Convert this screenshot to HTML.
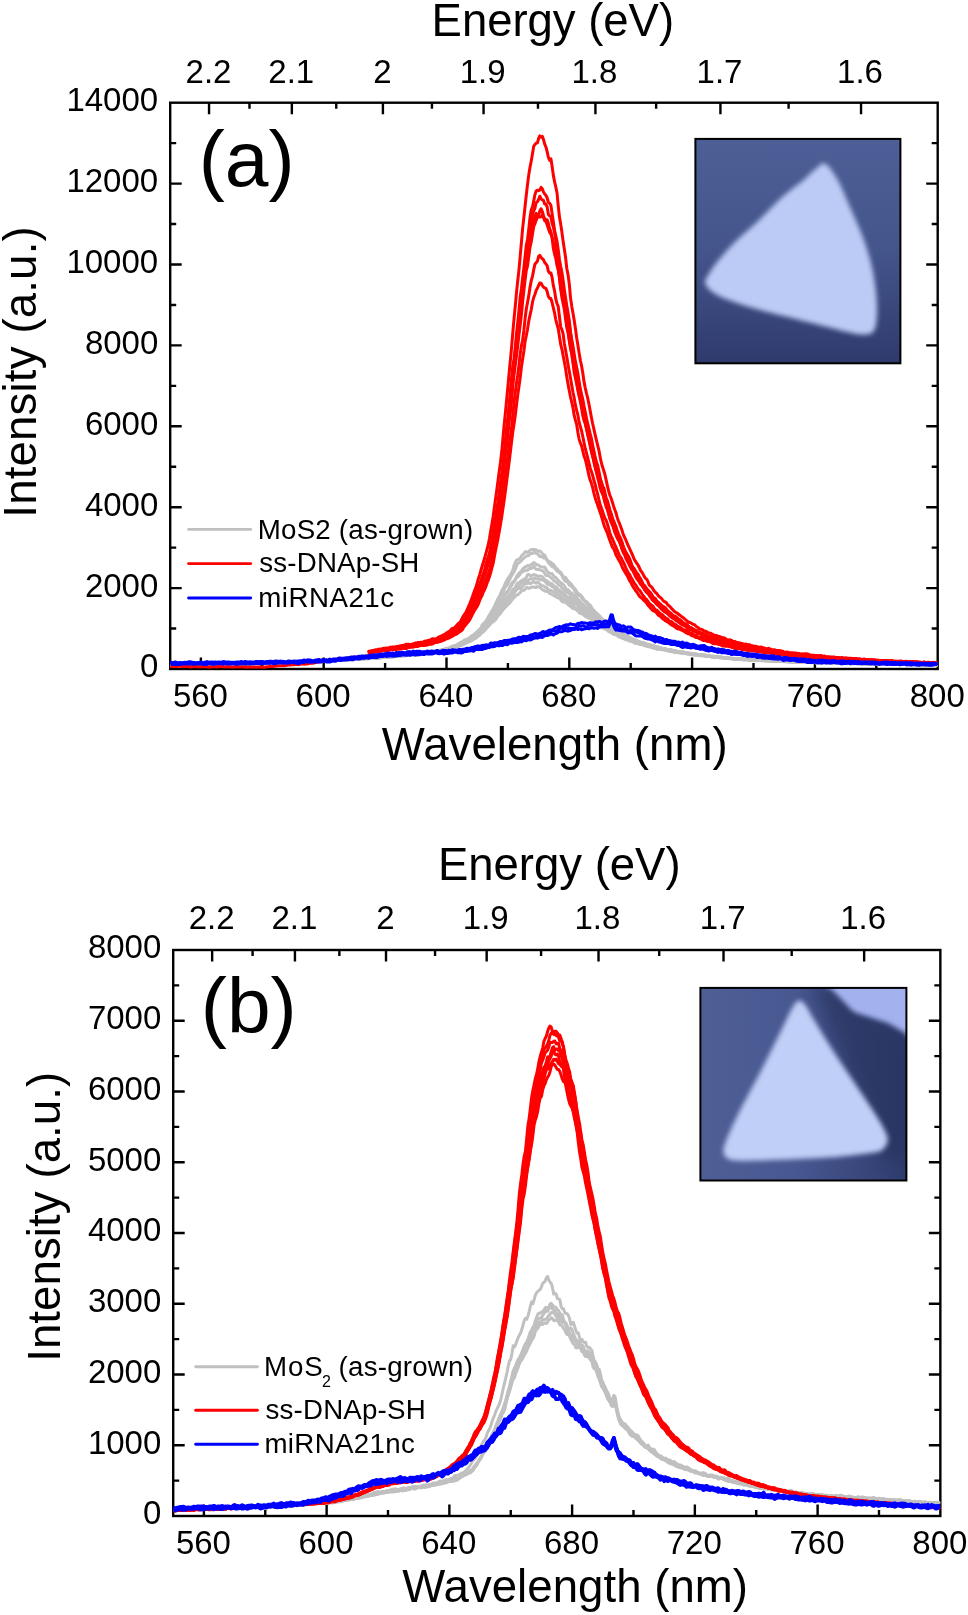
<!DOCTYPE html>
<html><head><meta charset="utf-8"><title>PL spectra</title>
<style>html,body{margin:0;padding:0;background:#fff;}svg{display:block;will-change:transform;}text{font-family:"Liberation Sans",sans-serif;fill:#000;}</style>
</head><body>
<svg width="968" height="1615" viewBox="0 0 968 1615">
<rect width="968" height="1615" fill="#fff"/>
<rect x="170.20" y="102.70" width="767.50" height="566.30" fill="none" stroke="#000" stroke-width="2.4"/>
<path d="M200.90 669.00v-11.50M262.30 669.00v-6.00M323.70 669.00v-11.50M385.10 669.00v-6.00M446.50 669.00v-11.50M507.90 669.00v-6.00M569.30 669.00v-11.50M630.70 669.00v-6.00M692.10 669.00v-11.50M753.50 669.00v-6.00M814.90 669.00v-11.50M876.30 669.00v-6.00M209.05 102.70v11.50M249.48 102.70v6.00M291.84 102.70v11.50M336.27 102.70v6.00M382.91 102.70v11.50M431.95 102.70v6.00M483.57 102.70v11.50M537.98 102.70v6.00M595.42 102.70v11.50M656.13 102.70v6.00M720.42 102.70v11.50M788.60 102.70v6.00M861.04 102.70v11.50M170.20 628.55h6.00M937.70 628.55h-6.00M170.20 588.10h11.50M937.70 588.10h-11.50M170.20 547.65h6.00M937.70 547.65h-6.00M170.20 507.20h11.50M937.70 507.20h-11.50M170.20 466.75h6.00M937.70 466.75h-6.00M170.20 426.30h11.50M937.70 426.30h-11.50M170.20 385.85h6.00M937.70 385.85h-6.00M170.20 345.40h11.50M937.70 345.40h-11.50M170.20 304.95h6.00M937.70 304.95h-6.00M170.20 264.50h11.50M937.70 264.50h-11.50M170.20 224.05h6.00M937.70 224.05h-6.00M170.20 183.60h11.50M937.70 183.60h-11.50M170.20 143.15h6.00M937.70 143.15h-6.00" stroke="#000" stroke-width="2.4" fill="none"/>
<text x="172.92" y="707.00" font-size="33.00" font-family="Liberation Sans, sans-serif">560</text>
<text x="295.60" y="707.00" font-size="33.00" font-family="Liberation Sans, sans-serif">600</text>
<text x="418.40" y="707.00" font-size="33.00" font-family="Liberation Sans, sans-serif">640</text>
<text x="541.20" y="707.00" font-size="33.00" font-family="Liberation Sans, sans-serif">680</text>
<text x="664.00" y="707.00" font-size="33.00" font-family="Liberation Sans, sans-serif">720</text>
<text x="786.80" y="707.00" font-size="33.00" font-family="Liberation Sans, sans-serif">760</text>
<text x="909.73" y="707.00" font-size="33.00" font-family="Liberation Sans, sans-serif">800</text>
<text x="185.55" y="82.70" font-size="33.00" font-family="Liberation Sans, sans-serif">2.2</text>
<text x="268.34" y="82.70" font-size="33.00" font-family="Liberation Sans, sans-serif">2.1</text>
<text x="373.16" y="82.70" font-size="33.00" font-family="Liberation Sans, sans-serif">2</text>
<text x="459.70" y="82.70" font-size="33.00" font-family="Liberation Sans, sans-serif">1.9</text>
<text x="571.42" y="82.70" font-size="33.00" font-family="Liberation Sans, sans-serif">1.8</text>
<text x="696.54" y="82.70" font-size="33.00" font-family="Liberation Sans, sans-serif">1.7</text>
<text x="837.04" y="82.70" font-size="33.00" font-family="Liberation Sans, sans-serif">1.6</text>
<text x="139.90" y="677.40" font-size="33.00" font-family="Liberation Sans, sans-serif">0</text>
<text x="84.90" y="596.50" font-size="33.00" font-family="Liberation Sans, sans-serif">2000</text>
<text x="84.90" y="515.60" font-size="33.00" font-family="Liberation Sans, sans-serif">4000</text>
<text x="84.90" y="434.70" font-size="33.00" font-family="Liberation Sans, sans-serif">6000</text>
<text x="84.90" y="353.80" font-size="33.00" font-family="Liberation Sans, sans-serif">8000</text>
<text x="66.40" y="272.90" font-size="33.00" font-family="Liberation Sans, sans-serif">10000</text>
<text x="66.40" y="192.00" font-size="33.00" font-family="Liberation Sans, sans-serif">12000</text>
<text x="66.40" y="111.10" font-size="33.00" font-family="Liberation Sans, sans-serif">14000</text>
<rect x="173.20" y="950.00" width="767.15" height="566.00" fill="none" stroke="#000" stroke-width="2.4"/>
<path d="M203.89 1516.00v-11.50M265.26 1516.00v-6.00M326.63 1516.00v-11.50M388.00 1516.00v-6.00M449.37 1516.00v-11.50M510.75 1516.00v-6.00M572.12 1516.00v-11.50M633.49 1516.00v-6.00M694.86 1516.00v-11.50M756.23 1516.00v-6.00M817.61 1516.00v-11.50M878.98 1516.00v-6.00M212.15 950.00v11.50M252.58 950.00v6.00M294.94 950.00v11.50M339.37 950.00v6.00M386.01 950.00v11.50M435.05 950.00v6.00M486.67 950.00v11.50M541.08 950.00v6.00M598.52 950.00v11.50M659.23 950.00v6.00M723.52 950.00v11.50M791.70 950.00v6.00M864.14 950.00v11.50M173.20 1480.62h6.00M940.35 1480.62h-6.00M173.20 1445.25h11.50M940.35 1445.25h-11.50M173.20 1409.88h6.00M940.35 1409.88h-6.00M173.20 1374.50h11.50M940.35 1374.50h-11.50M173.20 1339.12h6.00M940.35 1339.12h-6.00M173.20 1303.75h11.50M940.35 1303.75h-11.50M173.20 1268.38h6.00M940.35 1268.38h-6.00M173.20 1233.00h11.50M940.35 1233.00h-11.50M173.20 1197.62h6.00M940.35 1197.62h-6.00M173.20 1162.25h11.50M940.35 1162.25h-11.50M173.20 1126.88h6.00M940.35 1126.88h-6.00M173.20 1091.50h11.50M940.35 1091.50h-11.50M173.20 1056.12h6.00M940.35 1056.12h-6.00M173.20 1020.75h11.50M940.35 1020.75h-11.50M173.20 985.38h6.00M940.35 985.38h-6.00" stroke="#000" stroke-width="2.4" fill="none"/>
<text x="175.91" y="1554.30" font-size="33.00" font-family="Liberation Sans, sans-serif">560</text>
<text x="298.53" y="1554.30" font-size="33.00" font-family="Liberation Sans, sans-serif">600</text>
<text x="421.27" y="1554.30" font-size="33.00" font-family="Liberation Sans, sans-serif">640</text>
<text x="544.02" y="1554.30" font-size="33.00" font-family="Liberation Sans, sans-serif">680</text>
<text x="666.76" y="1554.30" font-size="33.00" font-family="Liberation Sans, sans-serif">720</text>
<text x="789.51" y="1554.30" font-size="33.00" font-family="Liberation Sans, sans-serif">760</text>
<text x="912.37" y="1554.30" font-size="33.00" font-family="Liberation Sans, sans-serif">800</text>
<text x="188.65" y="928.50" font-size="33.00" font-family="Liberation Sans, sans-serif">2.2</text>
<text x="271.44" y="928.50" font-size="33.00" font-family="Liberation Sans, sans-serif">2.1</text>
<text x="376.26" y="928.50" font-size="33.00" font-family="Liberation Sans, sans-serif">2</text>
<text x="462.80" y="928.50" font-size="33.00" font-family="Liberation Sans, sans-serif">1.9</text>
<text x="574.52" y="928.50" font-size="33.00" font-family="Liberation Sans, sans-serif">1.8</text>
<text x="699.64" y="928.50" font-size="33.00" font-family="Liberation Sans, sans-serif">1.7</text>
<text x="840.14" y="928.50" font-size="33.00" font-family="Liberation Sans, sans-serif">1.6</text>
<text x="142.90" y="1524.40" font-size="33.00" font-family="Liberation Sans, sans-serif">0</text>
<text x="87.90" y="1453.65" font-size="33.00" font-family="Liberation Sans, sans-serif">1000</text>
<text x="87.90" y="1382.90" font-size="33.00" font-family="Liberation Sans, sans-serif">2000</text>
<text x="87.90" y="1312.15" font-size="33.00" font-family="Liberation Sans, sans-serif">3000</text>
<text x="87.90" y="1241.40" font-size="33.00" font-family="Liberation Sans, sans-serif">4000</text>
<text x="87.90" y="1170.65" font-size="33.00" font-family="Liberation Sans, sans-serif">5000</text>
<text x="87.90" y="1099.90" font-size="33.00" font-family="Liberation Sans, sans-serif">6000</text>
<text x="87.90" y="1029.15" font-size="33.00" font-family="Liberation Sans, sans-serif">7000</text>
<text x="87.90" y="958.40" font-size="33.00" font-family="Liberation Sans, sans-serif">8000</text>
<clipPath id="ca"><rect x="170.2" y="102.7" width="767.5" height="566.3"/></clipPath>
<g clip-path="url(#ca)">
<path d="M170.2 665.2l1.2 0l1.3 .1l1.2 -.1l1.2 -.2l1.2 .2l1.3 -.2l1.2 -.3l1.2 .3l1.3 0l1.2 -.1l1.2 .1l1.2 -.2l1.3 .1l1.2 0l1.2 -.2l1.2 -.1l1.3 .1l1.2 0l1.2 .1l1.3 .1l1.2 -.2l1.2 .1l1.2 0l1.3 -.3l1.2 -.3l1.2 .1l1.3 .1l1.2 .2l1.2 .2l1.2 0l1.3 -.2l1.2 -.3l1.2 .1l1.3 .2l1.2 -.1l1.2 -.2l1.2 0l1.3 -.1l1.2 0l1.2 .1l1.2 .1l1.3 -.1l1.2 -.2l1.2 0l1.3 .1l1.2 -.1l1.2 0l1.2 -.1l1.3 0l1.2 -.1l1.2 .1l1.3 0l1.2 .1l1.2 0l1.2 -.1l1.3 0l1.2 -.2l1.2 0l1.3 .1l1.2 .1l1.2 0l1.2 -.2l1.3 0l1.2 -.1l1.2 0l1.2 .1l1.3 0l1.2 -.2l1.2 -.2l1.3 .1l1.2 0l1.2 -.3l1.2 0l1.3 .2l1.2 -.1l1.2 -.1l1.3 .1l1.2 .1l1.2 -.2l1.2 -.2l1.3 .1l1.2 0l1.2 -.2l1.3 -.2l1.2 0l1.2 0l1.2 0l1.3 -.1l1.2 -.1l1.2 0l1.2 .1l1.3 0l1.2 0l1.2 0l1.3 -.1l1.2 -.2l1.2 .2l1.2 0l1.3 -.4l1.2 0l1.2 .3l1.3 -.1l1.2 -.3l1.2 -.1l1.2 .1l1.3 -.3l1.2 -.3l1.2 .2l1.3 .1l1.2 -.2l1.2 0l1.2 -.2l1.3 0l1.2 .1l1.2 .1l1.2 0l1.3 -.1l1.2 -.3l1.2 -.1l1.3 .1l1.2 0l1.2 -.1l1.2 -.1l1.3 .1l1.2 .2l1.2 -.1l1.3 -.2l1.2 -.3l1.2 -.2l1.2 .2l1.3 .1l1.2 -.2l1.2 -.1l1.3 -.2l1.2 -.2l1.2 .1l1.2 0l1.3 .1l1.2 .1l1.2 -.5l1.2 -.3l1.3 .1l1.2 0l1.2 .1l1.3 .1l1.2 -.3l1.2 -.4l1.2 .2l1.3 0l1.2 -.4l1.2 -.1l1.3 .1l1.2 .1l1.2 -.2l1.2 0l1.3 0l1.2 -.1l1.2 -.2l1.3 -.2l1.2 -.1l1.2 -.1l1.2 0l1.3 0l1.2 -.3l1.2 -.2l1.2 .1l1.3 -.2l1.2 -.3l1.2 -.1l1.3 0l1.2 .1l1.2 -.1l1.2 -.1l1.3 -.3l1.2 -.1l1.2 0l1.3 -.1l1.2 -.2l1.2 .2l1.2 0l1.3 -.5l1.2 .1l1.2 -.3l1.3 -.3l1.2 .2l1.2 0l1.2 -.2l1.3 -.3l1.2 0l1.2 -.1l1.2 -.3l1.3 -.3l1.2 0l1.2 .1l1.3 0l1.2 .1l1.2 -.1l1.2 -.6l1.3 -.3l1.2 0l1.2 0l1.3 -.4l1.2 -.2l1.2 -.1l1.2 -.1l1.3 0l1.2 -.3l1.2 0l1.3 .2l1.2 -.2l1.2 -.3l1.2 -.1l1.3 -.3l1.2 -.4l1.2 -.4l1.2 -.1l1.3 0l1.2 -.1l1.2 -.7l1.3 -.2l1.2 -.3l1.2 -.3l1.2 -.1l1.3 -.3l1.2 -.3l1.2 -.3l1.3 -.4l1.2 -.9l1.2 -.5l1.2 -.5l1.3 -.5l1.2 .1l1.2 -.6l1.3 -.7l1.2 -.9l1.2 -.8l1.2 -.6l1.3 -.6l1.2 -.9l1.2 -.8l1.2 -.4l1.3 -.4l1.2 -.5l1.2 -1l1.3 -1.2l1.2 -1l1.2 -.5l1.2 -.8l1.3 -1.4l1.2 -.9l1.2 -1.4l1.3 -1.1l1.2 -1.4l1.2 -2.8l1.2 -1.3l1.3 -1.1l1.2 -1.5l1.2 -1.6l1.3 -2.7l1.2 -1.9l1.2 -1.8l1.2 -2.4l1.3 -2l1.2 -2.3l1.2 -2.6l1.2 -2.7l1.3 -2.6l1.2 -1.8l1.2 -2.8l1.3 -3.5l1.2 -1.6l1.2 -2.6l1.2 -3.2l1.3 -2.4l1.2 -2.2l1.2 -1.4l1.3 -2.1l1.2 -2.1l1.2 -2.6l1.2 -4.6l1.3 -3.2l1.2 -2.2l1.2 -.7l1.3 -.3l1.2 -1.1l1.2 -2l1.2 -1.5l1.3 -1l1.2 -1.8l1.2 0l1.2 .8l1.3 -1.1l1.2 -1.3l1.2 -.7l1.3 .1l1.2 0l1.2 -.2l1.2 .4l1.3 .9l1.2 .6l1.2 -.3l1.3 .9l1.2 1.6l1.2 1.2l1.2 .5l1.3 2.6l1.2 2.8l1.2 .4l1.3 .7l1.2 .7l1.2 1.2l1.2 .5l1.3 1.8l1.2 1.9l1.2 .7l1.2 1.7l1.3 1.3l1.2 .7l1.2 2l1.3 2.4l1.2 .4l1.2 .5l1.2 1.9l1.3 1.5l1.2 1.6l1.2 1l1.3 1.3l1.2 2.1l1.2 1.2l1.2 1.3l1.3 2.1l1.2 1.8l1.2 .7l1.3 .9l1.2 1.1l1.2 1.8l1.2 2.3l1.3 1l1.2 .6l1.2 1.2l1.2 1.5l1.3 .8l1.2 1.7l1.2 2.5l1.3 1.4l1.2 1.1l1.2 1.1l1.2 .9l1.3 1.3l1.2 1.2l1.2 1.6l1.3 1.1l1.2 1.2l1.2 1.3l1.2 1.2l1.3 1.3l1.2 .8l1.2 .9l1.3 .7l1.2 .9l1.2 1l1.2 .7l1.3 1.1l1.2 .9l1.2 .8l1.2 .6l1.3 -.2l1.2 .6l1.2 1.3l1.3 1l1.2 .3l1.2 .6l1.2 1.1l1.3 .7l1.2 .5l1.2 .6l1.3 .3l1.2 .3l1.2 .8l1.2 .6l1.3 .4l1.2 .5l1.2 .5l1.3 -.2l1.2 .2l1.2 .7l1.2 .1l1.3 .6l1.2 .5l1.2 .2l1.2 .4l1.3 .1l1.2 .3l1.2 .8l1.3 .3l1.2 0l1.2 .3l1.2 .7l1.3 .5l1.2 .4l1.2 .2l1.3 .1l1.2 0l1.2 .7l1.2 .4l1.3 .1l1.2 .1l1.2 -.1l1.3 .5l1.2 .5l1.2 .2l1.2 .1l1.3 .4l1.2 .4l1.2 .1l1.2 -.1l1.3 -.2l1.2 .4l1.2 .7l1.3 .2l1.2 .1l1.2 .1l1.2 .2l1.3 .3l1.2 0l1.2 .1l1.3 .2l1.2 0l1.2 .2l1.2 .6l1.3 0l1.2 0l1.2 .3l1.3 -.1l1.2 .2l1.2 .4l1.2 .1l1.3 0l1.2 .1l1.2 .3l1.2 .3l1.3 0l1.2 .1l1.2 .2l1.3 -.2l1.2 .1l1.2 .1l1.2 .4l1.3 .3l1.2 0l1.2 .1l1.3 0l1.2 .2l1.2 .4l1.2 .1l1.3 -.2l1.2 .3l1.2 .3l1.3 .1l1.2 -.1l1.2 .2l1.2 .2l1.3 -.1l1.2 0l1.2 -.2l1.2 -.1l1.3 .5l1.2 0l1.2 .1l1.3 .6l1.2 .1l1.2 -.2l1.2 -.2l1.3 .4l1.2 .1l1.2 -.2l1.3 .1l1.2 0l1.2 .1l1.2 0l1.3 .3l1.2 -.1l1.2 -.1l1.3 .2l1.2 -.1l1.2 .3l1.2 .2l1.3 .1l1.2 .1l1.2 0l1.2 -.1l1.3 -.1l1.2 0l1.2 .2l1.3 .3l1.2 -.3l1.2 -.3l1.2 .5l1.3 .4l1.2 0l1.2 -.1l1.3 -.1l1.2 0l1.2 .1l1.2 .2l1.3 .1l1.2 0l1.2 .1l1.3 0l1.2 0l1.2 .2l1.2 .2l1.3 -.2l1.2 .2l1.2 0l1.2 0l1.3 .1l1.2 0l1.2 0l1.3 0l1.2 -.1l1.2 0l1.2 .1l1.3 0l1.2 .2l1.2 .1l1.3 -.1l1.2 0l1.2 .3l1.2 .3l1.3 -.2l1.2 -.1l1.2 0l1.3 .1l1.2 0l1.2 0l1.2 .1l1.3 .1l1.2 -.2l1.2 -.1l1.2 .4l1.3 .2l1.2 0l1.2 -.1l1.3 -.2l1.2 0l1.2 .3l1.2 .1l1.3 -.3l1.2 .1l1.2 -.1l1.3 .1l1.2 .1l1.2 -.3l1.2 .3l1.3 .3l1.2 -.2l1.2 -.3l1.3 .2l1.2 .3l1.2 -.2l1.2 .2l1.3 .1l1.2 0l1.2 0l1.2 .1l1.3 -.2l1.2 0l1.2 .3l1.3 -.1l1.2 .1l1.2 -.1l1.2 .1l1.3 0l1.2 -.2l1.2 -.1l1.3 .2l1.2 0l1.2 .1l1.2 .1l1.3 .1l1.2 .2l1.2 -.1l1.3 -.2l1.2 -.1l1.2 .1l1.2 0l1.3 .1l1.2 0l1.2 -.1l1.2 .1l1.3 .2l1.2 .1l1.2 -.2l1.3 -.2l1.2 .1l1.2 .3l1.2 -.1l1.3 -.1l1.2 .1l1.2 .1l1.3 0l1.2 -.1l1.2 -.2l1.2 .3l1.3 .2l1.2 -.1l1.2 -.1l1.3 .3l1.2 0l1.2 -.4l1.2 .2l1.3 .2l1.2 -.2l1.2 0l1.2 .3l1.3 .1l1.2 0l1.2 .1l1.3 -.1l1.2 -.1l1.2 0l1.2 -.1l1.3 -.1l1.2 0" stroke="#c0c0c0" stroke-width="3.0" fill="none" stroke-linejoin="round"/>
<path d="M170.2 665.0l1.2 .1l1.3 .1l1.2 -.1l1.2 0l1.2 .2l1.3 -.1l1.2 .1l1.2 .1l1.3 -.2l1.2 -.2l1.2 -.2l1.2 0l1.3 0l1.2 .1l1.2 -.1l1.2 0l1.3 -.1l1.2 .2l1.2 .2l1.3 -.2l1.2 -.1l1.2 .2l1.2 -.1l1.3 -.4l1.2 0l1.2 .1l1.3 -.1l1.2 0l1.2 0l1.2 0l1.3 0l1.2 0l1.2 0l1.3 -.2l1.2 -.1l1.2 -.1l1.2 .1l1.3 0l1.2 0l1.2 -.1l1.2 .1l1.3 .2l1.2 -.1l1.2 .1l1.3 0l1.2 -.2l1.2 .1l1.2 0l1.3 -.2l1.2 -.1l1.2 .1l1.3 -.2l1.2 .1l1.2 .2l1.2 -.1l1.3 -.2l1.2 .1l1.2 0l1.3 -.2l1.2 .1l1.2 0l1.2 0l1.3 -.2l1.2 -.2l1.2 0l1.2 .1l1.3 -.1l1.2 -.2l1.2 .1l1.3 .4l1.2 -.1l1.2 -.6l1.2 0l1.3 .3l1.2 -.2l1.2 -.1l1.3 .1l1.2 -.2l1.2 .2l1.2 0l1.3 -.3l1.2 0l1.2 0l1.3 0l1.2 -.1l1.2 -.3l1.2 .2l1.3 .2l1.2 -.2l1.2 0l1.2 .1l1.3 -.1l1.2 -.1l1.2 0l1.3 -.1l1.2 -.2l1.2 -.1l1.2 0l1.3 -.1l1.2 .1l1.2 .1l1.3 -.2l1.2 -.1l1.2 .1l1.2 -.2l1.3 -.1l1.2 .1l1.2 -.2l1.3 -.1l1.2 .1l1.2 .1l1.2 -.2l1.3 -.1l1.2 -.1l1.2 0l1.2 .1l1.3 .1l1.2 -.3l1.2 -.1l1.3 .1l1.2 -.3l1.2 0l1.2 -.1l1.3 -.2l1.2 .1l1.2 0l1.3 .2l1.2 0l1.2 -.2l1.2 -.1l1.3 -.3l1.2 -.1l1.2 0l1.3 -.1l1.2 0l1.2 0l1.2 .3l1.3 -.1l1.2 -.3l1.2 -.2l1.2 -.1l1.3 0l1.2 -.2l1.2 -.2l1.3 .1l1.2 -.1l1.2 .1l1.2 .1l1.3 -.3l1.2 -.3l1.2 0l1.3 .2l1.2 -.2l1.2 -.4l1.2 -.1l1.3 .2l1.2 -.1l1.2 -.1l1.3 -.3l1.2 -.3l1.2 0l1.2 .2l1.3 -.3l1.2 -.1l1.2 .1l1.2 0l1.3 0l1.2 -.2l1.2 -.1l1.3 -.1l1.2 -.2l1.2 -.1l1.2 0l1.3 0l1.2 -.2l1.2 -.1l1.3 -.1l1.2 -.3l1.2 .1l1.2 .3l1.3 -.4l1.2 -.3l1.2 -.2l1.3 -.2l1.2 .3l1.2 -.5l1.2 -.3l1.3 .2l1.2 .1l1.2 -.3l1.2 -.1l1.3 -.1l1.2 -.4l1.2 .1l1.3 .1l1.2 -.4l1.2 -.4l1.2 -.2l1.3 .2l1.2 -.2l1.2 -.2l1.3 .1l1.2 -.2l1.2 0l1.2 -.6l1.3 -.4l1.2 .2l1.2 .1l1.3 .1l1.2 -.3l1.2 -.4l1.2 0l1.3 -.1l1.2 -.4l1.2 -.2l1.2 .1l1.3 -.4l1.2 -.6l1.2 -.2l1.3 -.1l1.2 .2l1.2 -.2l1.2 -.7l1.3 -.8l1.2 -.6l1.2 0l1.3 .2l1.2 -.3l1.2 -.8l1.2 -.6l1.3 -.4l1.2 -.7l1.2 -.3l1.3 .1l1.2 -.5l1.2 -.7l1.2 -1.3l1.3 -.8l1.2 0l1.2 -.8l1.2 -1.2l1.3 -.6l1.2 -.6l1.2 -1l1.3 -.8l1.2 -.5l1.2 -.8l1.2 -1.2l1.3 -1l1.2 -1.2l1.2 -1.3l1.3 -1l1.2 -1.3l1.2 -1.7l1.2 -1.5l1.3 -1.7l1.2 -2.2l1.2 -.9l1.3 -1.4l1.2 -2.3l1.2 -1.7l1.2 -2.3l1.3 -2.2l1.2 -2.2l1.2 -2.3l1.2 -2.1l1.3 -1.9l1.2 -2.1l1.2 -3.2l1.3 -1.8l1.2 -2.7l1.2 -3.4l1.2 -2.2l1.3 -1.3l1.2 -1.5l1.2 -3.7l1.3 -2.5l1.2 -2.5l1.2 -1.9l1.2 -1.7l1.3 -2.7l1.2 -3.1l1.2 -2.5l1.3 -.9l1.2 -.9l1.2 -1.2l1.2 -1.5l1.3 -1l1.2 -1.1l1.2 -.9l1.2 -.3l1.3 -.3l1.2 -1.6l1.2 -.5l1.3 0l1.2 -1.4l1.2 .3l1.2 1.2l1.3 .3l1.2 1.2l1.2 1.6l1.3 -.1l1.2 .3l1.2 1.1l1.2 .2l1.3 .3l1.2 2.2l1.2 1.9l1.3 1.6l1.2 1.2l1.2 1.3l1.2 .6l1.3 .8l1.2 1.5l1.2 1.4l1.2 1.1l1.3 .6l1.2 1.2l1.2 1.7l1.3 3l1.2 1.7l1.2 1.2l1.2 .3l1.3 1.1l1.2 2.3l1.2 .7l1.3 .9l1.2 1.2l1.2 1.9l1.2 2.4l1.3 1.8l1.2 1.4l1.2 .4l1.3 .2l1.2 2l1.2 1.4l1.2 1l1.3 1.2l1.2 1.3l1.2 1.2l1.2 1.3l1.3 2.2l1.2 2.1l1.2 .2l1.3 .4l1.2 2.5l1.2 1.5l1.2 .8l1.3 1.4l1.2 1.8l1.2 .8l1.3 .5l1.2 1.1l1.2 .8l1.2 1l1.3 1l1.2 1.3l1.2 1.4l1.3 1l1.2 .7l1.2 .7l1.2 1.2l1.3 .4l1.2 .2l1.2 1.7l1.2 1.3l1.3 .1l1.2 .5l1.2 .4l1.3 .3l1.2 .8l1.2 .5l1.2 .4l1.3 .9l1.2 .7l1.2 .5l1.3 .6l1.2 .5l1.2 .3l1.2 .4l1.3 .8l1.2 .5l1.2 .6l1.3 .3l1.2 -.1l1.2 .6l1.2 1l1.3 .3l1.2 .1l1.2 .4l1.2 .4l1.3 .3l1.2 .5l1.2 .1l1.3 .2l1.2 .5l1.2 .2l1.2 .4l1.3 .3l1.2 .3l1.2 .4l1.3 .3l1.2 .1l1.2 .4l1.2 .5l1.3 .2l1.2 .2l1.2 -.1l1.3 .2l1.2 .5l1.2 .2l1.2 0l1.3 .4l1.2 .2l1.2 .5l1.2 .5l1.3 -.4l1.2 -.1l1.2 .4l1.3 .4l1.2 .1l1.2 .2l1.2 .1l1.3 -.1l1.2 .3l1.2 .5l1.3 .1l1.2 .1l1.2 .3l1.2 .2l1.3 .2l1.2 0l1.2 0l1.3 .1l1.2 -.2l1.2 .3l1.2 .5l1.3 .2l1.2 .3l1.2 .2l1.2 0l1.3 -.1l1.2 .3l1.2 .2l1.3 .1l1.2 .1l1.2 .2l1.2 -.2l1.3 .2l1.2 .5l1.2 .3l1.3 -.1l1.2 0l1.2 .3l1.2 .3l1.3 0l1.2 .1l1.2 -.1l1.3 0l1.2 .4l1.2 0l1.2 .3l1.3 .2l1.2 -.1l1.2 0l1.2 .1l1.3 -.1l1.2 -.1l1.2 .1l1.3 0l1.2 .2l1.2 0l1.2 0l1.3 .6l1.2 .4l1.2 -.2l1.3 -.3l1.2 .1l1.2 -.1l1.2 .1l1.3 .2l1.2 0l1.2 .2l1.3 .2l1.2 -.1l1.2 -.1l1.2 0l1.3 .1l1.2 .3l1.2 .1l1.2 -.2l1.3 .2l1.2 .1l1.2 -.1l1.3 .1l1.2 .1l1.2 .1l1.2 .1l1.3 .1l1.2 .1l1.2 .1l1.3 .1l1.2 .1l1.2 -.2l1.2 -.1l1.3 .1l1.2 .1l1.2 0l1.3 .1l1.2 .1l1.2 -.1l1.2 .2l1.3 .2l1.2 -.1l1.2 -.1l1.2 .1l1.3 -.3l1.2 .1l1.2 .3l1.3 0l1.2 .2l1.2 .1l1.2 -.1l1.3 .1l1.2 .1l1.2 0l1.3 0l1.2 .2l1.2 -.1l1.2 -.2l1.3 .2l1.2 .1l1.2 .3l1.3 -.1l1.2 -.1l1.2 0l1.2 .1l1.3 .2l1.2 -.1l1.2 -.1l1.2 0l1.3 .1l1.2 .1l1.2 .1l1.3 -.1l1.2 -.2l1.2 .1l1.2 .3l1.3 .1l1.2 -.1l1.2 .1l1.3 -.1l1.2 -.1l1.2 .1l1.2 .2l1.3 .1l1.2 .1l1.2 -.1l1.3 0l1.2 0l1.2 0l1.2 .1l1.3 -.1l1.2 -.1l1.2 .2l1.2 .1l1.3 0l1.2 -.1l1.2 .1l1.3 .1l1.2 0l1.2 -.1l1.2 -.1l1.3 .2l1.2 -.1l1.2 -.1l1.3 .3l1.2 .2l1.2 0l1.2 .1l1.3 0l1.2 -.3l1.2 -.1l1.3 0l1.2 .4l1.2 .1l1.2 -.3l1.3 .3l1.2 .1l1.2 -.2l1.2 -.1l1.3 .3l1.2 .1l1.2 -.2l1.3 -.3l1.2 .1l1.2 .3l1.2 0l1.3 -.1l1.2 0l1.2 -.1l1.3 .1l1.2 .3l1.2 0l1.2 -.1l1.3 -.1l1.2 -.1l1.2 .2l1.3 0l1.2 -.1l1.2 .1l1.2 0l1.3 0l1.2 .1l1.2 0l1.2 0l1.3 -.3l1.2 .1l1.2 .4l1.3 .1l1.2 -.1l1.2 0l1.2 0l1.3 -.2l1.2 -.1" stroke="#c0c0c0" stroke-width="3.0" fill="none" stroke-linejoin="round"/>
<path d="M170.2 665.2l1.2 .1l1.3 -.1l1.2 .1l1.2 -.3l1.2 -.1l1.3 0l1.2 .1l1.2 .2l1.3 -.1l1.2 -.2l1.2 -.2l1.2 .1l1.3 .4l1.2 -.1l1.2 -.2l1.2 -.1l1.3 .1l1.2 0l1.2 -.1l1.3 -.2l1.2 .1l1.2 .1l1.2 .2l1.3 .1l1.2 -.4l1.2 -.1l1.3 .1l1.2 -.2l1.2 0l1.2 .2l1.3 -.1l1.2 -.1l1.2 .1l1.3 -.1l1.2 -.3l1.2 .1l1.2 .3l1.3 -.1l1.2 -.3l1.2 .1l1.2 .1l1.3 0l1.2 -.1l1.2 -.1l1.3 0l1.2 -.1l1.2 -.3l1.2 .2l1.3 .1l1.2 -.1l1.2 -.3l1.3 .1l1.2 .4l1.2 -.2l1.2 .1l1.3 0l1.2 -.2l1.2 .1l1.3 0l1.2 -.3l1.2 0l1.2 .3l1.3 .1l1.2 -.1l1.2 -.1l1.2 -.1l1.3 -.4l1.2 0l1.2 .2l1.3 -.1l1.2 0l1.2 .1l1.2 0l1.3 -.2l1.2 -.1l1.2 0l1.3 -.3l1.2 -.1l1.2 .1l1.2 .1l1.3 -.1l1.2 -.1l1.2 0l1.3 0l1.2 .1l1.2 .1l1.2 0l1.3 -.2l1.2 .1l1.2 -.4l1.2 .1l1.3 .1l1.2 -.2l1.2 -.1l1.3 -.2l1.2 .2l1.2 .1l1.2 -.1l1.3 -.2l1.2 -.2l1.2 .1l1.3 .1l1.2 0l1.2 -.1l1.2 -.4l1.3 0l1.2 .2l1.2 .1l1.3 -.1l1.2 .1l1.2 -.4l1.2 -.2l1.3 .2l1.2 -.3l1.2 -.1l1.2 0l1.3 0l1.2 0l1.2 -.1l1.3 .1l1.2 -.1l1.2 -.1l1.2 -.2l1.3 0l1.2 .1l1.2 0l1.3 -.1l1.2 0l1.2 0l1.2 -.2l1.3 -.2l1.2 0l1.2 0l1.3 .2l1.2 -.2l1.2 -.2l1.2 0l1.3 -.1l1.2 -.2l1.2 0l1.2 -.1l1.3 0l1.2 0l1.2 0l1.3 0l1.2 -.2l1.2 .1l1.2 0l1.3 -.5l1.2 -.2l1.2 .2l1.3 0l1.2 -.1l1.2 .1l1.2 -.5l1.3 -.2l1.2 0l1.2 0l1.3 .3l1.2 -.1l1.2 -.5l1.2 -.3l1.3 0l1.2 0l1.2 .1l1.2 -.1l1.3 -.5l1.2 -.1l1.2 .1l1.3 -.1l1.2 0l1.2 0l1.2 .1l1.3 -.3l1.2 0l1.2 0l1.3 -.2l1.2 -.1l1.2 -.3l1.2 -.3l1.3 .2l1.2 -.2l1.2 -.2l1.3 .1l1.2 -.1l1.2 -.3l1.2 -.2l1.3 .1l1.2 -.1l1.2 0l1.2 -.3l1.3 -.2l1.2 .2l1.2 -.1l1.3 -.3l1.2 -.3l1.2 0l1.2 -.1l1.3 -.1l1.2 -.3l1.2 -.2l1.3 .3l1.2 -.3l1.2 -.5l1.2 -.2l1.3 0l1.2 .2l1.2 -.2l1.3 0l1.2 -.1l1.2 -.5l1.2 -.3l1.3 .4l1.2 -.3l1.2 -.7l1.2 -.1l1.3 -.2l1.2 -.2l1.2 -.2l1.3 -.3l1.2 0l1.2 -.4l1.2 -.5l1.3 -.2l1.2 -.2l1.2 -.2l1.3 -.2l1.2 -.3l1.2 -.5l1.2 -.7l1.3 -.4l1.2 -.1l1.2 -.7l1.3 -.8l1.2 -.2l1.2 -.5l1.2 -.5l1.3 -.6l1.2 -.5l1.2 -.6l1.2 -1.3l1.3 -1l1.2 -.7l1.2 -.3l1.3 0l1.2 -.5l1.2 -.6l1.2 -1.3l1.3 -1.7l1.2 -.9l1.2 -.9l1.3 -1.2l1.2 -1.1l1.2 -1.5l1.2 -1.2l1.3 -1.1l1.2 -1.8l1.2 -1.2l1.3 -1.4l1.2 -2.2l1.2 -2.1l1.2 -.9l1.3 -2l1.2 -2.7l1.2 -1.8l1.2 -1.8l1.3 -1.9l1.2 -1.6l1.2 -1.8l1.3 -2.2l1.2 -2.2l1.2 -3.1l1.2 -3.2l1.3 -1.4l1.2 -1l1.2 -2.2l1.3 -2.3l1.2 -2.5l1.2 -2.2l1.2 -.2l1.3 -1.9l1.2 -3.1l1.2 -1.9l1.3 -1.3l1.2 -1.5l1.2 -.9l1.2 -1.8l1.3 -1.5l1.2 -.7l1.2 -.5l1.2 -.9l1.3 .2l1.2 -.5l1.2 -.9l1.3 -.6l1.2 -1.3l1.2 .6l1.2 1.4l1.3 .5l1.2 0l1.2 1.2l1.3 .7l1.2 0l1.2 .3l1.2 -.1l1.3 2.1l1.2 2.2l1.2 1.3l1.3 .6l1.2 .1l1.2 .3l1.2 1.9l1.3 1.4l1.2 .5l1.2 1.6l1.2 1.3l1.3 1.2l1.2 .9l1.2 1l1.3 .9l1.2 1.4l1.2 2.4l1.2 1.3l1.3 .3l1.2 1.3l1.2 1.5l1.3 .4l1.2 1.3l1.2 1l1.2 .7l1.3 1.8l1.2 1.4l1.2 1.2l1.3 1.3l1.2 1.1l1.2 1l1.2 1.1l1.3 1.4l1.2 1.4l1.2 .1l1.2 1.1l1.3 1.8l1.2 .3l1.2 .7l1.3 1.9l1.2 .9l1.2 .5l1.2 1.9l1.3 2l1.2 .8l1.2 .9l1.3 1.3l1.2 1.2l1.2 1.1l1.2 .8l1.3 .6l1.2 1.5l1.2 1.8l1.3 0l1.2 .4l1.2 .8l1.2 .4l1.3 .6l1.2 .5l1.2 1l1.2 .9l1.3 .5l1.2 .5l1.2 .8l1.3 1.1l1.2 .4l1.2 .3l1.2 .7l1.3 .7l1.2 .4l1.2 .7l1.3 .8l1.2 -.1l1.2 .6l1.2 .6l1.3 .1l1.2 .4l1.2 .8l1.3 .3l1.2 0l1.2 .5l1.2 .4l1.3 .4l1.2 .2l1.2 .1l1.2 .9l1.3 .7l1.2 .1l1.2 .6l1.3 0l1.2 .1l1.2 .5l1.2 .1l1.3 .4l1.2 .5l1.2 .3l1.3 .1l1.2 0l1.2 .3l1.2 .5l1.3 .2l1.2 0l1.2 .1l1.3 .6l1.2 .4l1.2 .2l1.2 .2l1.3 .2l1.2 -.1l1.2 .1l1.2 .4l1.3 .2l1.2 0l1.2 .4l1.3 .4l1.2 0l1.2 .3l1.2 .1l1.3 .2l1.2 .1l1.2 .5l1.3 .2l1.2 -.3l1.2 .4l1.2 .3l1.3 -.2l1.2 .1l1.2 .5l1.3 .1l1.2 .2l1.2 .2l1.2 .3l1.3 -.2l1.2 -.1l1.2 .4l1.2 .1l1.3 0l1.2 0l1.2 .2l1.3 .1l1.2 .1l1.2 .3l1.2 .1l1.3 .4l1.2 .1l1.2 -.1l1.3 .2l1.2 .3l1.2 0l1.2 .1l1.3 .2l1.2 .2l1.2 .2l1.3 0l1.2 .2l1.2 .1l1.2 -.3l1.3 0l1.2 .3l1.2 -.2l1.2 .3l1.3 .1l1.2 0l1.2 .3l1.3 .1l1.2 .2l1.2 .2l1.2 0l1.3 0l1.2 -.2l1.2 -.1l1.3 .2l1.2 .1l1.2 0l1.2 .1l1.3 .1l1.2 .1l1.2 .1l1.3 0l1.2 .1l1.2 0l1.2 .1l1.3 .2l1.2 .2l1.2 0l1.2 0l1.3 .1l1.2 0l1.2 .1l1.3 0l1.2 -.1l1.2 .2l1.2 .1l1.3 0l1.2 .1l1.2 -.2l1.3 .1l1.2 .1l1.2 -.1l1.2 .1l1.3 .3l1.2 .1l1.2 -.2l1.3 0l1.2 .2l1.2 0l1.2 -.1l1.3 .1l1.2 .2l1.2 .2l1.2 -.2l1.3 -.2l1.2 .2l1.2 0l1.3 0l1.2 .2l1.2 .3l1.2 -.1l1.3 -.2l1.2 .2l1.2 .2l1.3 .1l1.2 -.2l1.2 0l1.2 .2l1.3 .1l1.2 -.1l1.2 0l1.3 .1l1.2 0l1.2 .1l1.2 0l1.3 .1l1.2 0l1.2 .1l1.2 .1l1.3 -.1l1.2 -.1l1.2 .1l1.3 -.2l1.2 0l1.2 .1l1.2 0l1.3 .2l1.2 .2l1.2 .2l1.3 .1l1.2 0l1.2 0l1.2 0l1.3 0l1.2 -.2l1.2 0l1.3 -.1l1.2 -.1l1.2 0l1.2 .1l1.3 .1l1.2 .1l1.2 0l1.2 0l1.3 .1l1.2 0l1.2 .1l1.3 .2l1.2 -.1l1.2 -.3l1.2 -.1l1.3 -.2l1.2 .3l1.2 .5l1.3 .1l1.2 0l1.2 -.4l1.2 -.2l1.3 .3l1.2 .2l1.2 0l1.3 .2l1.2 -.1l1.2 0l1.2 -.1l1.3 0l1.2 0l1.2 -.1l1.2 .1l1.3 .1l1.2 .1l1.2 -.1l1.3 0l1.2 .2l1.2 .1l1.2 -.2l1.3 .1l1.2 0l1.2 .1l1.3 0l1.2 -.2l1.2 .1l1.2 .1l1.3 0l1.2 -.1l1.2 0l1.3 .3l1.2 -.1l1.2 -.2l1.2 .1l1.3 .1l1.2 0l1.2 0l1.2 .2l1.3 .1l1.2 -.2l1.2 .1l1.3 .3l1.2 -.2l1.2 -.2l1.2 -.1l1.3 0l1.2 .3" stroke="#c0c0c0" stroke-width="3.0" fill="none" stroke-linejoin="round"/>
<path d="M170.2 665.0l1.2 .3l1.3 0l1.2 -.3l1.2 0l1.2 0l1.3 .3l1.2 0l1.2 -.3l1.3 -.1l1.2 -.1l1.2 .2l1.2 0l1.3 0l1.2 -.1l1.2 0l1.2 .1l1.3 0l1.2 -.1l1.2 -.1l1.3 0l1.2 .1l1.2 .1l1.2 0l1.3 -.2l1.2 -.3l1.2 0l1.3 .1l1.2 0l1.2 .1l1.2 .1l1.3 -.2l1.2 -.1l1.2 .1l1.3 -.1l1.2 .3l1.2 -.1l1.2 -.3l1.3 -.2l1.2 .3l1.2 .2l1.2 -.2l1.3 -.3l1.2 -.2l1.2 0l1.3 -.1l1.2 .2l1.2 .2l1.2 -.1l1.3 -.1l1.2 0l1.2 0l1.3 0l1.2 -.1l1.2 0l1.2 .3l1.3 -.1l1.2 -.2l1.2 -.1l1.3 0l1.2 .2l1.2 0l1.2 -.3l1.3 -.1l1.2 .1l1.2 -.2l1.2 0l1.3 0l1.2 -.1l1.2 0l1.3 -.1l1.2 -.3l1.2 0l1.2 .3l1.3 .2l1.2 -.1l1.2 -.2l1.3 -.1l1.2 -.1l1.2 0l1.2 .2l1.3 0l1.2 -.3l1.2 -.2l1.3 -.1l1.2 .1l1.2 .2l1.2 0l1.3 -.2l1.2 0l1.2 -.1l1.2 -.1l1.3 -.1l1.2 -.2l1.2 .1l1.3 .4l1.2 -.2l1.2 -.1l1.2 0l1.3 -.2l1.2 .1l1.2 -.2l1.3 -.2l1.2 0l1.2 0l1.2 -.1l1.3 0l1.2 0l1.2 -.1l1.3 0l1.2 0l1.2 -.2l1.2 -.1l1.3 .3l1.2 -.1l1.2 .1l1.2 -.1l1.3 -.4l1.2 -.1l1.2 0l1.3 .1l1.2 -.2l1.2 -.2l1.2 0l1.3 .1l1.2 0l1.2 .1l1.3 -.1l1.2 0l1.2 .1l1.2 -.1l1.3 -.3l1.2 -.4l1.2 .2l1.3 -.2l1.2 -.1l1.2 .3l1.2 0l1.3 -.1l1.2 -.1l1.2 -.3l1.2 0l1.3 -.1l1.2 -.3l1.2 .1l1.3 0l1.2 -.2l1.2 0l1.2 -.3l1.3 0l1.2 .2l1.2 -.2l1.3 -.2l1.2 -.1l1.2 .1l1.2 -.2l1.3 -.4l1.2 -.2l1.2 .1l1.3 .3l1.2 0l1.2 -.1l1.2 -.3l1.3 0l1.2 0l1.2 .2l1.2 -.2l1.3 -.3l1.2 -.1l1.2 .1l1.3 -.1l1.2 -.3l1.2 .1l1.2 -.2l1.3 -.3l1.2 0l1.2 -.2l1.3 0l1.2 -.1l1.2 -.2l1.2 -.2l1.3 -.2l1.2 .1l1.2 -.1l1.3 -.3l1.2 .2l1.2 0l1.2 -.3l1.3 -.1l1.2 -.4l1.2 -.3l1.2 .2l1.3 0l1.2 .1l1.2 0l1.3 -.5l1.2 0l1.2 -.1l1.2 -.2l1.3 0l1.2 -.2l1.2 -.5l1.3 -.2l1.2 .1l1.2 -.2l1.2 .2l1.3 -.3l1.2 -.2l1.2 .3l1.3 -.5l1.2 -.1l1.2 .2l1.2 -.5l1.3 -.4l1.2 -.2l1.2 -.3l1.2 -.1l1.3 -.4l1.2 -.3l1.2 -.3l1.3 -.1l1.2 .2l1.2 -.3l1.2 -.4l1.3 -.2l1.2 -.1l1.2 -.8l1.3 -.5l1.2 -.4l1.2 -.5l1.2 -.1l1.3 -.3l1.2 -.6l1.2 -.6l1.3 -.4l1.2 -.3l1.2 -.9l1.2 -.9l1.3 -.4l1.2 -.4l1.2 -.5l1.2 -1.1l1.3 -.7l1.2 -.7l1.2 -.7l1.3 0l1.2 -1.3l1.2 -1l1.2 -.8l1.3 -1.1l1.2 -.8l1.2 -1.2l1.3 -1.2l1.2 -1.2l1.2 -1.4l1.2 -.8l1.3 -1.6l1.2 -1.8l1.2 -1.4l1.3 -1.9l1.2 -1.3l1.2 -1.7l1.2 -2.4l1.3 -2.1l1.2 -1.9l1.2 -1.3l1.2 -1.4l1.3 -1.9l1.2 -1.7l1.2 -2.2l1.3 -2.5l1.2 -1.9l1.2 -2.4l1.2 -2l1.3 -1.8l1.2 -1.2l1.2 -2.3l1.3 -2.3l1.2 -1.6l1.2 -2l1.2 -1.5l1.3 -2.2l1.2 -2.4l1.2 -.5l1.3 -1.3l1.2 -1.8l1.2 -1.3l1.2 -.8l1.3 -.6l1.2 -.3l1.2 -.7l1.2 .1l1.3 -.9l1.2 -1.2l1.2 .5l1.3 -1.1l1.2 -1.4l1.2 1.8l1.2 1.3l1.3 .2l1.2 -.1l1.2 .6l1.3 .5l1.2 .3l1.2 .7l1.2 2.1l1.3 1.9l1.2 .2l1.2 .2l1.3 .8l1.2 1.1l1.2 .8l1.2 1.6l1.3 1.2l1.2 .7l1.2 1.1l1.2 1.4l1.3 .8l1.2 .6l1.2 2.3l1.3 .9l1.2 .6l1.2 1.9l1.2 .4l1.3 .5l1.2 1.4l1.2 1.1l1.3 1.2l1.2 1.7l1.2 .9l1.2 .9l1.3 1.4l1.2 .9l1.2 1.5l1.3 1.5l1.2 .9l1.2 .2l1.2 1.2l1.3 1.7l1.2 .8l1.2 1l1.2 .6l1.3 .7l1.2 .7l1.2 1.3l1.3 1.3l1.2 1.4l1.2 1.6l1.2 1.3l1.3 1.2l1.2 .9l1.2 .8l1.3 .5l1.2 1.3l1.2 1.7l1.2 .9l1.3 .6l1.2 1l1.2 .5l1.3 .4l1.2 1l1.2 1.1l1.2 1.1l1.3 .7l1.2 -.2l1.2 .7l1.2 .7l1.3 .2l1.2 .7l1.2 .6l1.3 .7l1.2 .5l1.2 .4l1.2 .7l1.3 .7l1.2 .4l1.2 .2l1.3 .9l1.2 .6l1.2 .3l1.2 .1l1.3 .5l1.2 .9l1.2 .5l1.3 .1l1.2 .4l1.2 .4l1.2 .3l1.3 .2l1.2 0l1.2 .4l1.2 .9l1.3 .8l1.2 .5l1.2 -.4l1.3 0l1.2 .8l1.2 .2l1.2 .1l1.3 .3l1.2 .3l1.2 .3l1.3 .4l1.2 0l1.2 -.3l1.2 .6l1.3 .5l1.2 -.1l1.2 -.1l1.3 .5l1.2 .5l1.2 .3l1.2 .3l1.3 .5l1.2 .6l1.2 -.2l1.2 -.1l1.3 .2l1.2 .1l1.2 .2l1.3 .1l1.2 .3l1.2 .2l1.2 .2l1.3 0l1.2 .2l1.2 .5l1.3 -.1l1.2 .1l1.2 .2l1.2 -.1l1.3 .1l1.2 .5l1.2 0l1.3 0l1.2 .5l1.2 0l1.2 -.1l1.3 .4l1.2 0l1.2 .3l1.2 .2l1.3 .2l1.2 .4l1.2 0l1.3 -.3l1.2 0l1.2 .3l1.2 .2l1.3 .2l1.2 .4l1.2 .2l1.3 -.2l1.2 .2l1.2 .4l1.2 .2l1.3 -.2l1.2 -.2l1.2 .2l1.3 .1l1.2 .2l1.2 .2l1.2 -.2l1.3 .1l1.2 .3l1.2 0l1.2 -.1l1.3 .3l1.2 .2l1.2 0l1.3 0l1.2 .1l1.2 .2l1.2 0l1.3 -.1l1.2 .1l1.2 -.1l1.3 .4l1.2 .2l1.2 -.2l1.2 0l1.3 .2l1.2 0l1.2 -.2l1.3 .2l1.2 .3l1.2 0l1.2 -.1l1.3 .2l1.2 0l1.2 .1l1.2 .1l1.3 .1l1.2 .3l1.2 -.1l1.3 -.2l1.2 .2l1.2 -.1l1.2 .1l1.3 0l1.2 0l1.2 .2l1.3 .3l1.2 -.1l1.2 -.1l1.2 0l1.3 .2l1.2 .2l1.2 -.2l1.3 0l1.2 .1l1.2 0l1.2 .3l1.3 .1l1.2 -.1l1.2 .2l1.2 -.1l1.3 -.1l1.2 .2l1.2 .2l1.3 -.2l1.2 .2l1.2 .1l1.2 -.1l1.3 0l1.2 -.3l1.2 -.1l1.3 .3l1.2 0l1.2 -.2l1.2 .1l1.3 0l1.2 .2l1.2 .1l1.3 .1l1.2 .1l1.2 .1l1.2 0l1.3 .1l1.2 -.3l1.2 0l1.2 .2l1.3 0l1.2 -.2l1.2 .4l1.3 .2l1.2 -.2l1.2 -.1l1.2 .2l1.3 .1l1.2 .2l1.2 -.2l1.3 0l1.2 .1l1.2 -.2l1.2 0l1.3 .2l1.2 0l1.2 0l1.3 .1l1.2 .1l1.2 .1l1.2 .2l1.3 0l1.2 0l1.2 0l1.2 -.1l1.3 -.1l1.2 -.2l1.2 .2l1.3 .2l1.2 0l1.2 .1l1.2 -.3l1.3 0l1.2 .3l1.2 0l1.3 -.3l1.2 0l1.2 .4l1.2 -.2l1.3 .1l1.2 .3l1.2 -.1l1.3 -.3l1.2 .3l1.2 .2l1.2 -.1l1.3 0l1.2 .1l1.2 .1l1.2 -.3l1.3 -.2l1.2 .3l1.2 .1l1.3 -.1l1.2 .1l1.2 0l1.2 -.2l1.3 .1l1.2 .3l1.2 -.1l1.3 0l1.2 .1l1.2 0l1.2 .1l1.3 -.2l1.2 0l1.2 0l1.3 0l1.2 .3l1.2 -.1l1.2 0l1.3 -.1l1.2 -.1l1.2 -.1l1.2 .4l1.3 .3l1.2 -.2l1.2 -.1l1.3 0l1.2 -.2l1.2 .2l1.2 .2l1.3 -.2l1.2 .1" stroke="#c0c0c0" stroke-width="3.0" fill="none" stroke-linejoin="round"/>
<path d="M170.2 665.4l1.2 -.1l1.3 -.3l1.2 0l1.2 .2l1.2 0l1.3 -.2l1.2 0l1.2 .1l1.3 -.2l1.2 0l1.2 .2l1.2 .2l1.3 -.3l1.2 0l1.2 .1l1.2 0l1.3 -.1l1.2 -.2l1.2 .2l1.3 0l1.2 -.1l1.2 0l1.2 -.2l1.3 -.1l1.2 .1l1.2 -.2l1.3 0l1.2 0l1.2 0l1.2 0l1.3 .1l1.2 .1l1.2 0l1.3 0l1.2 -.2l1.2 -.1l1.2 .1l1.3 -.1l1.2 -.1l1.2 .2l1.2 0l1.3 .1l1.2 -.3l1.2 -.1l1.3 .1l1.2 -.1l1.2 -.1l1.2 .1l1.3 -.1l1.2 -.1l1.2 .1l1.3 .1l1.2 -.1l1.2 .1l1.2 .1l1.3 -.1l1.2 0l1.2 -.3l1.3 0l1.2 .1l1.2 -.1l1.2 -.2l1.3 -.2l1.2 .1l1.2 .2l1.2 0l1.3 -.1l1.2 -.1l1.2 0l1.3 .1l1.2 .1l1.2 -.1l1.2 -.2l1.3 0l1.2 -.3l1.2 -.2l1.3 .2l1.2 -.1l1.2 .1l1.2 .2l1.3 -.1l1.2 -.2l1.2 -.2l1.3 -.1l1.2 -.2l1.2 .1l1.2 0l1.3 0l1.2 0l1.2 0l1.2 .1l1.3 -.2l1.2 .1l1.2 -.1l1.3 -.4l1.2 .1l1.2 .1l1.2 -.1l1.3 .1l1.2 0l1.2 -.2l1.3 -.2l1.2 .1l1.2 0l1.2 0l1.3 -.1l1.2 -.1l1.2 -.1l1.3 .1l1.2 0l1.2 0l1.2 0l1.3 -.3l1.2 -.1l1.2 .1l1.2 -.1l1.3 0l1.2 -.2l1.2 -.1l1.3 .3l1.2 -.4l1.2 .1l1.2 0l1.3 -.3l1.2 .1l1.2 .1l1.3 -.1l1.2 0l1.2 -.2l1.2 -.1l1.3 .1l1.2 -.1l1.2 -.1l1.3 -.2l1.2 -.1l1.2 .1l1.2 .1l1.3 -.1l1.2 -.2l1.2 -.3l1.2 .2l1.3 .2l1.2 -.2l1.2 -.2l1.3 -.2l1.2 -.1l1.2 -.1l1.2 -.1l1.3 -.2l1.2 0l1.2 0l1.3 0l1.2 .1l1.2 -.1l1.2 -.4l1.3 -.2l1.2 0l1.2 .3l1.3 -.1l1.2 -.3l1.2 -.1l1.2 -.2l1.3 0l1.2 .2l1.2 -.1l1.2 -.1l1.3 0l1.2 -.2l1.2 -.1l1.3 -.1l1.2 -.1l1.2 -.1l1.2 -.2l1.3 -.1l1.2 0l1.2 -.2l1.3 -.1l1.2 .2l1.2 -.1l1.2 -.2l1.3 -.3l1.2 -.4l1.2 0l1.3 .1l1.2 -.3l1.2 0l1.2 0l1.3 -.2l1.2 -.1l1.2 0l1.2 -.2l1.3 -.3l1.2 -.2l1.2 .2l1.3 -.1l1.2 -.4l1.2 -.3l1.2 -.1l1.3 .1l1.2 -.2l1.2 -.2l1.3 0l1.2 .1l1.2 -.1l1.2 -.4l1.3 .1l1.2 .2l1.2 -.4l1.3 -.1l1.2 .1l1.2 -.3l1.2 -.3l1.3 -.2l1.2 -.3l1.2 -.3l1.2 -.2l1.3 0l1.2 .2l1.2 -.6l1.3 -.8l1.2 -.1l1.2 -.1l1.2 0l1.3 -.4l1.2 -.4l1.2 .1l1.3 -.6l1.2 -.4l1.2 -.1l1.2 -1l1.3 -.4l1.2 -.1l1.2 -.8l1.3 -.4l1.2 -.1l1.2 -.4l1.2 -.8l1.3 -.4l1.2 -.8l1.2 -1l1.2 -.5l1.3 -.6l1.2 -.6l1.2 -.6l1.3 -.3l1.2 -.9l1.2 -1l1.2 -.9l1.3 -.7l1.2 -.7l1.2 -1.7l1.3 -.8l1.2 -.4l1.2 -1.6l1.2 -2l1.3 -1l1.2 -1l1.2 -1.7l1.3 -1.3l1.2 -1.4l1.2 -2.1l1.2 -1.7l1.3 -.8l1.2 -1.4l1.2 -2.1l1.2 -1.4l1.3 -1.5l1.2 -2.1l1.2 -1.3l1.3 -2.6l1.2 -2.1l1.2 -1.4l1.2 -2.3l1.3 -1.3l1.2 -2.1l1.2 -1.8l1.3 -.9l1.2 -2.1l1.2 -2.3l1.2 -.9l1.3 -1l1.2 -2.7l1.2 -2l1.3 0l1.2 -1.2l1.2 -1l1.2 -.4l1.3 -1.3l1.2 -.2l1.2 -1.1l1.2 -2.9l1.3 -.4l1.2 1l1.2 0l1.3 -.2l1.2 -.5l1.2 0l1.2 .7l1.3 .6l1.2 .2l1.2 .1l1.3 -.1l1.2 .4l1.2 1.5l1.2 1.7l1.3 .4l1.2 .8l1.2 1.2l1.3 .6l1.2 .6l1.2 .5l1.2 1.5l1.3 .9l1.2 .5l1.2 1l1.2 1.4l1.3 1.4l1.2 .7l1.2 .3l1.3 1.2l1.2 1.2l1.2 .9l1.2 1.9l1.3 .5l1.2 .1l1.2 1.1l1.3 1.1l1.2 .8l1.2 1.3l1.2 .7l1.3 1.1l1.2 1.2l1.2 1.4l1.3 1.4l1.2 .3l1.2 1.1l1.2 1.9l1.3 .6l1.2 .1l1.2 1.3l1.2 1l1.3 .9l1.2 .9l1.2 .6l1.3 1.1l1.2 1.4l1.2 1.3l1.2 1l1.3 1l1.2 .7l1.2 1.2l1.3 1.3l1.2 .6l1.2 .7l1.2 .9l1.3 1.1l1.2 .9l1.2 1l1.3 1.1l1.2 .6l1.2 .2l1.2 0l1.3 .8l1.2 1.1l1.2 .6l1.2 0l1.3 .5l1.2 1l1.2 .7l1.3 .5l1.2 .2l1.2 .6l1.2 .9l1.3 .3l1.2 .4l1.2 .4l1.3 .7l1.2 .9l1.2 .1l1.2 .7l1.3 .4l1.2 -.1l1.2 .5l1.3 .3l1.2 .4l1.2 .5l1.2 .3l1.3 .3l1.2 .5l1.2 .4l1.2 .1l1.3 .3l1.2 .5l1.2 .6l1.3 .3l1.2 -.2l1.2 .6l1.2 .4l1.3 -.1l1.2 .6l1.2 .3l1.3 -.2l1.2 .2l1.2 .3l1.2 .1l1.3 .3l1.2 .3l1.2 .4l1.3 .4l1.2 -.1l1.2 -.2l1.2 .3l1.3 .7l1.2 .4l1.2 .1l1.2 -.1l1.3 .2l1.2 .7l1.2 .1l1.3 -.1l1.2 .2l1.2 .2l1.2 .1l1.3 .1l1.2 .5l1.2 .3l1.3 -.3l1.2 -.1l1.2 .2l1.2 -.1l1.3 .3l1.2 .3l1.2 .1l1.3 .2l1.2 .1l1.2 0l1.2 .3l1.3 .3l1.2 .3l1.2 .1l1.2 .2l1.3 .2l1.2 .2l1.2 0l1.3 -.2l1.2 -.1l1.2 .2l1.2 .4l1.3 .1l1.2 -.1l1.2 .2l1.3 .2l1.2 .1l1.2 .2l1.2 .3l1.3 0l1.2 .2l1.2 .3l1.3 -.1l1.2 -.1l1.2 0l1.2 .1l1.3 .2l1.2 .2l1.2 -.1l1.2 -.2l1.3 .5l1.2 .2l1.2 -.3l1.3 .3l1.2 .1l1.2 .2l1.2 .1l1.3 0l1.2 0l1.2 .1l1.3 .2l1.2 -.1l1.2 -.2l1.2 .3l1.3 .1l1.2 0l1.2 .2l1.3 0l1.2 -.1l1.2 -.1l1.2 .1l1.3 .1l1.2 0l1.2 .2l1.2 0l1.3 .3l1.2 .2l1.2 -.3l1.3 .2l1.2 .3l1.2 -.3l1.2 .1l1.3 .3l1.2 -.1l1.2 0l1.3 0l1.2 -.1l1.2 .3l1.2 -.1l1.3 .1l1.2 .2l1.2 0l1.3 0l1.2 .1l1.2 .1l1.2 .1l1.3 .1l1.2 -.1l1.2 .1l1.2 0l1.3 -.1l1.2 .1l1.2 .1l1.3 .1l1.2 .1l1.2 -.2l1.2 0l1.3 .2l1.2 0l1.2 -.1l1.3 0l1.2 .1l1.2 .2l1.2 0l1.3 .2l1.2 .1l1.2 -.2l1.3 0l1.2 0l1.2 -.1l1.2 .1l1.3 .4l1.2 0l1.2 -.2l1.2 .1l1.3 -.1l1.2 .1l1.2 .1l1.3 -.2l1.2 0l1.2 .3l1.2 .2l1.3 -.1l1.2 0l1.2 .1l1.3 0l1.2 -.2l1.2 -.1l1.2 0l1.3 .3l1.2 0l1.2 0l1.3 .2l1.2 -.2l1.2 0l1.2 .1l1.3 0l1.2 .2l1.2 0l1.2 -.1l1.3 -.1l1.2 -.2l1.2 0l1.3 .3l1.2 0l1.2 -.1l1.2 .2l1.3 0l1.2 .1l1.2 .1l1.3 -.2l1.2 -.1l1.2 .1l1.2 .2l1.3 .1l1.2 0l1.2 -.2l1.3 0l1.2 .1l1.2 .3l1.2 .2l1.3 -.2l1.2 -.2l1.2 -.1l1.2 .1l1.3 .2l1.2 .2l1.2 .1l1.3 0l1.2 -.1l1.2 -.2l1.2 -.1l1.3 .2l1.2 .3l1.2 -.2l1.3 -.1l1.2 .2l1.2 .2l1.2 -.2l1.3 0l1.2 0l1.2 -.1l1.3 .1l1.2 0l1.2 0l1.2 -.1l1.3 .2l1.2 .2l1.2 -.1l1.2 0l1.3 -.1l1.2 0l1.2 .2l1.3 0l1.2 -.2l1.2 0l1.2 .1l1.3 0l1.2 0" stroke="#c0c0c0" stroke-width="3.0" fill="none" stroke-linejoin="round"/>
<path d="M170.2 665.4l1.2 -.1l1.3 -.2l1.2 .1l1.2 0l1.2 -.1l1.3 -.1l1.2 .2l1.2 .1l1.3 -.4l1.2 .1l1.2 .2l1.2 0l1.3 -.2l1.2 -.1l1.2 0l1.2 -.1l1.3 .1l1.2 .1l1.2 -.2l1.3 -.1l1.2 .1l1.2 .2l1.2 0l1.3 -.2l1.2 -.3l1.2 .1l1.3 .1l1.2 -.1l1.2 0l1.2 .1l1.3 0l1.2 -.1l1.2 .2l1.3 -.2l1.2 -.1l1.2 0l1.2 -.1l1.3 0l1.2 -.2l1.2 0l1.2 .2l1.3 0l1.2 0l1.2 0l1.3 -.3l1.2 0l1.2 .1l1.2 -.3l1.3 -.2l1.2 .2l1.2 .2l1.3 -.1l1.2 .1l1.2 -.2l1.2 -.2l1.3 .3l1.2 .2l1.2 -.3l1.3 0l1.2 .2l1.2 -.2l1.2 0l1.3 -.1l1.2 0l1.2 -.2l1.2 .2l1.3 .2l1.2 -.2l1.2 -.1l1.3 -.1l1.2 -.1l1.2 0l1.2 -.3l1.3 .1l1.2 .3l1.2 -.3l1.3 0l1.2 0l1.2 .1l1.2 -.1l1.3 -.2l1.2 0l1.2 0l1.3 .1l1.2 -.1l1.2 -.2l1.2 0l1.3 .1l1.2 -.2l1.2 -.2l1.2 0l1.3 .2l1.2 -.1l1.2 .1l1.3 -.1l1.2 -.3l1.2 .2l1.2 0l1.3 -.2l1.2 .1l1.2 -.2l1.3 -.1l1.2 -.1l1.2 -.1l1.2 -.1l1.3 .1l1.2 .1l1.2 -.2l1.3 .1l1.2 -.1l1.2 -.1l1.2 .1l1.3 0l1.2 -.1l1.2 0l1.2 -.2l1.3 -.2l1.2 0l1.2 .2l1.3 -.2l1.2 -.1l1.2 .2l1.2 0l1.3 -.4l1.2 -.1l1.2 -.1l1.3 .1l1.2 .2l1.2 -.4l1.2 -.1l1.3 .1l1.2 0l1.2 0l1.3 -.2l1.2 -.1l1.2 0l1.2 -.1l1.3 -.3l1.2 -.3l1.2 .1l1.2 .3l1.3 0l1.2 -.2l1.2 .1l1.3 -.1l1.2 -.3l1.2 -.1l1.2 0l1.3 0l1.2 0l1.2 -.1l1.3 -.1l1.2 0l1.2 0l1.2 0l1.3 -.1l1.2 -.5l1.2 0l1.3 -.2l1.2 0l1.2 .1l1.2 -.4l1.3 -.1l1.2 .2l1.2 -.1l1.2 -.1l1.3 -.2l1.2 -.3l1.2 .1l1.3 0l1.2 -.4l1.2 -.1l1.2 0l1.3 .1l1.2 .1l1.2 -.1l1.3 -.3l1.2 0l1.2 -.1l1.2 -.4l1.3 .1l1.2 .1l1.2 -.2l1.3 0l1.2 -.3l1.2 0l1.2 .1l1.3 -.2l1.2 -.3l1.2 -.1l1.2 0l1.3 -.2l1.2 -.1l1.2 .1l1.3 -.2l1.2 -.7l1.2 0l1.2 .2l1.3 -.1l1.2 0l1.2 -.1l1.3 -.3l1.2 -.1l1.2 0l1.2 -.4l1.3 0l1.2 -.1l1.2 -.4l1.3 .2l1.2 -.2l1.2 -.2l1.2 -.2l1.3 -.1l1.2 -.5l1.2 -.4l1.2 -.1l1.3 .1l1.2 0l1.2 -.6l1.3 -.4l1.2 0l1.2 -.2l1.2 -.4l1.3 .1l1.2 0l1.2 -.3l1.3 -.6l1.2 -.4l1.2 -.2l1.2 -.9l1.3 -.4l1.2 -.3l1.2 -.5l1.3 -.5l1.2 -.8l1.2 -.2l1.2 -.1l1.3 -1l1.2 -1.1l1.2 -.2l1.2 -.5l1.3 -.7l1.2 -.5l1.2 -.3l1.3 -.2l1.2 -1l1.2 -.9l1.2 -.7l1.3 -.5l1.2 -1.3l1.2 -1.3l1.3 -1.3l1.2 -1.1l1.2 -.6l1.2 -1.5l1.3 -1.1l1.2 -.9l1.2 -1.3l1.3 -1.6l1.2 -1.5l1.2 -2l1.2 -1.5l1.3 -1.2l1.2 -1.9l1.2 -1.4l1.2 -1l1.3 -1.7l1.2 -2.3l1.2 -1.6l1.3 -1.5l1.2 -1l1.2 -1.5l1.2 -2.5l1.3 -1.9l1.2 -1.8l1.2 -1.4l1.3 -1.3l1.2 -1.3l1.2 -1.8l1.2 -2.3l1.3 -1.5l1.2 -1.8l1.2 -1.8l1.3 -.3l1.2 -.8l1.2 -2l1.2 -.4l1.3 -.1l1.2 -1.5l1.2 -.5l1.2 .1l1.3 -.7l1.2 -1.3l1.2 0l1.3 .1l1.2 -.5l1.2 -.5l1.2 1l1.3 .2l1.2 -.3l1.2 .6l1.3 .6l1.2 -.2l1.2 .4l1.2 1l1.3 1.3l1.2 1.9l1.2 .1l1.3 .2l1.2 1.2l1.2 .6l1.2 .7l1.3 1.5l1.2 1.7l1.2 1.5l1.2 -.1l1.3 -.2l1.2 1.6l1.2 1l1.3 .7l1.2 1.1l1.2 .5l1.2 1.6l1.3 1.1l1.2 .1l1.2 1.1l1.3 1l1.2 1.2l1.2 .9l1.2 .5l1.3 .8l1.2 1.4l1.2 1l1.3 .7l1.2 1l1.2 1l1.2 1l1.3 .8l1.2 .4l1.2 1l1.2 1.3l1.3 .8l1.2 1.6l1.2 .8l1.3 .3l1.2 .9l1.2 1.2l1.2 1.4l1.3 1.1l1.2 1.1l1.2 .6l1.3 .1l1.2 1.7l1.2 1.4l1.2 .9l1.3 .9l1.2 .7l1.2 .9l1.3 .7l1.2 .2l1.2 .6l1.2 .6l1.3 .6l1.2 .8l1.2 .8l1.2 .4l1.3 .5l1.2 .9l1.2 .6l1.3 .3l1.2 .5l1.2 .6l1.2 -.1l1.3 .5l1.2 1.4l1.2 .4l1.3 0l1.2 .5l1.2 .4l1.2 .3l1.3 .3l1.2 .6l1.2 .7l1.3 .4l1.2 0l1.2 .7l1.2 .4l1.3 .3l1.2 .2l1.2 -.3l1.2 .4l1.3 .7l1.2 .3l1.2 0l1.3 .2l1.2 .3l1.2 .4l1.2 .7l1.3 .4l1.2 .1l1.2 .2l1.3 .6l1.2 .3l1.2 0l1.2 .2l1.3 .1l1.2 .4l1.2 .4l1.3 0l1.2 .3l1.2 .2l1.2 .2l1.3 .3l1.2 0l1.2 .1l1.2 .4l1.3 0l1.2 .1l1.2 .5l1.3 .1l1.2 -.3l1.2 .1l1.2 .5l1.3 .3l1.2 .1l1.2 0l1.3 .4l1.2 .3l1.2 -.3l1.2 0l1.3 .3l1.2 .1l1.2 .3l1.3 .3l1.2 0l1.2 .4l1.2 .1l1.3 .2l1.2 .3l1.2 0l1.2 .2l1.3 0l1.2 0l1.2 .5l1.3 0l1.2 0l1.2 .3l1.2 .2l1.3 -.2l1.2 0l1.2 .4l1.3 .1l1.2 -.2l1.2 .1l1.2 .3l1.3 .4l1.2 0l1.2 .1l1.3 .2l1.2 .1l1.2 0l1.2 .1l1.3 0l1.2 0l1.2 .1l1.2 .2l1.3 -.2l1.2 -.1l1.2 .2l1.3 .3l1.2 .1l1.2 0l1.2 0l1.3 .1l1.2 -.2l1.2 .1l1.3 .5l1.2 -.1l1.2 -.2l1.2 .1l1.3 .5l1.2 .3l1.2 -.1l1.3 .1l1.2 0l1.2 -.2l1.2 -.1l1.3 .1l1.2 .1l1.2 0l1.2 .1l1.3 .5l1.2 .2l1.2 -.2l1.3 0l1.2 0l1.2 .1l1.2 -.1l1.3 .1l1.2 .4l1.2 -.1l1.3 -.2l1.2 .1l1.2 .1l1.2 .1l1.3 .2l1.2 0l1.2 .1l1.3 -.2l1.2 -.1l1.2 .1l1.2 0l1.3 .3l1.2 0l1.2 -.1l1.2 -.1l1.3 .3l1.2 .2l1.2 -.2l1.3 .1l1.2 .1l1.2 -.1l1.2 -.1l1.3 -.1l1.2 .4l1.2 .4l1.3 -.1l1.2 -.2l1.2 0l1.2 .1l1.3 0l1.2 -.2l1.2 .1l1.3 .2l1.2 0l1.2 .1l1.2 0l1.3 -.2l1.2 .3l1.2 -.1l1.2 0l1.3 .1l1.2 0l1.2 .1l1.3 0l1.2 .1l1.2 .1l1.2 .1l1.3 0l1.2 -.1l1.2 .1l1.3 .1l1.2 -.1l1.2 -.1l1.2 .1l1.3 .1l1.2 -.1l1.2 -.2l1.3 .3l1.2 .1l1.2 -.2l1.2 .1l1.3 .1l1.2 .1l1.2 -.1l1.2 -.4l1.3 .3l1.2 .2l1.2 0l1.3 .1l1.2 0l1.2 0l1.2 .2l1.3 0l1.2 0l1.2 0l1.3 0l1.2 -.1l1.2 .1l1.2 .2l1.3 -.2l1.2 0l1.2 0l1.3 -.1l1.2 .1l1.2 .2l1.2 0l1.3 0l1.2 0l1.2 0l1.2 0l1.3 0l1.2 .1l1.2 .2l1.3 -.1l1.2 -.2l1.2 0l1.2 -.1l1.3 .1l1.2 .1l1.2 0l1.3 .1l1.2 .1l1.2 0l1.2 .1l1.3 0l1.2 -.1l1.2 -.1l1.3 0l1.2 .1l1.2 .2l1.2 -.1l1.3 .1l1.2 .2l1.2 -.2l1.2 0l1.3 0l1.2 0l1.2 .1l1.3 .1l1.2 -.1l1.2 -.1l1.2 .2l1.3 .2l1.2 .1" stroke="#c0c0c0" stroke-width="3.0" fill="none" stroke-linejoin="round"/>
<path d="M170.2 665.3l1.2 0l1.3 -.2l1.2 .2l1.2 -.2l1.2 -.1l1.3 0l1.2 -.1l1.2 .2l1.3 -.1l1.2 -.3l1.2 0l1.2 .3l1.3 0l1.2 0l1.2 .1l1.2 -.3l1.3 .1l1.2 -.1l1.2 0l1.3 .3l1.2 -.2l1.2 -.2l1.2 .1l1.3 0l1.2 -.1l1.2 -.1l1.3 .1l1.2 0l1.2 .2l1.2 -.1l1.3 0l1.2 .1l1.2 -.4l1.3 -.1l1.2 .1l1.2 .3l1.2 -.1l1.3 -.4l1.2 0l1.2 0l1.2 -.2l1.3 .3l1.2 .1l1.2 -.1l1.3 -.2l1.2 -.2l1.2 .1l1.2 0l1.3 -.1l1.2 .1l1.2 .1l1.3 -.1l1.2 0l1.2 0l1.2 -.1l1.3 .1l1.2 .1l1.2 -.2l1.3 -.3l1.2 -.1l1.2 .3l1.2 .1l1.3 -.1l1.2 0l1.2 -.1l1.2 -.1l1.3 -.1l1.2 .2l1.2 .1l1.3 -.4l1.2 -.1l1.2 .3l1.2 0l1.3 -.1l1.2 -.2l1.2 -.3l1.3 .1l1.2 .1l1.2 -.1l1.2 0l1.3 -.1l1.2 .2l1.2 0l1.3 -.1l1.2 -.3l1.2 0l1.2 0l1.3 0l1.2 .1l1.2 -.2l1.2 0l1.3 -.2l1.2 -.3l1.2 .3l1.3 0l1.2 -.3l1.2 .2l1.2 .1l1.3 -.3l1.2 0l1.2 0l1.3 -.1l1.2 0l1.2 .1l1.2 0l1.3 -.2l1.2 -.2l1.2 -.2l1.3 .2l1.2 0l1.2 -.1l1.2 .1l1.3 .1l1.2 -.1l1.2 -.1l1.2 .1l1.3 -.2l1.2 -.2l1.2 -.1l1.3 -.1l1.2 .1l1.2 -.1l1.2 -.2l1.3 .1l1.2 -.1l1.2 -.2l1.3 0l1.2 -.1l1.2 0l1.2 -.1l1.3 0l1.2 0l1.2 -.1l1.3 .1l1.2 .1l1.2 -.2l1.2 -.2l1.3 0l1.2 -.3l1.2 -.3l1.2 .3l1.3 -.1l1.2 -.2l1.2 0l1.3 .1l1.2 .1l1.2 -.2l1.2 -.5l1.3 -.2l1.2 .1l1.2 .1l1.3 .2l1.2 -.3l1.2 -.2l1.2 0l1.3 0l1.2 -.2l1.2 -.2l1.3 .1l1.2 0l1.2 .1l1.2 0l1.3 -.3l1.2 -.2l1.2 .1l1.2 -.2l1.3 -.3l1.2 0l1.2 .1l1.3 -.1l1.2 -.5l1.2 -.2l1.2 .2l1.3 .2l1.2 -.2l1.2 -.3l1.3 0l1.2 .1l1.2 -.1l1.2 0l1.3 -.1l1.2 -.3l1.2 0l1.3 -.1l1.2 0l1.2 -.3l1.2 -.3l1.3 .2l1.2 -.3l1.2 -.3l1.2 0l1.3 .2l1.2 -.2l1.2 -.4l1.3 -.2l1.2 -.2l1.2 -.1l1.2 .2l1.3 0l1.2 -.1l1.2 -.2l1.3 -.5l1.2 -.1l1.2 -.1l1.2 0l1.3 0l1.2 .3l1.2 -.2l1.3 -.9l1.2 -.4l1.2 .3l1.2 0l1.3 -.3l1.2 -.1l1.2 -.1l1.2 -.4l1.3 -.2l1.2 -.2l1.2 -.5l1.3 -.3l1.2 -.1l1.2 -.1l1.2 -.3l1.3 -.2l1.2 0l1.2 -.6l1.3 -.4l1.2 0l1.2 -.6l1.2 -.8l1.3 -.4l1.2 -.3l1.2 -.5l1.3 -.4l1.2 -.1l1.2 -.5l1.2 -.8l1.3 -.4l1.2 -.5l1.2 -.8l1.2 -.5l1.3 -.6l1.2 -.7l1.2 -.5l1.3 -.7l1.2 -1l1.2 -.2l1.2 -.5l1.3 -1.5l1.2 -1.2l1.2 -.4l1.3 -1l1.2 -1.9l1.2 -1.3l1.2 -1.1l1.3 -1l1.2 -1.2l1.2 -1l1.3 -1.4l1.2 -2.3l1.2 -1.4l1.2 -.6l1.3 -1.6l1.2 -1.1l1.2 -2l1.2 -2.3l1.3 -.8l1.2 -1.3l1.2 -1.4l1.3 -1.9l1.2 -2l1.2 -1.2l1.2 -1.7l1.3 -1.8l1.2 -.6l1.2 -1.9l1.3 -2.1l1.2 -1l1.2 -1l1.2 -2.2l1.3 -1.8l1.2 -1.3l1.2 -1.5l1.3 -.3l1.2 .4l1.2 -1l1.2 -1.3l1.3 -1.3l1.2 -1.1l1.2 -.2l1.2 -.6l1.3 -.7l1.2 1.2l1.2 -.3l1.3 -1.5l1.2 -.4l1.2 1l1.2 .8l1.3 -1l1.2 .2l1.2 1.7l1.3 1l1.2 .6l1.2 .1l1.2 1.1l1.3 .4l1.2 .6l1.2 2.1l1.3 .2l1.2 -.1l1.2 1.1l1.2 .3l1.3 .8l1.2 .9l1.2 .8l1.2 .6l1.3 .7l1.2 1.5l1.2 .7l1.3 .9l1.2 1l1.2 .9l1.2 .7l1.3 .8l1.2 1.2l1.2 .6l1.3 .5l1.2 1.4l1.2 1.2l1.2 1.2l1.3 .8l1.2 .1l1.2 .1l1.3 1.1l1.2 1.3l1.2 .6l1.2 .9l1.3 1.9l1.2 1.2l1.2 .1l1.2 .6l1.3 .9l1.2 1.2l1.2 1.5l1.3 .7l1.2 .1l1.2 1.2l1.2 1.1l1.3 .9l1.2 1.1l1.2 .9l1.3 .6l1.2 .9l1.2 1l1.2 .4l1.3 .9l1.2 1.3l1.2 .5l1.3 .4l1.2 1l1.2 .6l1.2 .4l1.3 .4l1.2 .6l1.2 .7l1.2 .3l1.3 1l1.2 .4l1.2 .2l1.3 .9l1.2 .5l1.2 .1l1.2 .7l1.3 .8l1.2 0l1.2 .1l1.3 .4l1.2 .7l1.2 .9l1.2 .6l1.3 .2l1.2 .4l1.2 .2l1.3 -.1l1.2 .6l1.2 .3l1.2 .3l1.3 .7l1.2 .4l1.2 .1l1.2 .1l1.3 .4l1.2 .8l1.2 .4l1.3 -.2l1.2 .6l1.2 .1l1.2 -.3l1.3 .4l1.2 .3l1.2 .3l1.3 0l1.2 0l1.2 .5l1.2 .3l1.3 .3l1.2 .5l1.2 .1l1.3 .3l1.2 .4l1.2 .2l1.2 .1l1.3 .2l1.2 0l1.2 .2l1.2 .2l1.3 0l1.2 .2l1.2 .2l1.3 .1l1.2 .2l1.2 .4l1.2 0l1.3 .2l1.2 .1l1.2 .2l1.3 .4l1.2 0l1.2 .2l1.2 .1l1.3 .2l1.2 .5l1.2 -.1l1.3 -.1l1.2 .2l1.2 .2l1.2 .2l1.3 .1l1.2 .1l1.2 -.1l1.2 .4l1.3 .5l1.2 .4l1.2 -.2l1.3 -.1l1.2 .2l1.2 .1l1.2 -.1l1.3 .1l1.2 .3l1.2 .2l1.3 .2l1.2 -.1l1.2 .1l1.2 .2l1.3 0l1.2 .1l1.2 0l1.3 0l1.2 .4l1.2 .2l1.2 -.2l1.3 0l1.2 .2l1.2 .1l1.2 .4l1.3 .2l1.2 -.1l1.2 -.1l1.3 -.3l1.2 -.1l1.2 .3l1.2 0l1.3 .4l1.2 .1l1.2 -.1l1.3 -.1l1.2 .1l1.2 .5l1.2 -.1l1.3 0l1.2 0l1.2 0l1.3 .1l1.2 .2l1.2 .1l1.2 -.3l1.3 .1l1.2 .3l1.2 .1l1.2 .3l1.3 -.2l1.2 -.1l1.2 0l1.3 -.1l1.2 .2l1.2 .3l1.2 -.2l1.3 0l1.2 0l1.2 0l1.3 .2l1.2 0l1.2 .1l1.2 .1l1.3 -.1l1.2 .1l1.2 .4l1.3 -.1l1.2 0l1.2 0l1.2 -.1l1.3 .1l1.2 0l1.2 .2l1.2 .1l1.3 -.1l1.2 .1l1.2 .2l1.3 0l1.2 -.1l1.2 -.1l1.2 0l1.3 .1l1.2 .1l1.2 -.1l1.3 -.2l1.2 .3l1.2 .2l1.2 0l1.3 0l1.2 .1l1.2 .1l1.3 .2l1.2 0l1.2 -.1l1.2 -.1l1.3 0l1.2 .1l1.2 .2l1.2 .1l1.3 -.1l1.2 -.1l1.2 .1l1.3 -.1l1.2 .1l1.2 .1l1.2 .1l1.3 .1l1.2 .1l1.2 -.1l1.3 -.3l1.2 .1l1.2 .2l1.2 -.3l1.3 0l1.2 .4l1.2 0l1.3 .1l1.2 .2l1.2 -.1l1.2 0l1.3 .2l1.2 -.1l1.2 -.1l1.2 0l1.3 .1l1.2 .1l1.2 -.1l1.3 0l1.2 .1l1.2 .2l1.2 0l1.3 -.1l1.2 .1l1.2 0l1.3 -.2l1.2 0l1.2 .1l1.2 .2l1.3 0l1.2 -.1l1.2 .3l1.3 -.1l1.2 -.3l1.2 .1l1.2 .2l1.3 0l1.2 -.1l1.2 -.1l1.2 -.1l1.3 .1l1.2 .2l1.2 .2l1.3 0l1.2 0l1.2 -.2l1.2 -.1l1.3 .3l1.2 .1l1.2 -.3l1.3 0l1.2 .2l1.2 .1l1.2 .2l1.3 -.2l1.2 0l1.2 0l1.3 0l1.2 -.1l1.2 .2l1.2 .1l1.3 -.2l1.2 0l1.2 0l1.2 0l1.3 .2l1.2 .1l1.2 -.1l1.3 .1l1.2 .1l1.2 -.1l1.2 -.1l1.3 .1l1.2 .1" stroke="#c0c0c0" stroke-width="3.0" fill="none" stroke-linejoin="round"/>
<path d="M170.2 665.2l1.2 0l1.3 .2l1.2 -.1l1.2 -.2l1.2 .2l1.3 -.1l1.2 -.2l1.2 0l1.3 .1l1.2 0l1.2 -.2l1.2 0l1.3 0l1.2 0l1.2 0l1.2 .1l1.3 0l1.2 .1l1.2 -.1l1.3 -.1l1.2 0l1.2 -.1l1.2 0l1.3 -.1l1.2 .1l1.2 -.1l1.3 -.3l1.2 .2l1.2 .2l1.2 -.2l1.3 0l1.2 0l1.2 -.1l1.3 .2l1.2 0l1.2 -.2l1.2 .1l1.3 0l1.2 0l1.2 -.1l1.2 -.2l1.3 -.1l1.2 -.2l1.2 .1l1.3 .1l1.2 -.1l1.2 0l1.2 .1l1.3 -.1l1.2 0l1.2 -.1l1.3 -.1l1.2 .1l1.2 0l1.2 -.1l1.3 0l1.2 -.2l1.2 .1l1.3 .3l1.2 .1l1.2 -.2l1.2 -.1l1.3 -.2l1.2 -.1l1.2 0l1.2 .1l1.3 0l1.2 -.1l1.2 -.3l1.3 .1l1.2 0l1.2 .1l1.2 0l1.3 -.1l1.2 -.1l1.2 .1l1.3 0l1.2 -.3l1.2 0l1.2 0l1.3 .2l1.2 .1l1.2 -.2l1.3 -.1l1.2 .2l1.2 -.2l1.2 -.3l1.3 .2l1.2 .1l1.2 -.3l1.2 -.2l1.3 -.1l1.2 .2l1.2 .1l1.3 -.2l1.2 -.2l1.2 0l1.2 .2l1.3 -.2l1.2 -.1l1.2 -.2l1.3 0l1.2 0l1.2 .2l1.2 .2l1.3 -.1l1.2 -.1l1.2 -.3l1.3 -.1l1.2 0l1.2 0l1.2 -.1l1.3 -.2l1.2 .2l1.2 .2l1.2 -.2l1.3 -.3l1.2 -.2l1.2 -.1l1.3 .2l1.2 .1l1.2 -.2l1.2 0l1.3 0l1.2 .1l1.2 -.1l1.3 -.2l1.2 .1l1.2 -.3l1.2 -.1l1.3 0l1.2 0l1.2 .1l1.3 -.1l1.2 -.3l1.2 0l1.2 0l1.3 -.4l1.2 -.2l1.2 .2l1.2 .1l1.3 -.2l1.2 0l1.2 .2l1.3 -.4l1.2 -.3l1.2 .1l1.2 0l1.3 -.4l1.2 -.5l1.2 .3l1.3 .2l1.2 0l1.2 -.1l1.2 -.2l1.3 -.2l1.2 .1l1.2 0l1.3 -.4l1.2 -.2l1.2 .1l1.2 0l1.3 .1l1.2 .1l1.2 0l1.2 0l1.3 -.1l1.2 -.1l1.2 -.4l1.3 .1l1.2 -.1l1.2 0l1.2 -.4l1.3 -.3l1.2 .3l1.2 -.4l1.3 -.1l1.2 .1l1.2 -.1l1.2 -.2l1.3 0l1.2 -.3l1.2 -.3l1.3 .1l1.2 -.1l1.2 -.1l1.2 .1l1.3 -.1l1.2 -.2l1.2 .1l1.2 0l1.3 -.4l1.2 0l1.2 -.1l1.3 -.1l1.2 -.1l1.2 -.3l1.2 -.1l1.3 -.1l1.2 .2l1.2 .2l1.3 -.9l1.2 -.3l1.2 .5l1.2 -.1l1.3 -.4l1.2 -.5l1.2 -.1l1.3 .2l1.2 -.2l1.2 -.2l1.2 -.1l1.3 -.3l1.2 .3l1.2 -.2l1.2 -.4l1.3 -.6l1.2 -.2l1.2 .2l1.3 -.4l1.2 -.1l1.2 -.2l1.2 -.3l1.3 -.4l1.2 -.2l1.2 -.2l1.3 -.4l1.2 -.3l1.2 -.3l1.2 -.6l1.3 -.6l1.2 -.5l1.2 -.4l1.3 -.4l1.2 -.3l1.2 -.4l1.2 -.7l1.3 -.3l1.2 -.5l1.2 -.7l1.2 -.6l1.3 -.5l1.2 -.7l1.2 -.4l1.3 -.8l1.2 -.5l1.2 -.8l1.2 -.7l1.3 -.5l1.2 -1.3l1.2 -.8l1.3 -.9l1.2 -1.4l1.2 -.9l1.2 -1.2l1.3 -.9l1.2 -1.6l1.2 -1.6l1.3 -1l1.2 -1.4l1.2 -1.4l1.2 -1.3l1.3 -.8l1.2 -.9l1.2 -1.2l1.2 -1.7l1.3 -2.1l1.2 -1.2l1.2 -1.1l1.3 -2.1l1.2 -1.6l1.2 -1.3l1.2 -1.2l1.3 -1.3l1.2 -1.4l1.2 -1l1.3 -1.4l1.2 -1.7l1.2 -1.9l1.2 -.9l1.3 -1.2l1.2 -1.6l1.2 -.2l1.3 -.9l1.2 -1.5l1.2 -1.1l1.2 -.9l1.3 0l1.2 -1.1l1.2 -1.5l1.2 -.1l1.3 .7l1.2 -.3l1.2 -.8l1.3 0l1.2 -.4l1.2 .8l1.2 -.2l1.3 -.8l1.2 .4l1.2 .2l1.3 1.3l1.2 1.2l1.2 .2l1.2 1.2l1.3 .3l1.2 -.8l1.2 1.4l1.3 1.5l1.2 .3l1.2 .8l1.2 .7l1.3 .4l1.2 .9l1.2 1.1l1.2 0l1.3 .7l1.2 1.4l1.2 1.5l1.3 .6l1.2 -.1l1.2 .9l1.2 .4l1.3 1.6l1.2 1l1.2 .6l1.3 1.4l1.2 .8l1.2 .3l1.2 .2l1.3 1.3l1.2 .8l1.2 1.4l1.3 1l1.2 .1l1.2 .8l1.2 .9l1.3 1.1l1.2 .7l1.2 .4l1.2 .7l1.3 .3l1.2 .8l1.2 1.5l1.3 .8l1.2 1l1.2 .6l1.2 .6l1.3 1.3l1.2 .7l1.2 1.2l1.3 .9l1.2 .6l1.2 .3l1.2 .4l1.3 .8l1.2 1.1l1.2 1.1l1.3 .4l1.2 .8l1.2 1l1.2 .1l1.3 .2l1.2 .8l1.2 1l1.2 .8l1.3 .2l1.2 .6l1.2 .4l1.3 .5l1.2 .8l1.2 -.1l1.2 .2l1.3 1.1l1.2 .1l1.2 .2l1.3 .8l1.2 1.1l1.2 .1l1.2 -.2l1.3 .4l1.2 .1l1.2 .8l1.3 .3l1.2 -.1l1.2 .7l1.2 .8l1.3 0l1.2 -.1l1.2 .6l1.2 .5l1.3 .3l1.2 0l1.2 .2l1.3 .5l1.2 .9l1.2 .3l1.2 0l1.3 .1l1.2 .1l1.2 .3l1.3 0l1.2 0l1.2 .4l1.2 .7l1.3 .3l1.2 0l1.2 .2l1.3 .2l1.2 .2l1.2 .5l1.2 .1l1.3 -.2l1.2 .3l1.2 .3l1.2 .1l1.3 .4l1.2 .3l1.2 -.1l1.3 .2l1.2 .3l1.2 -.1l1.2 .2l1.3 .4l1.2 .2l1.2 0l1.3 .2l1.2 .2l1.2 .1l1.2 .1l1.3 0l1.2 .1l1.2 .2l1.3 .2l1.2 .1l1.2 .2l1.2 .3l1.3 .1l1.2 0l1.2 0l1.2 .5l1.3 .2l1.2 -.2l1.2 .1l1.3 .4l1.2 -.1l1.2 -.1l1.2 .3l1.3 .2l1.2 .3l1.2 .2l1.3 0l1.2 0l1.2 .1l1.2 0l1.3 .1l1.2 .3l1.2 .2l1.3 -.1l1.2 .2l1.2 -.1l1.2 0l1.3 0l1.2 0l1.2 .5l1.2 .1l1.3 -.1l1.2 .1l1.2 .1l1.3 0l1.2 .5l1.2 0l1.2 -.3l1.3 .1l1.2 0l1.2 .1l1.3 .3l1.2 -.1l1.2 0l1.2 .1l1.3 .1l1.2 .1l1.2 .1l1.3 -.1l1.2 .1l1.2 .1l1.2 .1l1.3 .2l1.2 -.1l1.2 -.1l1.2 .1l1.3 -.1l1.2 -.3l1.2 .4l1.3 .3l1.2 .1l1.2 .2l1.2 0l1.3 -.1l1.2 -.1l1.2 .2l1.3 0l1.2 .1l1.2 .3l1.2 -.1l1.3 .2l1.2 -.2l1.2 -.1l1.3 .2l1.2 0l1.2 .1l1.2 .1l1.3 .1l1.2 .1l1.2 -.2l1.2 -.1l1.3 0l1.2 .1l1.2 0l1.3 .4l1.2 -.1l1.2 -.1l1.2 .2l1.3 -.1l1.2 .1l1.2 .2l1.3 -.2l1.2 -.1l1.2 .2l1.2 .1l1.3 0l1.2 0l1.2 0l1.3 .4l1.2 0l1.2 -.3l1.2 .1l1.3 .2l1.2 -.2l1.2 .1l1.2 .2l1.3 0l1.2 0l1.2 .1l1.3 0l1.2 .1l1.2 .2l1.2 0l1.3 -.1l1.2 -.1l1.2 0l1.3 0l1.2 -.1l1.2 .1l1.2 0l1.3 -.2l1.2 .1l1.2 .2l1.3 0l1.2 -.1l1.2 .1l1.2 .1l1.3 0l1.2 0l1.2 .3l1.2 -.1l1.3 -.2l1.2 0l1.2 0l1.3 .3l1.2 -.1l1.2 0l1.2 0l1.3 .1l1.2 .1l1.2 .1l1.3 0l1.2 -.1l1.2 .1l1.2 0l1.3 -.2l1.2 .2l1.2 .1l1.3 0l1.2 .1l1.2 -.1l1.2 -.1l1.3 -.1l1.2 .2l1.2 0l1.2 .1l1.3 .2l1.2 0l1.2 .1l1.3 -.1l1.2 0l1.2 0l1.2 -.4l1.3 .2l1.2 .4l1.2 -.1l1.3 -.1l1.2 .1l1.2 -.1l1.2 0l1.3 -.2l1.2 0l1.2 .2l1.3 .1l1.2 .1l1.2 .1l1.2 0l1.3 -.1l1.2 -.1l1.2 .1l1.2 -.1l1.3 -.1l1.2 .1l1.2 .1l1.3 .1l1.2 0l1.2 -.1l1.2 .2l1.3 .1l1.2 0" stroke="#c0c0c0" stroke-width="3.0" fill="none" stroke-linejoin="round"/>
<path d="M170.2 666.3l1.2 .2l1.3 0l1.2 -.2l1.2 .1l1.2 0l1.3 0l1.2 -.1l1.2 -.1l1.3 .2l1.2 0l1.2 -.1l1.2 .1l1.3 .1l1.2 0l1.2 .1l1.2 .2l1.3 .1l1.2 -.1l1.2 -.1l1.3 -.4l1.2 .1l1.2 .3l1.2 .1l1.3 0l1.2 -.1l1.2 -.1l1.3 .1l1.2 .1l1.2 -.2l1.2 .1l1.3 .2l1.2 .1l1.2 -.1l1.3 -.2l1.2 0l1.2 .1l1.2 0l1.3 .1l1.2 -.1l1.2 -.4l1.2 .2l1.3 .2l1.2 0l1.2 .1l1.3 -.1l1.2 -.1l1.2 .1l1.2 -.1l1.3 .2l1.2 .2l1.2 -.2l1.3 0l1.2 0l1.2 -.1l1.2 0l1.3 .1l1.2 -.1l1.2 -.1l1.3 .1l1.2 .2l1.2 -.1l1.2 .4l1.3 0l1.2 -.4l1.2 -.1l1.2 .2l1.3 .2l1.2 -.2l1.2 .1l1.3 .2l1.2 -.2l1.2 -.1l1.2 -.1l1.3 0l1.2 .1l1.2 .2l1.3 0l1.2 -.2l1.2 -.2l1.2 -.1l1.3 -.2l1.2 0l1.2 0l1.3 0l1.2 -.3l1.2 -.2l1.2 0l1.3 -.3l1.2 0l1.2 .1l1.2 0l1.3 -.1l1.2 0l1.2 -.1l1.3 -.3l1.2 -.2l1.2 -.1l1.2 -.1l1.3 -.1l1.2 0l1.2 -.1l1.3 -.1l1.2 -.1l1.2 .2l1.2 -.2l1.3 -.3l1.2 -.1l1.2 0l1.3 .2l1.2 -.2l1.2 -.2l1.2 0l1.3 -.3l1.2 -.4l1.2 .1l1.2 0l1.3 -.3l1.2 -.4l1.2 -.2l1.3 -.3l1.2 -.2l1.2 -.1l1.2 0l1.3 -.2l1.2 -.4l1.2 -.1l1.3 -.1l1.2 0l1.2 -.5l1.2 -.2l1.3 -.1l1.2 -.2l1.2 -.4l1.3 -.3l1.2 -.1l1.2 -.2l1.2 .1l1.3 -.3l1.2 -.3l1.2 .1l1.2 -.2l1.3 0l1.2 -.2l1.2 -.2l1.3 .1l1.2 0l1.2 -.1l1.2 -.2l1.3 -.4l1.2 -.1l1.2 -.1l1.3 -.2l1.2 -.2l1.2 -.2l1.2 0l1.3 -.1l1.2 0l1.2 -.1l1.3 -.3l1.2 -.2l1.2 -.2l1.2 -.3l1.3 .2l1.2 -.1l1.2 -.4" stroke="#ff0000" stroke-width="3.0" fill="none" stroke-linejoin="round"/>
<path d="M367.9 651.5l1.2 -.2l1.3 -.2l1.2 -.3l1.2 -.3l1.2 -.2l1.3 -.5l1.2 -.1l1.2 -.2l1.3 -.4l1.2 .1l1.2 -.1l1.2 -.4l1.3 -.4l1.2 -.1l1.2 -.1l1.3 0l1.2 -.2l1.2 -.6l1.2 -.1l1.3 -.2l1.2 0l1.2 .1l1.3 -.5l1.2 -.2l1.2 -.1l1.2 -.4l1.3 -.3l1.2 0l1.2 -.2l1.2 -.5l1.3 -.6l1.2 -.1l1.2 0l1.3 .2l1.2 0l1.2 -.3l1.2 -.2l1.3 -.6l1.2 -.3l1.2 -.2l1.3 -.4l1.2 0l1.2 -.1l1.2 0l1.3 -.2l1.2 -.7l1.2 -.5l1.3 -.1l1.2 -.2l1.2 -.4l1.2 -.4l1.3 -.8l1.2 -.3l1.2 .4l1.2 0l1.3 -.6l1.2 -.9l1.2 -.7l1.3 -.4l1.2 -.5l1.2 -.9l1.2 -.5l1.3 -.6l1.2 -1l1.2 -.8l1.3 -.5l1.2 -1.1l1.2 -1.4l1.2 -.9l1.3 -.2l1.2 -.9l1.2 -1.5l1.3 -1.4l1.2 -1.1l1.2 -.9l1.2 -2.2l1.3 -2.5l1.2 -2l1.2 -1.6l1.2 -2.1l1.3 -2.9l1.2 -2.7l1.2 -2.7l1.3 -3.3l1.2 -3.2l1.2 -3.5l1.2 -3.2l1.3 -3.3l1.2 -4.3l1.2 -4.2l1.3 -3.7l1.2 -4.6l1.2 -4l1.2 -3.8l1.3 -4.2l1.2 -4.4l1.2 -4.6l1.3 -4.8l1.2 -6.3l1.2 -7.2l1.2 -7.1l1.3 -7.7l1.2 -8.9l1.2 -8.9l1.2 -8.5l1.3 -10l1.2 -9.1l1.2 -8.5l1.3 -11l1.2 -13.6l1.2 -13.2l1.2 -11.8l1.3 -13.6l1.2 -12.6l1.2 -13.2l1.3 -13.3l1.2 -12.8l1.2 -14.6l1.2 -13.4l1.3 -13.4l1.2 -13.2l1.2 -11.5l1.3 -11.5l1.2 -13.4l1.2 -13.7l1.2 -13.6l1.3 -11.7l1.2 -11.2l1.2 -11l1.2 -10.3l1.3 -10.1l1.2 -7.3l1.2 -6.1l1.3 -7.4l1.2 -7.5l1.2 -1.8l1.2 -1.3l1.3 -.4l1.2 -4.3l1.2 -2.6l1.3 1.3l1.2 -.8l1.2 3.1l1.2 4.6l1.3 3l1.2 4.8l1.2 5.6l1.3 2.9l1.2 -1.6l1.2 7.5l1.2 8.8l1.3 6.8l1.2 5.1l1.2 5.7l1.2 12.9l1.3 11.7l1.2 6.8l1.2 8l1.3 10l1.2 7.4l1.2 8.2l1.2 10.8l1.3 6.6l1.2 8.9l1.2 13.6l1.3 8.8l1.2 6.8l1.2 7l1.2 8.1l1.3 9.7l1.2 7.2l1.2 7.7l1.3 7.6l1.2 5.4l1.2 7.1l1.2 8.6l1.3 6.5l1.2 5.2l1.2 4.7l1.2 6l1.3 6.9l1.2 6.6l1.2 6l1.3 5.7l1.2 5.4l1.2 5.1l1.2 4.9l1.3 5.2l1.2 6.4l1.2 6l1.3 4.6l1.2 3.7l1.2 3.9l1.2 5.4l1.3 6.1l1.2 5.1l1.2 4l1.3 3.2l1.2 3.7l1.2 4l1.2 3.6l1.3 3.4l1.2 4.5l1.2 3.6l1.2 2.7l1.3 3.5l1.2 3.4l1.2 4l1.3 2.7l1.2 2.5l1.2 3.2l1.2 2.6l1.3 2.8l1.2 2.7l1.2 2.6l1.3 3l1.2 3l1.2 1.6l1.2 2.1l1.3 1.8l1.2 2.3l1.2 2.8l1.3 1.8l1.2 2l1.2 2.3l1.2 1.9l1.3 .9l1.2 2.2l1.2 3.3l1.2 1.4l1.3 .9l1.2 1.7l1.2 2.1l1.3 1.5l1.2 .9l1.2 1.6l1.2 1.6l1.3 1l1.2 1l1.2 1.5l1.3 1.4l1.2 .6l1.2 .7l1.2 2l1.3 1.1l1.2 1l1.2 1.4l1.3 1.3l1.2 1.4l1.2 .9l1.2 .8l1.3 .7l1.2 1.1l1.2 .9l1.2 1l1.3 .8l1.2 .9l1.2 1.1l1.3 1.1l1.2 1l1.2 .9l1.2 .5l1.3 .4l1.2 .9l1.2 .6l1.3 .4l1.2 1.3l1.2 .9l1.2 .7l1.3 1.2l1.2 .4l1.2 .1l1.3 1.1l1.2 .4l1.2 .3l1.2 .7l1.3 .8l1.2 .5l1.2 0l1.2 .6l1.3 .6l1.2 .8l1.2 .3l1.3 .1l1.2 .6l1.2 .3l1.2 .3l1.3 .6l1.2 .4l1.2 0l1.3 .8l1.2 .7l1.2 .5l1.2 .3l1.3 -.3l1.2 .5l1.2 .8l1.3 .4l1.2 .1l1.2 .5l1.2 .6l1.3 0l1.2 .3l1.2 .4l1.2 .2l1.3 .6l1.2 0l1.2 -.2l1.3 .6l1.2 .1l1.2 .1l1.2 .6l1.3 .3l1.2 .5l1.2 .1l1.3 0l1.2 .4l1.2 .2l1.2 .4l1.3 -.2l1.2 .1l1.2 .7l1.3 .2l1.2 .4l1.2 .3l1.2 -.5l1.3 .4l1.2 .6l1.2 .3l1.2 .3l1.3 -.2l1.2 .4l1.2 .5l1.3 -.2l1.2 0l1.2 .3l1.2 .2l1.3 .5l1.2 .6l1.2 .2l1.3 -.1l1.2 .1l1.2 .5l1.2 .1l1.3 -.1l1.2 0l1.2 .4l1.3 0l1.2 0l1.2 .4l1.2 0l1.3 .3l1.2 .1l1.2 -.1l1.2 .1l1.3 -.1l1.2 -.1l1.2 .3l1.3 .4l1.2 .4l1.2 .4l1.2 .1l1.3 -.1l1.2 .3l1.2 .1l1.3 0l1.2 .1l1.2 -.1l1.2 -.1l1.3 .6l1.2 .2l1.2 -.2l1.3 .4l1.2 .3l1.2 0l1.2 .1l1.3 .1l1.2 .1l1.2 0l1.2 0l1.3 .4l1.2 .1l1.2 -.2l1.3 .3l1.2 .1l1.2 -.2l1.2 .1l1.3 .5l1.2 -.1l1.2 0l1.3 .1l1.2 0l1.2 0l1.2 .2l1.3 .4l1.2 -.2l1.2 -.2l1.3 .2l1.2 .1l1.2 .1l1.2 .2l1.3 .4l1.2 -.2l1.2 -.3l1.2 .7l1.3 .1l1.2 -.1l1.2 .3l1.3 .1l1.2 -.2l1.2 0l1.2 .2l1.3 .1l1.2 .1l1.2 0l1.3 .3l1.2 .3l1.2 -.2l1.2 .1l1.3 0l1.2 -.1l1.2 0l1.3 .1l1.2 0l1.2 0l1.2 .1l1.3 .1l1.2 .4l1.2 0l1.2 -.2l1.3 .1l1.2 0l1.2 -.1l1.3 0l1.2 .1l1.2 .4l1.2 -.1l1.3 -.2l1.2 .2l1.2 .2l1.3 0l1.2 .1l1.2 0l1.2 -.2l1.3 .1l1.2 .3l1.2 .1l1.3 .2l1.2 0l1.2 0l1.2 .2l1.3 -.3l1.2 .1l1.2 .1l1.2 .1l1.3 -.3l1.2 .1l1.2 .5l1.3 -.1l1.2 -.4l1.2 .1l1.2 .4l1.3 -.1l1.2 .3" stroke="#ff0000" stroke-width="3.0" fill="none" stroke-linejoin="round"/>
<path d="M367.9 652.2l1.2 -.4l1.3 -.2l1.2 -.3l1.2 -.3l1.2 -.5l1.3 0l1.2 .1l1.2 -.3l1.3 -.3l1.2 -.3l1.2 -.4l1.2 .1l1.3 -.1l1.2 -.5l1.2 -.3l1.3 .3l1.2 .1l1.2 -.7l1.2 -.2l1.3 -.1l1.2 -.1l1.2 -.4l1.3 -.2l1.2 .1l1.2 -.2l1.2 -.5l1.3 -.2l1.2 .3l1.2 .3l1.2 -.6l1.3 -.3l1.2 -.1l1.2 -.4l1.3 -.2l1.2 -.2l1.2 .3l1.2 -.6l1.3 -.6l1.2 0l1.2 -.5l1.3 -.3l1.2 -.2l1.2 0l1.2 -.1l1.3 -.3l1.2 -.1l1.2 -.3l1.3 -.4l1.2 0l1.2 -.2l1.2 -.6l1.3 -.4l1.2 -.3l1.2 -.4l1.2 -.3l1.3 .3l1.2 -.4l1.2 -1.2l1.3 -.2l1.2 -.3l1.2 -.9l1.2 -.6l1.3 -.8l1.2 -1l1.2 -.8l1.3 -.6l1.2 -.5l1.2 -.9l1.2 -.5l1.3 -.7l1.2 -1.5l1.2 -1l1.3 -.5l1.2 -1.3l1.2 -1.6l1.2 -1.3l1.3 -1.5l1.2 -1.9l1.2 -2.2l1.2 -1.7l1.3 -2.2l1.2 -2.8l1.2 -2.7l1.3 -2.9l1.2 -2.7l1.2 -3.2l1.2 -3l1.3 -2.5l1.2 -3.9l1.2 -3.7l1.3 -2.9l1.2 -3.4l1.2 -3.7l1.2 -3.3l1.3 -4.2l1.2 -4.6l1.2 -4.2l1.3 -3.8l1.2 -3.8l1.2 -6.4l1.2 -7.1l1.3 -7.5l1.2 -7.6l1.2 -8l1.2 -7.2l1.3 -8.1l1.2 -9.3l1.2 -9.1l1.3 -9.9l1.2 -9l1.2 -10.6l1.2 -13l1.3 -12.5l1.2 -10.3l1.2 -12.8l1.3 -13.6l1.2 -13.2l1.2 -11.7l1.2 -7l1.3 -12.3l1.2 -13.2l1.2 -10.1l1.3 -13l1.2 -13.6l1.2 -7.7l1.2 -10.6l1.3 -10.7l1.2 -11.4l1.2 -10.9l1.2 -5.7l1.3 -10.7l1.2 -11.5l1.2 -7.5l1.3 -3.1l1.2 -5.8l1.2 -6.4l1.2 -3.6l1.3 -.9l1.2 .6l1.2 -.8l1.3 -2.6l1.2 1.4l1.2 3.2l1.2 2l1.3 1.5l1.2 2.5l1.2 4.5l1.3 .8l1.2 2.1l1.2 8l1.2 8l1.3 9.1l1.2 5.4l1.2 5.3l1.2 8.2l1.3 10.6l1.2 6.6l1.2 5.6l1.3 8.8l1.2 8.9l1.2 8.4l1.2 7.4l1.3 7.5l1.2 7.7l1.2 11.1l1.3 8.4l1.2 5.7l1.2 8l1.2 7.3l1.3 6.1l1.2 6l1.2 7.9l1.3 7.8l1.2 5.3l1.2 4.8l1.2 6.7l1.3 6.3l1.2 5.9l1.2 5.5l1.2 4.7l1.3 5.5l1.2 4.6l1.2 6.4l1.3 6.1l1.2 5.7l1.2 5.2l1.2 3l1.3 6l1.2 6.1l1.2 5.5l1.3 3.9l1.2 1.3l1.2 5l1.2 5.2l1.3 2.8l1.2 4.5l1.2 4.5l1.3 3.8l1.2 4l1.2 3.2l1.2 2.8l1.3 3.2l1.2 3.7l1.2 3.4l1.2 2.7l1.3 2.7l1.2 3.3l1.2 4l1.3 3.1l1.2 2.4l1.2 1.9l1.2 2l1.3 2.7l1.2 3.2l1.2 3.6l1.3 2.2l1.2 1.4l1.2 2l1.2 2.1l1.3 1.3l1.2 2.3l1.2 2.1l1.3 2.5l1.2 2.6l1.2 1.3l1.2 1.5l1.3 2l1.2 1.7l1.2 .9l1.2 1.2l1.3 1.8l1.2 2.1l1.2 1.3l1.3 .9l1.2 2l1.2 1.1l1.2 1l1.3 1.3l1.2 1l1.2 1.1l1.3 .8l1.2 .6l1.2 1.4l1.2 1.7l1.3 1.1l1.2 .9l1.2 .9l1.3 1.4l1.2 1.1l1.2 0l1.2 .8l1.3 1.2l1.2 1.1l1.2 .6l1.2 .7l1.3 1.4l1.2 1.1l1.2 .6l1.3 .2l1.2 1.1l1.2 1.4l1.2 1.1l1.3 .3l1.2 .5l1.2 1l1.3 .7l1.2 .7l1.2 .3l1.2 .6l1.3 .7l1.2 .5l1.2 .7l1.3 .2l1.2 .2l1.2 .9l1.2 .6l1.3 .4l1.2 .3l1.2 .4l1.2 .8l1.3 .2l1.2 .3l1.2 .6l1.3 .2l1.2 .5l1.2 .6l1.2 .2l1.3 -.1l1.2 .4l1.2 .7l1.3 .4l1.2 .5l1.2 0l1.2 .5l1.3 .7l1.2 -.1l1.2 .3l1.3 .8l1.2 .1l1.2 -.2l1.2 .1l1.3 .1l1.2 1l1.2 .7l1.2 -.1l1.3 .2l1.2 .4l1.2 .3l1.3 0l1.2 .3l1.2 .4l1.2 .3l1.3 .2l1.2 .5l1.2 .1l1.3 -.1l1.2 .5l1.2 .4l1.2 -.4l1.3 .2l1.2 .5l1.2 .2l1.3 -.1l1.2 .2l1.2 .6l1.2 .1l1.3 .1l1.2 .4l1.2 0l1.2 .2l1.3 .4l1.2 -.2l1.2 .1l1.3 .2l1.2 .5l1.2 .7l1.2 0l1.3 -.1l1.2 .4l1.2 .1l1.3 -.1l1.2 .3l1.2 .1l1.2 .1l1.3 .3l1.2 .2l1.2 .2l1.3 -.2l1.2 .1l1.2 .4l1.2 .1l1.3 .1l1.2 0l1.2 .2l1.2 .3l1.3 -.1l1.2 0l1.2 .6l1.3 .5l1.2 0l1.2 -.1l1.2 .2l1.3 .1l1.2 -.2l1.2 -.2l1.3 .2l1.2 .2l1.2 0l1.2 -.2l1.3 .1l1.2 .4l1.2 .3l1.3 .4l1.2 0l1.2 -.2l1.2 .1l1.3 .4l1.2 0l1.2 0l1.2 .3l1.3 .4l1.2 -.1l1.2 -.1l1.3 0l1.2 0l1.2 .3l1.2 .1l1.3 -.2l1.2 -.2l1.2 .3l1.3 .1l1.2 .3l1.2 .2l1.2 -.1l1.3 .2l1.2 .1l1.2 0l1.3 .2l1.2 .3l1.2 -.4l1.2 .3l1.3 .3l1.2 0l1.2 .4l1.2 -.2l1.3 -.2l1.2 -.1l1.2 .3l1.3 .2l1.2 -.4l1.2 .4l1.2 .2l1.3 -.3l1.2 .1l1.2 -.1l1.3 0l1.2 .4l1.2 .3l1.2 -.1l1.3 -.2l1.2 0l1.2 .2l1.3 0l1.2 .1l1.2 0l1.2 0l1.3 -.2l1.2 .3l1.2 .5l1.2 0l1.3 -.1l1.2 0l1.2 -.1l1.3 .2l1.2 .2l1.2 -.1l1.2 -.1l1.3 .2l1.2 0l1.2 -.3l1.3 .3l1.2 .1l1.2 -.1l1.2 .3l1.3 -.2l1.2 -.1l1.2 .4l1.3 .1l1.2 .1l1.2 .3l1.2 -.2l1.3 -.1l1.2 -.1l1.2 .1l1.2 .2l1.3 .1l1.2 0l1.2 .2l1.3 .1l1.2 .2l1.2 .2l1.2 0l1.3 -.1l1.2 -.1" stroke="#ff0000" stroke-width="3.0" fill="none" stroke-linejoin="round"/>
<path d="M367.9 652.4l1.2 -.1l1.3 -.8l1.2 0l1.2 .1l1.2 -.4l1.3 -.4l1.2 -.2l1.2 0l1.3 -.3l1.2 -.2l1.2 -.5l1.2 -.5l1.3 .2l1.2 .2l1.2 -.1l1.3 -.2l1.2 -.2l1.2 -.4l1.2 0l1.3 -.2l1.2 -.4l1.2 0l1.3 -.4l1.2 -.4l1.2 0l1.2 0l1.3 0l1.2 -.3l1.2 -.1l1.2 -.2l1.3 -.3l1.2 -.1l1.2 -.5l1.3 -.2l1.2 .1l1.2 -.2l1.2 -.3l1.3 -.1l1.2 -.2l1.2 -.6l1.3 .1l1.2 .1l1.2 -.6l1.2 -.1l1.3 0l1.2 -.2l1.2 -.6l1.3 0l1.2 -.1l1.2 -.6l1.2 -.4l1.3 -.2l1.2 -.4l1.2 -.4l1.2 -.2l1.3 -1l1.2 -.7l1.2 .3l1.3 0l1.2 -.8l1.2 -1.1l1.2 -.5l1.3 -.5l1.2 -.8l1.2 -.8l1.3 -.5l1.2 -.3l1.2 -1l1.2 -1.1l1.3 -.9l1.2 -1.1l1.2 -1.1l1.3 -.7l1.2 -.6l1.2 -1.1l1.2 -1.7l1.3 -1.5l1.2 -1.7l1.2 -1.8l1.2 -2.1l1.3 -2.3l1.2 -1.7l1.2 -2.5l1.3 -3l1.2 -2.6l1.2 -3.2l1.2 -3.2l1.3 -3.1l1.2 -3l1.2 -3.6l1.3 -3.5l1.2 -3.4l1.2 -3.1l1.2 -3.3l1.3 -3.9l1.2 -3.2l1.2 -4.6l1.3 -4.7l1.2 -4.3l1.2 -5.7l1.2 -6.3l1.3 -6.8l1.2 -7l1.2 -7.7l1.2 -9.2l1.3 -7.4l1.2 -6.4l1.2 -8.9l1.3 -9.8l1.2 -10.8l1.2 -12l1.2 -12.1l1.3 -11.3l1.2 -11l1.2 -12.7l1.3 -11.7l1.2 -11.8l1.2 -11.4l1.2 -10.7l1.3 -12.3l1.2 -9.1l1.2 -10.7l1.3 -13.7l1.2 -11.3l1.2 -10.9l1.2 -12.1l1.3 -9.8l1.2 -9.5l1.2 -10.4l1.2 -8.6l1.3 -9.8l1.2 -6.2l1.2 -7.3l1.3 -8.6l1.2 -3.3l1.2 -2.7l1.2 -5.5l1.3 -1.1l1.2 -2.1l1.2 -3.4l1.3 2.8l1.2 .8l1.2 .8l1.2 3.4l1.3 .2l1.2 2.9l1.2 7.5l1.3 1.4l1.2 .8l1.2 6.4l1.2 3.7l1.3 5.8l1.2 7.5l1.2 8.2l1.2 9.6l1.3 7.6l1.2 6.1l1.2 7.7l1.3 10.7l1.2 6.1l1.2 6l1.2 8.9l1.3 7.1l1.2 6.1l1.2 8.9l1.3 8.4l1.2 8.8l1.2 8.8l1.2 5.7l1.3 9l1.2 7.6l1.2 5.1l1.3 5l1.2 5.9l1.2 6.7l1.2 6l1.3 5l1.2 5.1l1.2 5.9l1.2 5.5l1.3 5.1l1.2 6l1.2 5.9l1.3 4.8l1.2 5l1.2 4.4l1.2 5l1.3 6.3l1.2 4.3l1.2 3l1.3 4.2l1.2 4.6l1.2 5.7l1.2 4.7l1.3 2.7l1.2 3.4l1.2 4.3l1.3 4l1.2 4.2l1.2 3.4l1.2 3.8l1.3 3.6l1.2 1.8l1.2 3.7l1.2 2.9l1.3 1.6l1.2 3.3l1.2 4l1.3 3.2l1.2 3.1l1.2 2.1l1.2 2.6l1.3 2.8l1.2 2.5l1.2 2.3l1.3 2.4l1.2 2.4l1.2 1.8l1.2 1.6l1.3 1.9l1.2 2.4l1.2 1.4l1.3 2.2l1.2 2.6l1.2 1.4l1.2 1.7l1.3 1.2l1.2 1.3l1.2 2.1l1.2 1.8l1.3 2.6l1.2 1l1.2 .6l1.3 2.4l1.2 1.5l1.2 .7l1.2 .5l1.3 1l1.2 1.4l1.2 1.2l1.3 1.4l1.2 1.4l1.2 .8l1.2 1.2l1.3 1l1.2 .5l1.2 1.6l1.3 1.2l1.2 .4l1.2 .9l1.2 .4l1.3 1.2l1.2 .9l1.2 .3l1.2 .7l1.3 1.1l1.2 1.3l1.2 .7l1.3 .7l1.2 1l1.2 1l1.2 .6l1.3 .4l1.2 .9l1.2 .9l1.3 .6l1.2 .5l1.2 .3l1.2 1.1l1.3 1l1.2 .3l1.2 .4l1.3 .2l1.2 -.1l1.2 .6l1.2 .7l1.3 .8l1.2 .8l1.2 .1l1.2 0l1.3 .6l1.2 .6l1.2 .1l1.3 .1l1.2 .9l1.2 .7l1.2 .1l1.3 .8l1.2 .6l1.2 0l1.3 .3l1.2 .3l1.2 .2l1.2 .8l1.3 .4l1.2 .4l1.2 .3l1.3 -.2l1.2 0l1.2 .3l1.2 .1l1.3 .6l1.2 .6l1.2 .1l1.2 -.2l1.3 .3l1.2 .6l1.2 .2l1.3 .4l1.2 .7l1.2 0l1.2 0l1.3 .2l1.2 .4l1.2 .5l1.3 -.2l1.2 .1l1.2 .1l1.2 .4l1.3 .3l1.2 0l1.2 .1l1.3 .3l1.2 .3l1.2 .2l1.2 .3l1.3 .1l1.2 .1l1.2 .4l1.2 .3l1.3 .1l1.2 .2l1.2 0l1.3 .2l1.2 .2l1.2 .2l1.2 .4l1.3 -.1l1.2 .1l1.2 .7l1.3 -.1l1.2 -.2l1.2 .2l1.2 .3l1.3 .4l1.2 -.2l1.2 .2l1.3 .1l1.2 .1l1.2 .6l1.2 0l1.3 0l1.2 0l1.2 .2l1.2 .3l1.3 .2l1.2 -.1l1.2 -.1l1.3 .5l1.2 0l1.2 -.1l1.2 .1l1.3 .3l1.2 .2l1.2 -.1l1.3 .1l1.2 .2l1.2 .1l1.2 .2l1.3 .2l1.2 .1l1.2 .1l1.3 .1l1.2 0l1.2 .1l1.2 0l1.3 .2l1.2 .1l1.2 .1l1.2 .6l1.3 .1l1.2 -.4l1.2 -.1l1.3 .1l1.2 .2l1.2 .1l1.2 .2l1.3 -.1l1.2 -.3l1.2 .2l1.3 .4l1.2 .3l1.2 -.1l1.2 -.1l1.3 .3l1.2 0l1.2 -.2l1.3 .1l1.2 .2l1.2 .1l1.2 .1l1.3 .2l1.2 .1l1.2 -.1l1.2 .2l1.3 .2l1.2 -.3l1.2 -.2l1.3 .2l1.2 .2l1.2 -.1l1.2 .1l1.3 0l1.2 .4l1.2 .2l1.3 -.2l1.2 .2l1.2 0l1.2 .3l1.3 .3l1.2 -.1l1.2 -.2l1.3 .3l1.2 0l1.2 .1l1.2 .1l1.3 -.1l1.2 -.2l1.2 .4l1.2 .2l1.3 -.3l1.2 .2l1.2 .2l1.3 -.2l1.2 -.1l1.2 .2l1.2 .4l1.3 0l1.2 -.1l1.2 0l1.3 0l1.2 .3l1.2 -.1l1.2 0l1.3 .1l1.2 -.2l1.2 0l1.3 .1l1.2 .1l1.2 .2l1.2 .2l1.3 -.4l1.2 -.3l1.2 .2l1.2 .1l1.3 .5l1.2 -.1l1.2 -.2l1.3 .3l1.2 -.1l1.2 .2l1.2 -.1l1.3 .3l1.2 .1" stroke="#ff0000" stroke-width="3.0" fill="none" stroke-linejoin="round"/>
<path d="M367.9 651.9l1.2 -.2l1.3 -.1l1.2 .3l1.2 -.2l1.2 -.3l1.3 0l1.2 -.4l1.2 -.3l1.3 -.2l1.2 -.2l1.2 -.3l1.2 -.2l1.3 -.1l1.2 -.2l1.2 -.3l1.3 0l1.2 .2l1.2 -.5l1.2 -.5l1.3 .4l1.2 -.3l1.2 -.8l1.3 .4l1.2 .2l1.2 -.4l1.2 -.2l1.3 -.2l1.2 -.4l1.2 -.4l1.2 .2l1.3 0l1.2 -.9l1.2 .3l1.3 -.1l1.2 -.6l1.2 0l1.2 -.4l1.3 -.5l1.2 -.3l1.2 -.3l1.3 .1l1.2 .5l1.2 -.2l1.2 -.6l1.3 -.6l1.2 -.3l1.2 .2l1.3 -.4l1.2 -.4l1.2 -.1l1.2 -.3l1.3 -.3l1.2 -.5l1.2 -.3l1.2 .2l1.3 -.2l1.2 -.9l1.2 -.8l1.3 -.6l1.2 -.4l1.2 -.8l1.2 -.5l1.3 -.6l1.2 -.7l1.2 -.5l1.3 -.3l1.2 -.3l1.2 -1.1l1.2 -1l1.3 -.7l1.2 -1.3l1.2 -.8l1.3 -1l1.2 -1.2l1.2 -.5l1.2 -1.5l1.3 -2.1l1.2 -1.6l1.2 -1.9l1.2 -1.8l1.3 -2l1.2 -2.5l1.2 -2.1l1.3 -2.5l1.2 -3.3l1.2 -2.6l1.2 -2.2l1.3 -2.8l1.2 -3.2l1.2 -3.5l1.3 -3.1l1.2 -3.8l1.2 -4l1.2 -3.1l1.3 -3.5l1.2 -4.4l1.2 -4l1.3 -3.8l1.2 -4.3l1.2 -5.7l1.2 -6.4l1.3 -7.9l1.2 -6.4l1.2 -5.6l1.2 -7.6l1.3 -8.3l1.2 -8.8l1.2 -10l1.3 -9.5l1.2 -10.1l1.2 -10.8l1.2 -10.4l1.3 -10.3l1.2 -10.7l1.2 -11.9l1.3 -10.7l1.2 -12.2l1.2 -14.3l1.2 -11.2l1.3 -9l1.2 -8.8l1.2 -10.7l1.3 -12.7l1.2 -13.4l1.2 -10.5l1.2 -9.6l1.3 -8.5l1.2 -11l1.2 -14.1l1.2 -5.2l1.3 -3.5l1.2 -9.8l1.2 -10.8l1.3 -5.7l1.2 -3.4l1.2 -6.1l1.2 -2.3l1.3 3l1.2 -1l1.2 -4.5l1.3 -2.1l1.2 2.7l1.2 4.2l1.2 3.3l1.3 .5l1.2 .4l1.2 3.9l1.3 5l1.2 3l1.2 5.5l1.2 4.7l1.3 5.6l1.2 6.9l1.2 6.5l1.2 7.8l1.3 9.6l1.2 9.2l1.2 5.9l1.3 5.9l1.2 6.6l1.2 7.7l1.2 10.3l1.3 8.2l1.2 7.3l1.2 7l1.3 7.4l1.2 7.4l1.2 6.5l1.2 7.1l1.3 6.5l1.2 7.6l1.2 5.7l1.3 3.9l1.2 6.1l1.2 5.8l1.2 6l1.3 7.1l1.2 5.3l1.2 4.9l1.2 5.8l1.3 4.4l1.2 5.9l1.2 5.6l1.3 5l1.2 6.8l1.2 4.1l1.2 3.6l1.3 5l1.2 4.4l1.2 3.9l1.3 4.2l1.2 4.9l1.2 4.3l1.2 3.5l1.3 4.1l1.2 3.8l1.2 4.4l1.3 3.9l1.2 2.5l1.2 3l1.2 3.8l1.3 3.6l1.2 2.5l1.2 1.7l1.2 3.1l1.3 3.9l1.2 3.2l1.2 2.1l1.3 2.6l1.2 3.6l1.2 2.5l1.2 2.9l1.3 3l1.2 2l1.2 2.3l1.3 1.7l1.2 1.9l1.2 1.6l1.2 1.7l1.3 3l1.2 1.9l1.2 1.4l1.3 1.8l1.2 1.9l1.2 1.8l1.2 2.1l1.3 1.6l1.2 .9l1.2 1.7l1.2 2.1l1.3 1.8l1.2 1.7l1.2 .9l1.3 1.2l1.2 1l1.2 .8l1.2 1.6l1.3 1.4l1.2 .8l1.2 1l1.3 1.3l1.2 1.6l1.2 .6l1.2 .6l1.3 1.3l1.2 1.1l1.2 .6l1.3 .8l1.2 1.3l1.2 1.3l1.2 1.1l1.3 .4l1.2 .6l1.2 .6l1.2 1l1.3 .7l1.2 .7l1.2 1.1l1.3 .7l1.2 1.1l1.2 1.2l1.2 -.1l1.3 .6l1.2 1.2l1.2 .2l1.3 .6l1.2 .6l1.2 .9l1.2 .8l1.3 0l1.2 .1l1.2 .3l1.3 1.1l1.2 .6l1.2 .2l1.2 .9l1.3 .6l1.2 0l1.2 .4l1.2 .8l1.3 .5l1.2 .4l1.2 .6l1.3 .1l1.2 0l1.2 .3l1.2 .7l1.3 .8l1.2 0l1.2 .1l1.3 .4l1.2 .6l1.2 .3l1.2 .4l1.3 -.1l1.2 -.1l1.2 .8l1.3 .2l1.2 .2l1.2 .4l1.2 .1l1.3 .5l1.2 0l1.2 .5l1.2 .6l1.3 0l1.2 .5l1.2 .4l1.3 0l1.2 -.1l1.2 .4l1.2 .2l1.3 0l1.2 .2l1.2 .3l1.3 .4l1.2 .1l1.2 .2l1.2 .5l1.3 .3l1.2 -.1l1.2 -.2l1.3 .6l1.2 .4l1.2 -.2l1.2 -.1l1.3 .3l1.2 .5l1.2 .1l1.2 -.3l1.3 .2l1.2 .4l1.2 0l1.3 .5l1.2 .3l1.2 -.3l1.2 .1l1.3 .4l1.2 .4l1.2 .2l1.3 .4l1.2 .1l1.2 .1l1.2 .1l1.3 0l1.2 .3l1.2 .1l1.3 .1l1.2 .2l1.2 .1l1.2 -.1l1.3 .1l1.2 .2l1.2 .3l1.2 0l1.3 .1l1.2 .2l1.2 .2l1.3 .1l1.2 .2l1.2 .1l1.2 .2l1.3 .1l1.2 -.2l1.2 .1l1.3 .3l1.2 .2l1.2 .1l1.2 -.3l1.3 .3l1.2 .2l1.2 .1l1.3 0l1.2 .1l1.2 .2l1.2 .1l1.3 .4l1.2 -.1l1.2 -.4l1.2 .3l1.3 .2l1.2 0l1.2 0l1.3 .1l1.2 .3l1.2 -.2l1.2 0l1.3 .3l1.2 .1l1.2 .2l1.3 .1l1.2 .1l1.2 -.1l1.2 -.2l1.3 .4l1.2 .3l1.2 -.1l1.3 -.3l1.2 .2l1.2 .1l1.2 0l1.3 .2l1.2 .2l1.2 .1l1.2 -.2l1.3 .2l1.2 .5l1.2 -.1l1.3 -.1l1.2 .1l1.2 0l1.2 .2l1.3 .2l1.2 0l1.2 0l1.3 -.1l1.2 0l1.2 .1l1.2 .1l1.3 .2l1.2 .1l1.2 .2l1.3 .1l1.2 -.2l1.2 -.2l1.2 .3l1.3 0l1.2 .2l1.2 .1l1.2 -.2l1.3 .1l1.2 0l1.2 .1l1.3 -.2l1.2 .1l1.2 .4l1.2 -.1l1.3 .3l1.2 .1l1.2 0l1.3 -.2l1.2 -.1l1.2 .3l1.2 .2l1.3 -.2l1.2 0l1.2 .5l1.3 -.1l1.2 .2l1.2 .1l1.2 -.2l1.3 -.2l1.2 -.2l1.2 .3l1.2 .3l1.3 -.2l1.2 -.2l1.2 .3l1.3 .2l1.2 -.1l1.2 0l1.2 .1l1.3 -.2l1.2 .1" stroke="#ff0000" stroke-width="3.0" fill="none" stroke-linejoin="round"/>
<path d="M367.9 652.2l1.2 .3l1.3 -.1l1.2 -.4l1.2 -.6l1.2 -.3l1.3 0l1.2 -.1l1.2 -.1l1.3 -.1l1.2 -.2l1.2 -.3l1.2 -.2l1.3 -.1l1.2 -.2l1.2 -.2l1.3 -.3l1.2 -.1l1.2 -.1l1.2 -.1l1.3 -.2l1.2 -.2l1.2 -.2l1.3 -.4l1.2 -.5l1.2 0l1.2 -.2l1.3 .1l1.2 0l1.2 -.3l1.2 -.3l1.3 -.4l1.2 -.3l1.2 .2l1.3 -.1l1.2 -.6l1.2 -.2l1.2 0l1.3 0l1.2 -.1l1.2 -.5l1.3 .2l1.2 -.4l1.2 -.8l1.2 -.2l1.3 .1l1.2 -.1l1.2 -.2l1.3 -.3l1.2 -.4l1.2 -.5l1.2 -.2l1.3 -.3l1.2 -.3l1.2 0l1.2 -.4l1.3 -.3l1.2 -.2l1.2 -.7l1.3 -.6l1.2 -.2l1.2 -.4l1.2 -.7l1.3 -.7l1.2 -.8l1.2 -.7l1.3 -.3l1.2 -.6l1.2 -1.2l1.2 -1.4l1.3 -.9l1.2 -.1l1.2 -.6l1.3 -1.3l1.2 -1.1l1.2 -.9l1.2 -1.7l1.3 -1.4l1.2 -1.2l1.2 -2.1l1.2 -2.1l1.3 -2.1l1.2 -2.3l1.2 -2.3l1.3 -2.5l1.2 -2.7l1.2 -2.5l1.2 -2.3l1.3 -2.6l1.2 -3.5l1.2 -3.7l1.3 -3.3l1.2 -3l1.2 -3.1l1.2 -4.3l1.3 -3.2l1.2 -3.2l1.2 -4.3l1.3 -4.4l1.2 -4.4l1.2 -4.8l1.2 -6.2l1.3 -7.2l1.2 -6.4l1.2 -6l1.2 -7.1l1.3 -8.5l1.2 -8.2l1.2 -8.6l1.3 -10.1l1.2 -9.6l1.2 -11.1l1.2 -11l1.3 -9.5l1.2 -11l1.2 -12.2l1.3 -10l1.2 -11.3l1.2 -14.6l1.2 -10.5l1.3 -10.4l1.2 -9.2l1.2 -9.9l1.3 -11.2l1.2 -9.6l1.2 -10.2l1.2 -12.5l1.3 -11.8l1.2 -10.6l1.2 -9.4l1.2 -4.3l1.3 -9.7l1.2 -9.1l1.2 -5.4l1.3 -8l1.2 -7.4l1.2 -2.7l1.2 -3.5l1.3 -3.1l1.2 -.2l1.2 .1l1.3 -.4l1.2 -1.9l1.2 2.6l1.2 3.3l1.3 .9l1.2 3.4l1.2 3.6l1.3 3.8l1.2 1.7l1.2 3.8l1.2 10.2l1.3 6l1.2 4.5l1.2 6.8l1.2 4.1l1.3 7.5l1.2 12.1l1.2 8.4l1.3 6.5l1.2 5.8l1.2 9.4l1.2 8.3l1.3 4.8l1.2 8.7l1.2 7.3l1.3 5.6l1.2 9.4l1.2 9.1l1.2 5.4l1.3 6.1l1.2 6.5l1.2 5.8l1.3 5.7l1.2 6.5l1.2 7.2l1.2 4.8l1.3 3.1l1.2 5l1.2 6l1.2 5.1l1.3 6.8l1.2 5.6l1.2 4.1l1.3 5.7l1.2 4.5l1.2 4.9l1.2 5.7l1.3 5.1l1.2 5.4l1.2 4l1.3 2.2l1.2 2.9l1.2 5.3l1.2 4.8l1.3 2.8l1.2 4.3l1.2 4.7l1.3 3.7l1.2 2.5l1.2 3.1l1.2 4.2l1.3 2.9l1.2 3.3l1.2 1.9l1.2 2.1l1.3 3.1l1.2 4.2l1.2 3.3l1.3 2l1.2 3.4l1.2 2.4l1.2 1.5l1.3 2l1.2 3.3l1.2 1.5l1.3 1.6l1.2 3.6l1.2 2.7l1.2 1.9l1.3 1.6l1.2 1.8l1.2 2.1l1.3 1.3l1.2 1.7l1.2 2l1.2 1.7l1.3 1.7l1.2 1.1l1.2 1.5l1.2 1.7l1.3 1.5l1.2 1.4l1.2 1.4l1.3 1.4l1.2 1.5l1.2 1.2l1.2 .7l1.3 1.7l1.2 1.4l1.2 1.3l1.3 1l1.2 .4l1.2 1.1l1.2 .8l1.3 1.4l1.2 1.3l1.2 .7l1.3 1l1.2 .4l1.2 .8l1.2 .7l1.3 1l1.2 1.3l1.2 .8l1.2 1l1.3 .9l1.2 .4l1.2 .4l1.3 .9l1.2 1.2l1.2 .8l1.2 .8l1.3 .4l1.2 .3l1.2 .6l1.3 .7l1.2 .5l1.2 1l1.2 .8l1.3 .1l1.2 .6l1.2 .5l1.3 .4l1.2 .6l1.2 .4l1.2 .5l1.3 .5l1.2 .2l1.2 .6l1.2 .4l1.3 0l1.2 .2l1.2 .7l1.3 .5l1.2 .7l1.2 .8l1.2 .1l1.3 .3l1.2 .5l1.2 .4l1.3 .2l1.2 .2l1.2 .4l1.2 .2l1.3 .2l1.2 .3l1.2 .1l1.3 .2l1.2 .4l1.2 .4l1.2 .3l1.3 .4l1.2 .1l1.2 .1l1.2 .2l1.3 .2l1.2 .5l1.2 .1l1.3 .2l1.2 .4l1.2 .2l1.2 .1l1.3 .5l1.2 .1l1.2 .1l1.3 .3l1.2 .3l1.2 .1l1.2 .5l1.3 0l1.2 .3l1.2 .6l1.3 -.1l1.2 0l1.2 0l1.2 .2l1.3 .4l1.2 0l1.2 -.1l1.2 .7l1.3 .3l1.2 .1l1.2 .3l1.3 -.2l1.2 0l1.2 .5l1.2 .3l1.3 -.2l1.2 0l1.2 .2l1.3 .5l1.2 .1l1.2 -.1l1.2 .4l1.3 -.1l1.2 0l1.2 .3l1.3 .2l1.2 .2l1.2 0l1.2 .2l1.3 .1l1.2 .1l1.2 .2l1.2 .3l1.3 .1l1.2 -.1l1.2 .2l1.3 .2l1.2 -.1l1.2 -.1l1.2 .1l1.3 0l1.2 .2l1.2 .4l1.3 .4l1.2 -.1l1.2 -.1l1.2 .2l1.3 -.1l1.2 .3l1.2 .4l1.3 0l1.2 .1l1.2 .3l1.2 -.1l1.3 .1l1.2 0l1.2 .2l1.2 .2l1.3 0l1.2 0l1.2 .2l1.3 -.1l1.2 .2l1.2 .2l1.2 -.3l1.3 .1l1.2 .2l1.2 .2l1.3 .1l1.2 -.1l1.2 .1l1.2 .1l1.3 0l1.2 .1l1.2 .4l1.3 .2l1.2 -.1l1.2 -.4l1.2 -.1l1.3 .4l1.2 .2l1.2 .1l1.2 0l1.3 .1l1.2 .1l1.2 .1l1.3 .2l1.2 .1l1.2 .1l1.2 0l1.3 -.2l1.2 -.1l1.2 .1l1.3 .2l1.2 .1l1.2 .1l1.2 .1l1.3 0l1.2 .3l1.2 0l1.3 0l1.2 0l1.2 0l1.2 .3l1.3 .1l1.2 0l1.2 -.3l1.2 .1l1.3 .3l1.2 -.1l1.2 0l1.3 .1l1.2 -.1l1.2 .1l1.2 -.1l1.3 -.2l1.2 .3l1.2 0l1.3 .1l1.2 .3l1.2 .2l1.2 .1l1.3 -.2l1.2 -.1l1.2 -.1l1.3 -.1l1.2 .1l1.2 .3l1.2 -.1l1.3 .1l1.2 .5l1.2 .1l1.2 -.3l1.3 -.1l1.2 .1l1.2 0l1.3 .4l1.2 -.1l1.2 -.4l1.2 .3l1.3 .4l1.2 -.1" stroke="#ff0000" stroke-width="3.0" fill="none" stroke-linejoin="round"/>
<path d="M367.9 652.8l1.2 -.3l1.3 .1l1.2 -.1l1.2 -.3l1.2 -.2l1.3 -.3l1.2 0l1.2 -.5l1.3 -.4l1.2 .1l1.2 -.3l1.2 -.4l1.3 .4l1.2 .1l1.2 -.7l1.3 -.3l1.2 -.1l1.2 0l1.2 -.3l1.3 -.1l1.2 0l1.2 -.1l1.3 -.7l1.2 -.2l1.2 .5l1.2 -.1l1.3 -.3l1.2 -.4l1.2 -.1l1.2 0l1.3 -.5l1.2 -.3l1.2 0l1.3 -.1l1.2 -.7l1.2 0l1.2 .2l1.3 -.2l1.2 -.1l1.2 -.5l1.3 -.2l1.2 -.2l1.2 0l1.2 -.1l1.3 -.3l1.2 .3l1.2 -.5l1.3 -.7l1.2 .1l1.2 -.4l1.2 -.5l1.3 .3l1.2 -.3l1.2 -1.2l1.2 -.3l1.3 -.1l1.2 .1l1.2 .1l1.3 -.4l1.2 -.9l1.2 -1l1.2 .1l1.3 -.6l1.2 -.7l1.2 -.1l1.3 -1l1.2 -.8l1.2 -.8l1.2 -.9l1.3 -1l1.2 -.7l1.2 -.4l1.3 -.8l1.2 -1.5l1.2 -1.3l1.2 -.8l1.3 -1.4l1.2 -1.4l1.2 -1.9l1.2 -1.7l1.3 -1.1l1.2 -1.5l1.2 -3l1.3 -2.4l1.2 -1.5l1.2 -2.6l1.2 -3l1.3 -2.4l1.2 -2.4l1.2 -3.3l1.3 -2.7l1.2 -3l1.2 -3.6l1.2 -3l1.3 -2.8l1.2 -3.4l1.2 -3.3l1.3 -3.2l1.2 -3.5l1.2 -5.4l1.2 -5.1l1.3 -5l1.2 -7.2l1.2 -7.6l1.2 -6.5l1.3 -6l1.2 -6.5l1.2 -8.4l1.3 -9.1l1.2 -8.4l1.2 -9.6l1.2 -9.3l1.3 -9.8l1.2 -10.3l1.2 -10.1l1.3 -9l1.2 -9.8l1.2 -12l1.2 -11.7l1.3 -11.4l1.2 -8.8l1.2 -7.7l1.3 -10.3l1.2 -11.1l1.2 -8.1l1.2 -5.6l1.3 -10l1.2 -11.9l1.2 -9.3l1.2 -6.6l1.3 -6.8l1.2 -8.4l1.2 -6.3l1.3 -4.8l1.2 -6.2l1.2 -5.7l1.2 -1.4l1.3 -1.5l1.2 -4.9l1.2 -1l1.3 2l1.2 1.3l1.2 1.1l1.2 2.7l1.3 1.5l1.2 1.9l1.2 5.5l1.3 1.8l1.2 -.2l1.2 4.4l1.2 8l1.3 5.7l1.2 7.8l1.2 4.6l1.2 2.9l1.3 10.8l1.2 9.6l1.2 2.8l1.3 4.6l1.2 9.6l1.2 6.4l1.2 6.7l1.3 7.8l1.2 6.7l1.2 6.5l1.3 7.9l1.2 6.7l1.2 5.4l1.2 7.3l1.3 5.5l1.2 4.5l1.2 7l1.3 4.6l1.2 4.2l1.2 5.5l1.2 6l1.3 6.2l1.2 4.3l1.2 4.8l1.2 4.8l1.3 5.6l1.2 3.4l1.2 3.6l1.3 5.1l1.2 3.9l1.2 5.2l1.2 4.2l1.3 5.5l1.2 5.3l1.2 3l1.3 3.7l1.2 4l1.2 3.2l1.2 2l1.3 3.8l1.2 4.1l1.2 4.4l1.3 3.9l1.2 2l1.2 3l1.2 3l1.3 2.8l1.2 2.8l1.2 3.1l1.2 2.7l1.3 1.5l1.2 2.5l1.2 2.2l1.3 2.8l1.2 2.9l1.2 2.7l1.2 2.3l1.3 1.6l1.2 2.6l1.2 1.9l1.3 2.3l1.2 2.3l1.2 1.3l1.2 2.1l1.3 2.1l1.2 1.1l1.2 1.4l1.3 2.3l1.2 1.6l1.2 1.4l1.2 1.7l1.3 1.2l1.2 1.5l1.2 2l1.2 1.1l1.3 .9l1.2 1l1.2 1.7l1.3 1.7l1.2 .5l1.2 .8l1.2 1.4l1.3 1.3l1.2 .7l1.2 .8l1.3 1.3l1.2 1.1l1.2 .8l1.2 .5l1.3 1.5l1.2 1.2l1.2 -.1l1.3 1.1l1.2 1.2l1.2 .2l1.2 1.1l1.3 1.1l1.2 .6l1.2 .6l1.2 .6l1.3 1l1.2 .5l1.2 .4l1.3 .5l1.2 .7l1.2 1l1.2 .6l1.3 .4l1.2 .2l1.2 1l1.3 1.3l1.2 0l1.2 .5l1.2 1.3l1.3 .3l1.2 -.3l1.2 .1l1.3 .8l1.2 .5l1.2 .4l1.2 .3l1.3 .4l1.2 .3l1.2 .2l1.2 .8l1.3 .8l1.2 .1l1.2 -.1l1.3 .8l1.2 .6l1.2 .2l1.2 .3l1.3 .2l1.2 .3l1.2 .3l1.3 .3l1.2 -.1l1.2 .3l1.2 .7l1.3 .1l1.2 .3l1.2 .3l1.3 .1l1.2 .1l1.2 .4l1.2 .8l1.3 -.1l1.2 -.1l1.2 .1l1.2 .1l1.3 .6l1.2 .3l1.2 .3l1.3 .5l1.2 0l1.2 0l1.2 .5l1.3 .1l1.2 -.1l1.2 .1l1.3 .5l1.2 .3l1.2 0l1.2 .4l1.3 -.1l1.2 0l1.2 .3l1.3 0l1.2 .1l1.2 .5l1.2 .5l1.3 -.1l1.2 -.1l1.2 .4l1.2 .1l1.3 .2l1.2 .3l1.2 0l1.3 .1l1.2 0l1.2 .2l1.2 .2l1.3 .3l1.2 0l1.2 -.1l1.3 .4l1.2 -.1l1.2 .1l1.2 .4l1.3 .2l1.2 0l1.2 .1l1.3 .2l1.2 .1l1.2 -.1l1.2 -.1l1.3 .2l1.2 .4l1.2 .3l1.2 0l1.3 -.2l1.2 -.1l1.2 .3l1.3 .6l1.2 .2l1.2 -.1l1.2 -.1l1.3 .2l1.2 .4l1.2 .3l1.3 -.2l1.2 0l1.2 .2l1.2 -.1l1.3 .4l1.2 .3l1.2 -.3l1.3 -.1l1.2 .3l1.2 -.1l1.2 .1l1.3 .2l1.2 .1l1.2 0l1.2 0l1.3 .1l1.2 .1l1.2 -.2l1.3 .3l1.2 .2l1.2 .2l1.2 .1l1.3 -.2l1.2 -.1l1.2 .3l1.3 .1l1.2 0l1.2 .1l1.2 .1l1.3 -.2l1.2 .5l1.2 .4l1.3 -.4l1.2 0l1.2 .1l1.2 0l1.3 .2l1.2 .1l1.2 .1l1.2 .1l1.3 -.1l1.2 -.1l1.2 .1l1.3 .2l1.2 .2l1.2 .3l1.2 0l1.3 0l1.2 .1l1.2 0l1.3 -.1l1.2 0l1.2 .1l1.2 .2l1.3 .1l1.2 -.2l1.2 0l1.3 .1l1.2 0l1.2 -.1l1.2 -.1l1.3 -.1l1.2 .3l1.2 .3l1.2 .1l1.3 .1l1.2 -.2l1.2 .2l1.3 -.1l1.2 0l1.2 .4l1.2 -.1l1.3 -.2l1.2 .2l1.2 .1l1.3 .3l1.2 .1l1.2 .1l1.2 -.2l1.3 -.2l1.2 .3l1.2 .2l1.3 -.2l1.2 .1l1.2 0l1.2 .1l1.3 -.1l1.2 0l1.2 .2l1.2 .4l1.3 .2l1.2 -.4l1.2 0l1.3 .1l1.2 .1l1.2 -.1l1.2 0l1.3 .2l1.2 -.3" stroke="#ff0000" stroke-width="3.0" fill="none" stroke-linejoin="round"/>
<path d="M367.9 652.9l1.2 -.4l1.3 .2l1.2 0l1.2 -.1l1.2 -.3l1.3 -.2l1.2 -.2l1.2 -.1l1.3 -.3l1.2 -.3l1.2 .1l1.2 -.5l1.3 -.4l1.2 .3l1.2 .1l1.3 -.2l1.2 -.3l1.2 -.4l1.2 -.4l1.3 .2l1.2 .2l1.2 -.3l1.3 -.2l1.2 -.1l1.2 -.5l1.2 .4l1.3 -.1l1.2 -.9l1.2 -.1l1.2 .5l1.3 0l1.2 -.5l1.2 -.6l1.3 -.3l1.2 -.2l1.2 .2l1.2 -.1l1.3 -.3l1.2 -.2l1.2 0l1.3 -.3l1.2 -.6l1.2 -.1l1.2 0l1.3 0l1.2 -.2l1.2 -.3l1.3 .1l1.2 -.5l1.2 -.4l1.2 -.1l1.3 0l1.2 -.4l1.2 -.9l1.2 -.3l1.3 -.1l1.2 -.4l1.2 -.7l1.3 -.2l1.2 -.2l1.2 -.5l1.2 -.4l1.3 -.6l1.2 -.7l1.2 -.4l1.3 -.4l1.2 -.7l1.2 -.6l1.2 -.6l1.3 -.9l1.2 -.8l1.2 -.2l1.3 -1l1.2 -.8l1.2 -.9l1.2 -.6l1.3 -1.2l1.2 -2.4l1.2 -1.5l1.2 -1.5l1.3 -1.6l1.2 -1.3l1.2 -1.8l1.3 -2.5l1.2 -2.5l1.2 -2.3l1.2 -2.2l1.3 -2l1.2 -1.8l1.2 -2.4l1.3 -3.7l1.2 -2.7l1.2 -2.3l1.2 -3.3l1.3 -2.2l1.2 -2.9l1.2 -3.5l1.3 -3.2l1.2 -3.5l1.2 -4l1.2 -4.8l1.3 -4.6l1.2 -6.7l1.2 -6.5l1.2 -5.5l1.3 -6.6l1.2 -6.7l1.2 -6.9l1.3 -7.9l1.2 -8.3l1.2 -8l1.2 -9l1.3 -10.4l1.2 -9.2l1.2 -9l1.3 -10.8l1.2 -10.2l1.2 -9.8l1.2 -7.5l1.3 -8.8l1.2 -10.4l1.2 -9.8l1.3 -8.9l1.2 -8.4l1.2 -10.8l1.2 -7.9l1.3 -8.2l1.2 -9.7l1.2 -5.5l1.2 -6.3l1.3 -8.6l1.2 -5.8l1.2 -5.3l1.3 -7.6l1.2 -4.7l1.2 -3l1.2 -3.9l1.3 -2.3l1.2 -2.9l1.2 -2.4l1.3 .3l1.2 2.2l1.2 1.7l1.2 .6l1.3 .8l1.2 3l1.2 4.9l1.3 1.9l1.2 .2l1.2 3.9l1.2 5.1l1.3 5.5l1.2 6.7l1.2 4.5l1.2 4.2l1.3 8.3l1.2 7.6l1.2 4.7l1.3 7l1.2 6l1.2 6.6l1.2 8.4l1.3 7.3l1.2 6.3l1.2 6.3l1.3 5.5l1.2 5.4l1.2 7.5l1.2 4.8l1.3 4.5l1.2 7.7l1.2 6.7l1.3 3.9l1.2 2.8l1.2 5.1l1.2 5.1l1.3 3.4l1.2 4.8l1.2 5.7l1.2 5.6l1.3 4.8l1.2 3l1.2 4.1l1.3 5.7l1.2 4.4l1.2 3.8l1.2 3.2l1.3 4.1l1.2 3.5l1.2 3.4l1.3 4.3l1.2 4.2l1.2 3.4l1.2 2.7l1.3 3.1l1.2 3.7l1.2 3.3l1.3 3.4l1.2 3.5l1.2 1.3l1.2 2.6l1.3 4l1.2 2.1l1.2 2.3l1.2 1.9l1.3 2.4l1.2 3.1l1.2 2.5l1.3 2.2l1.2 2.1l1.2 1.7l1.2 2.4l1.3 2.9l1.2 1.5l1.2 2.6l1.3 2.3l1.2 1.6l1.2 2.1l1.2 1.3l1.3 2l1.2 2.1l1.2 1l1.3 1.1l1.2 1.2l1.2 1.2l1.2 1.1l1.3 1.6l1.2 2l1.2 1.2l1.2 1.3l1.3 1.5l1.2 1.1l1.2 .7l1.3 .5l1.2 1.1l1.2 1.8l1.2 1.1l1.3 .5l1.2 1.4l1.2 1.2l1.3 .8l1.2 1.1l1.2 .6l1.2 .7l1.3 1l1.2 .9l1.2 .9l1.3 .8l1.2 .5l1.2 .8l1.2 1.1l1.3 .8l1.2 .3l1.2 .3l1.2 .5l1.3 .7l1.2 .4l1.2 1l1.3 .7l1.2 .7l1.2 .5l1.2 .2l1.3 1.2l1.2 .6l1.2 .1l1.3 .9l1.2 .7l1.2 .1l1.2 .3l1.3 .7l1.2 .5l1.2 .5l1.3 .9l1.2 -.1l1.2 .1l1.2 .7l1.3 .2l1.2 .2l1.2 .6l1.2 .5l1.3 .8l1.2 .3l1.2 -.3l1.3 .3l1.2 .4l1.2 .3l1.2 .2l1.3 .8l1.2 .5l1.2 -.1l1.3 .3l1.2 0l1.2 .1l1.2 .2l1.3 .2l1.2 .6l1.2 .4l1.3 .5l1.2 .2l1.2 .1l1.2 .1l1.3 -.1l1.2 .4l1.2 .4l1.2 .1l1.3 .2l1.2 .5l1.2 .1l1.3 .1l1.2 .2l1.2 .2l1.2 .4l1.3 -.3l1.2 -.1l1.2 .4l1.3 .3l1.2 .3l1.2 .2l1.2 -.2l1.3 0l1.2 .5l1.2 .3l1.3 .1l1.2 0l1.2 .2l1.2 .3l1.3 -.1l1.2 0l1.2 .3l1.2 -.1l1.3 .3l1.2 .7l1.2 .3l1.3 0l1.2 -.1l1.2 -.1l1.2 .4l1.3 .5l1.2 0l1.2 -.1l1.3 .4l1.2 .1l1.2 -.2l1.2 .1l1.3 -.1l1.2 0l1.2 .6l1.3 .2l1.2 .2l1.2 -.2l1.2 -.1l1.3 .5l1.2 -.1l1.2 .2l1.2 .3l1.3 0l1.2 -.1l1.2 -.1l1.3 .5l1.2 .5l1.2 -.2l1.2 -.1l1.3 .2l1.2 -.1l1.2 0l1.3 .3l1.2 .1l1.2 .1l1.2 .3l1.3 -.3l1.2 0l1.2 .3l1.3 .1l1.2 .2l1.2 .2l1.2 .3l1.3 -.3l1.2 -.4l1.2 .1l1.2 .3l1.3 .3l1.2 .1l1.2 -.2l1.3 -.3l1.2 .2l1.2 .4l1.2 0l1.3 .1l1.2 .3l1.2 .2l1.3 0l1.2 0l1.2 .4l1.2 .3l1.3 -.4l1.2 -.4l1.2 .1l1.3 .2l1.2 .3l1.2 .1l1.2 -.1l1.3 .1l1.2 -.1l1.2 .1l1.2 .6l1.3 -.1l1.2 -.5l1.2 .2l1.3 .1l1.2 -.2l1.2 .6l1.2 .2l1.3 -.2l1.2 .1l1.2 -.2l1.3 0l1.2 .2l1.2 .2l1.2 0l1.3 -.4l1.2 0l1.2 .6l1.3 .1l1.2 -.1l1.2 -.1l1.2 0l1.3 .2l1.2 .1l1.2 .1l1.2 0l1.3 .1l1.2 .2l1.2 -.2l1.3 .2l1.2 .3l1.2 -.1l1.2 -.3l1.3 -.2l1.2 .2l1.2 .1l1.3 -.1l1.2 .3l1.2 .3l1.2 -.2l1.3 -.1l1.2 .2l1.2 .1l1.3 .2l1.2 0l1.2 -.1l1.2 -.2l1.3 0l1.2 .1l1.2 .1l1.2 .1l1.3 -.1l1.2 .2l1.2 .1l1.3 -.1l1.2 0l1.2 .1l1.2 .1l1.3 0l1.2 0" stroke="#ff0000" stroke-width="3.0" fill="none" stroke-linejoin="round"/>
<path d="M170.2 662.3l1.2 .1l1.3 .2l1.2 -.2l1.2 -.4l1.2 .3l1.3 .5l1.2 -.1l1.2 -.2l1.3 .2l1.2 .2l1.2 -.5l1.2 -.1l1.3 .3l1.2 -.4l1.2 -.4l1.2 -.1l1.3 .3l1.2 .3l1.2 .1l1.3 .2l1.2 .4l1.2 -.3l1.2 -.3l1.3 -.1l1.2 -.4l1.2 .4l1.3 .5l1.2 -.4l1.2 -.5l1.2 -.3l1.3 .4l1.2 .3l1.2 -.4l1.3 .1l1.2 .5l1.2 -.4l1.2 -.1l1.3 .5l1.2 -.4l1.2 -.2l1.2 .4l1.3 -.2l1.2 -.4l1.2 -.1l1.3 .3l1.2 .1l1.2 -.1l1.2 0l1.3 .5l1.2 -.1l1.2 0l1.3 .2l1.2 -.3l1.2 -.2l1.2 0l1.3 0l1.2 -.1l1.2 -.4l1.3 .4l1.2 .1l1.2 -.6l1.2 .3l1.3 .4l1.2 -.1l1.2 -.2l1.2 .1l1.3 .2l1.2 -.2l1.2 -.1l1.3 -.3l1.2 .1l1.2 .1l1.2 -.3l1.3 .1l1.2 .1l1.2 .1l1.3 .2l1.2 -.3l1.2 -.2l1.2 .1l1.3 -.2l1.2 -.1l1.2 .2l1.3 0l1.2 -.2l1.2 -.2l1.2 .1l1.3 .4l1.2 -.3l1.2 -.1l1.2 .3l1.3 -.1l1.2 .4l1.2 .4l1.3 -.4l1.2 -.7l1.2 0l1.2 .2l1.3 .2l1.2 -.2l1.2 -.2l1.3 .2l1.2 0l1.2 -.3l1.2 .1l1.3 -.3l1.2 0l1.2 -.2l1.3 -.6l1.2 .5l1.2 -.2l1.2 -.4l1.3 .1l1.2 .1l1.2 .4l1.2 .5l1.3 -.3l1.2 -.5l1.2 .1l1.3 -.5l1.2 -.3l1.2 .7l1.2 .1l1.3 -.5l1.2 .2l1.2 0l1.3 -.3l1.2 .3l1.2 -.3l1.2 -.6l1.3 .6l1.2 -.1l1.2 -.5l1.3 0l1.2 .2l1.2 0l1.2 -.9l1.3 -.4l1.2 .3l1.2 0l1.2 0l1.3 -.1l1.2 -.1l1.2 -.2l1.3 -.1l1.2 -.1l1.2 -.5l1.2 0l1.3 0l1.2 -.3l1.2 .1l1.3 .2l1.2 -.4l1.2 -.5l1.2 .2l1.3 -.4l1.2 0l1.2 .3l1.3 -.2l1.2 0l1.2 -.2l1.2 -.2l1.3 -.5l1.2 -.1l1.2 -.1l1.2 -.1l1.3 .2l1.2 -.3l1.2 0l1.3 -.3l1.2 -.2l1.2 .1l1.2 -.4l1.3 -.1l1.2 -.1l1.2 -.5l1.3 -.1l1.2 -.2l1.2 .2l1.2 0l1.3 -.1l1.2 .6l1.2 -.2l1.3 -1l1.2 .2l1.2 -.1l1.2 0l1.3 .1l1.2 -.5l1.2 .2l1.2 .6l1.3 -.4l1.2 -.8l1.2 -.1l1.3 -.1l1.2 .3l1.2 -.3l1.2 -.5l1.3 .7l1.2 -.4l1.2 -.2l1.3 .3l1.2 -.2l1.2 .3l1.2 .4l1.3 -.3l1.2 .1l1.2 -.1l1.3 -.7l1.2 .2l1.2 .3l1.2 -.2l1.3 -.2l1.2 .1l1.2 .4l1.2 -.3l1.3 -.8l1.2 .1l1.2 .9l1.3 0l1.2 -.7l1.2 -.5l1.2 .1l1.3 .1l1.2 .3l1.2 -.1l1.3 -.4l1.2 .2l1.2 -.4l1.2 -.5l1.3 .3l1.2 .1l1.2 .2l1.3 .3l1.2 -1l1.2 -.1l1.2 .5l1.3 -.7l1.2 .1l1.2 .2l1.2 -1l1.3 -.3l1.2 .2l1.2 -.1l1.3 -.5l1.2 -.3l1.2 -.2l1.2 -.5l1.3 -.2l1.2 -.6l1.2 -.1l1.3 .4l1.2 -.4l1.2 -.5l1.2 -.2l1.3 .3l1.2 -.5l1.2 -.2l1.3 .5l1.2 -1l1.2 -1.3l1.2 .1l1.3 .5l1.2 -.8l1.2 -.1l1.2 .2l1.3 -.5l1.2 -.4l1.2 -.5l1.3 .1l1.2 -.4l1.2 -.8l1.2 .1l1.3 0l1.2 -.2l1.2 0l1.3 -.2l1.2 -.6l1.2 -.5l1.2 -.2l1.3 0l1.2 -.4l1.2 -.7l1.3 -.4l1.2 .1l1.2 0l1.2 -.7l1.3 -.4l1.2 .5l1.2 -.3l1.2 -.1l1.3 -.1l1.2 -1.1l1.2 -.4l1.3 0l1.2 -.6l1.2 -.8l1.2 .3l1.3 .5l1.2 -.4l1.2 -.3l1.3 -.7l1.2 -1l1.2 -.2l1.2 .3l1.3 .1l1.2 -.7l1.2 -.6l1.3 -.6l1.2 -.2l1.2 0l1.2 -.7l1.3 -1l1.2 -.8l1.2 -.2l1.2 -.2l1.3 -.5l1.2 .4l1.2 -.2l1.3 -.8l1.2 -.4l1.2 -.6l1.2 -.1l1.3 .4l1.2 -.8l1.2 -.7l1.3 .8l1.2 .3l1.2 -.2l1.2 .4l1.3 -.6l1.2 -1.2l1.2 .4l1.3 -.6l1.2 -.4l1.2 .2l1.2 .3l1.3 0l1.2 .1l1.2 .5l1.2 -.7l1.3 -.3l1.2 .5l1.2 -.3l1.3 .1l1.2 -.8l1.2 -.5l1.2 .9l1.3 -1.1l1.2 .1l1.2 1.4l1.3 -.6l1.2 -.8l1.2 -.5l1.2 -.1l1.3 1l1.2 -.2l1.2 -3l1.3 -4.1l1.2 .2l1.2 4.9l1.2 3l1.3 1.1l1.2 .4l1.2 .5l1.2 .2l1.3 .9l1.2 .3l1.2 -.4l1.3 .8l1.2 1.2l1.2 -.4l1.2 -.5l1.3 .3l1.2 -.2l1.2 .9l1.3 1.5l1.2 .4l1.2 .3l1.2 .4l1.3 0l1.2 .5l1.2 .5l1.3 .5l1.2 .5l1.2 .9l1.2 -.1l1.3 .3l1.2 1.1l1.2 .4l1.2 .4l1.3 .3l1.2 .9l1.2 -.2l1.3 -.4l1.2 1l1.2 .5l1.2 0l1.3 .1l1.2 .5l1.2 .2l1.3 1.2l1.2 .3l1.2 -.5l1.2 .7l1.3 .5l1.2 0l1.2 .5l1.3 .2l1.2 -.1l1.2 .1l1.2 .6l1.3 .3l1.2 -.1l1.2 .7l1.2 -.3l1.3 -.4l1.2 .8l1.2 .7l1.3 -.5l1.2 .1l1.2 .8l1.2 .5l1.3 .3l1.2 -.2l1.2 -.3l1.3 .5l1.2 .7l1.2 .4l1.2 .4l1.3 -.2l1.2 -.3l1.2 .1l1.3 -.5l1.2 .2l1.2 .9l1.2 .6l1.3 .5l1.2 .6l1.2 -.6l1.2 -.4l1.3 1.1l1.2 .1l1.2 .4l1.3 .5l1.2 -.4l1.2 .3l1.2 .4l1.3 -.2l1.2 .2l1.2 .1l1.3 .6l1.2 .6l1.2 -.7l1.2 .3l1.3 .9l1.2 -.1l1.2 .1l1.3 .1l1.2 -.2l1.2 .1l1.2 .4l1.3 .4l1.2 .2l1.2 -.2l1.2 .5l1.3 .5l1.2 .2l1.2 0l1.3 -.1l1.2 .3l1.2 .4l1.2 .3l1.3 -.3l1.2 .1l1.2 .1l1.3 .2l1.2 .5l1.2 -.2l1.2 .2l1.3 0l1.2 .5l1.2 .4l1.3 -.2l1.2 .2l1.2 0l1.2 .5l1.3 -.3l1.2 -.2l1.2 .1l1.2 -.2l1.3 .7l1.2 .7l1.2 -.2l1.3 -.4l1.2 .2l1.2 .7l1.2 .8l1.3 -.2l1.2 -.4l1.2 -.1l1.3 0l1.2 .5l1.2 .6l1.2 -.2l1.3 0l1.2 .3l1.2 -.5l1.3 .2l1.2 .4l1.2 0l1.2 .2l1.3 .1l1.2 0l1.2 .2l1.2 -.2l1.3 0l1.2 .6l1.2 0l1.3 -.2l1.2 .5l1.2 .3l1.2 -.1l1.3 -.1l1.2 .4l1.2 .2l1.3 -.3l1.2 -.1l1.2 .4l1.2 -.6l1.3 -.1l1.2 .4l1.2 .1l1.3 .2l1.2 .3l1.2 -.1l1.2 -.2l1.3 .3l1.2 .1l1.2 -.5l1.2 0l1.3 .4l1.2 .2l1.2 .2l1.3 -.2l1.2 -.3l1.2 .1l1.2 .1l1.3 .2l1.2 .3l1.2 -.2l1.3 -.3l1.2 .2l1.2 .1l1.2 .2l1.3 0l1.2 -.5l1.2 .4l1.3 .2l1.2 -.2l1.2 .3l1.2 .2l1.3 0l1.2 -.1l1.2 -.3l1.2 .3l1.3 .4l1.2 -.3l1.2 0l1.3 .2l1.2 -.2l1.2 0l1.2 0l1.3 0l1.2 .3l1.2 .1l1.3 .5l1.2 -.1l1.2 0l1.2 -.2l1.3 -.5l1.2 .1l1.2 0l1.3 -.3l1.2 .5l1.2 .5l1.2 -.5l1.3 .1l1.2 .2l1.2 -.2l1.2 -.1l1.3 .5l1.2 -.2l1.2 -.1l1.3 .3l1.2 -.3l1.2 .4l1.2 -.2l1.3 -.4l1.2 .3l1.2 0l1.3 .1l1.2 .1l1.2 -.2l1.2 .6l1.3 .4l1.2 -.6l1.2 0l1.3 .1l1.2 -.1l1.2 0l1.2 .3l1.3 .1l1.2 -.3l1.2 0l1.2 0l1.3 .1l1.2 -.1l1.2 0l1.3 .2l1.2 -.2l1.2 -.1l1.2 .5l1.3 -.1l1.2 .1" stroke="#0000ff" stroke-width="3.0" fill="none" stroke-linejoin="round"/>
<path d="M170.2 664.3l1.2 0l1.3 -.1l1.2 .1l1.2 .1l1.2 .1l1.3 -.1l1.2 .1l1.2 .1l1.3 -.7l1.2 -.2l1.2 .3l1.2 -.1l1.3 .1l1.2 0l1.2 -.1l1.2 0l1.3 .1l1.2 .3l1.2 -.1l1.3 -.2l1.2 .1l1.2 -.1l1.2 0l1.3 0l1.2 -.1l1.2 .1l1.3 .6l1.2 -.1l1.2 0l1.2 0l1.3 -.7l1.2 -.3l1.2 .4l1.3 .3l1.2 0l1.2 0l1.2 -.5l1.3 .2l1.2 -.1l1.2 -.1l1.2 -.3l1.3 .2l1.2 .6l1.2 -.3l1.3 -.4l1.2 .2l1.2 .3l1.2 0l1.3 0l1.2 -.3l1.2 -.2l1.3 .4l1.2 .3l1.2 .1l1.2 -.1l1.3 -.2l1.2 -.2l1.2 -.2l1.3 .1l1.2 0l1.2 .3l1.2 .2l1.3 -.5l1.2 .1l1.2 0l1.2 -.3l1.3 .2l1.2 0l1.2 -.3l1.3 .2l1.2 0l1.2 -.2l1.2 .5l1.3 -.2l1.2 -.4l1.2 .1l1.3 0l1.2 -.1l1.2 0l1.2 0l1.3 -.1l1.2 -.2l1.2 .1l1.3 .5l1.2 .2l1.2 -.3l1.2 -.5l1.3 -.1l1.2 -.2l1.2 0l1.2 .2l1.3 .1l1.2 -.1l1.2 .1l1.3 .2l1.2 -.3l1.2 .1l1.2 -.2l1.3 -.2l1.2 0l1.2 .2l1.3 .3l1.2 .1l1.2 .2l1.2 0l1.3 -.6l1.2 -.6l1.2 .3l1.3 -.1l1.2 -.6l1.2 0l1.2 0l1.3 .2l1.2 .4l1.2 -.2l1.2 -.3l1.3 -.1l1.2 .1l1.2 -.1l1.3 .2l1.2 -.1l1.2 .2l1.2 -.2l1.3 -.7l1.2 -.2l1.2 .4l1.3 .5l1.2 -.1l1.2 .1l1.2 .1l1.3 -.5l1.2 -.5l1.2 .1l1.3 .2l1.2 -.2l1.2 -.8l1.2 -.1l1.3 .1l1.2 .2l1.2 -.2l1.2 -.3l1.3 .1l1.2 -.2l1.2 -.1l1.3 -.1l1.2 -.2l1.2 .1l1.2 .1l1.3 .1l1.2 -.6l1.2 -.5l1.3 0l1.2 .2l1.2 0l1.2 -.2l1.3 -.5l1.2 -.1l1.2 .3l1.3 -.3l1.2 -.4l1.2 .5l1.2 .1l1.3 -.7l1.2 -.3l1.2 .1l1.2 -.1l1.3 .1l1.2 .3l1.2 -.4l1.3 -.4l1.2 -.5l1.2 -.1l1.2 .2l1.3 -.5l1.2 .1l1.2 .3l1.3 -.2l1.2 -.2l1.2 -.1l1.2 -.2l1.3 .3l1.2 .3l1.2 -.3l1.3 0l1.2 -.5l1.2 -.3l1.2 .4l1.3 -.4l1.2 -.3l1.2 0l1.2 0l1.3 .3l1.2 0l1.2 -.3l1.3 .3l1.2 -.1l1.2 -.6l1.2 .1l1.3 .3l1.2 0l1.2 -.4l1.3 .2l1.2 .1l1.2 -.6l1.2 .1l1.3 .2l1.2 0l1.2 -.7l1.3 -.2l1.2 .5l1.2 -.1l1.2 .1l1.3 -.1l1.2 -.3l1.2 -.4l1.2 -.6l1.3 .4l1.2 .4l1.2 .2l1.3 -.1l1.2 -.3l1.2 .4l1.2 .5l1.3 -.6l1.2 -.2l1.2 0l1.3 -.2l1.2 -.1l1.2 0l1.2 -.2l1.3 -.5l1.2 -.3l1.2 .3l1.3 .3l1.2 -.2l1.2 .3l1.2 .3l1.3 -.5l1.2 -.7l1.2 -.4l1.2 0l1.3 -.1l1.2 -.4l1.2 .1l1.3 -.5l1.2 .1l1.2 .6l1.2 -1.1l1.3 -.9l1.2 .1l1.2 -.2l1.3 .2l1.2 .1l1.2 .1l1.2 -.6l1.3 -.4l1.2 -.1l1.2 -.6l1.3 -.3l1.2 -.1l1.2 -.7l1.2 -.3l1.3 .2l1.2 -.1l1.2 -.6l1.2 -.6l1.3 .3l1.2 .1l1.2 -.4l1.3 0l1.2 0l1.2 -.9l1.2 -.6l1.3 .9l1.2 -.4l1.2 -1.4l1.3 0l1.2 .3l1.2 -.2l1.2 -.6l1.3 0l1.2 -.1l1.2 .1l1.3 -.5l1.2 -.4l1.2 .3l1.2 -.7l1.3 -.7l1.2 .1l1.2 .2l1.2 -.9l1.3 -.3l1.2 .5l1.2 -.3l1.3 -.8l1.2 -.6l1.2 -.4l1.2 -.2l1.3 .2l1.2 -.3l1.2 -.7l1.3 .3l1.2 .1l1.2 -.7l1.2 -1l1.3 -.3l1.2 .2l1.2 -.5l1.3 -.4l1.2 -.6l1.2 .2l1.2 .8l1.3 -1l1.2 -.6l1.2 -.2l1.2 -1.2l1.3 -.5l1.2 .2l1.2 0l1.3 -.8l1.2 -.3l1.2 -.3l1.2 .4l1.3 .4l1.2 -.4l1.2 -.3l1.3 -.6l1.2 -.5l1.2 .1l1.2 -.5l1.3 -.3l1.2 .9l1.2 -.5l1.3 -.1l1.2 .8l1.2 -.4l1.2 -.4l1.3 -.2l1.2 -.3l1.2 .1l1.2 .2l1.3 -.6l1.2 -.5l1.2 .2l1.3 .3l1.2 -.2l1.2 0l1.2 .4l1.3 -.9l1.2 -.8l1.2 .4l1.3 -.4l1.2 -.1l1.2 .3l1.2 -.3l1.3 .1l1.2 .1l1.2 -2.8l1.3 -3.6l1.2 1.8l1.2 3.7l1.2 2.4l1.3 1.9l1.2 -.4l1.2 .5l1.2 .2l1.3 0l1.2 .5l1.2 .1l1.3 .2l1.2 -.1l1.2 1.1l1.2 .7l1.3 -.3l1.2 -.1l1.2 .3l1.3 .9l1.2 1.1l1.2 .9l1.2 .2l1.3 -.1l1.2 0l1.2 0l1.3 .4l1.2 .6l1.2 .9l1.2 .6l1.3 .1l1.2 .6l1.2 -.2l1.2 .2l1.3 .8l1.2 .4l1.2 .7l1.3 .9l1.2 -.7l1.2 -.1l1.2 .9l1.3 .3l1.2 .3l1.2 .4l1.3 .4l1.2 0l1.2 .1l1.2 0l1.3 -.3l1.2 .9l1.2 .4l1.3 .1l1.2 -.2l1.2 0l1.2 .6l1.3 .4l1.2 .1l1.2 .3l1.2 .9l1.3 .7l1.2 -.2l1.2 -.3l1.3 .1l1.2 .4l1.2 .2l1.2 0l1.3 .5l1.2 -.4l1.2 -.7l1.3 .7l1.2 .6l1.2 .1l1.2 .1l1.3 .6l1.2 .3l1.2 -.5l1.3 .3l1.2 .7l1.2 .3l1.2 .3l1.3 .4l1.2 .1l1.2 -.6l1.2 .1l1.3 .4l1.2 .3l1.2 .2l1.3 .5l1.2 .6l1.2 -.5l1.2 -.4l1.3 1.2l1.2 -.1l1.2 -.2l1.3 .3l1.2 .1l1.2 .6l1.2 -.1l1.3 .1l1.2 1l1.2 -.1l1.3 -.4l1.2 .3l1.2 .3l1.2 0l1.3 -.3l1.2 .1l1.2 .4l1.2 .4l1.3 .4l1.2 -.3l1.2 .5l1.3 .7l1.2 -.2l1.2 -.1l1.2 0l1.3 .3l1.2 -.3l1.2 -.2l1.3 1l1.2 .6l1.2 0l1.2 -.4l1.3 0l1.2 .8l1.2 .1l1.3 .1l1.2 0l1.2 -.3l1.2 .4l1.3 .2l1.2 -.1l1.2 .3l1.2 .1l1.3 .1l1.2 .1l1.2 0l1.3 .3l1.2 -.2l1.2 -.2l1.2 .5l1.3 1l1.2 0l1.2 -.4l1.3 .1l1.2 0l1.2 .2l1.2 .2l1.3 -.2l1.2 -.3l1.2 .1l1.3 .6l1.2 .5l1.2 -.2l1.2 .5l1.3 -.1l1.2 -.1l1.2 .1l1.2 0l1.3 .2l1.2 .3l1.2 .7l1.3 -.1l1.2 -.1l1.2 .2l1.2 -.1l1.3 -.2l1.2 -.2l1.2 .3l1.3 .5l1.2 -.1l1.2 -.1l1.2 .3l1.3 -.1l1.2 -.4l1.2 -.1l1.3 .6l1.2 -.2l1.2 -.2l1.2 .4l1.3 0l1.2 -.2l1.2 -.2l1.2 0l1.3 .1l1.2 .3l1.2 -.2l1.3 .4l1.2 .5l1.2 0l1.2 -.2l1.3 -.1l1.2 .1l1.2 -.2l1.3 -.2l1.2 .3l1.2 .4l1.2 -.5l1.3 -.3l1.2 .5l1.2 .1l1.3 -.1l1.2 .1l1.2 0l1.2 -.1l1.3 .2l1.2 -.1l1.2 0l1.2 0l1.3 -.1l1.2 .3l1.2 -.1l1.3 0l1.2 .2l1.2 -.3l1.2 .2l1.3 .4l1.2 -.2l1.2 -.3l1.3 .6l1.2 .1l1.2 -.6l1.2 .2l1.3 .1l1.2 0l1.2 .3l1.3 0l1.2 -.2l1.2 0l1.2 .3l1.3 -.1l1.2 -.2l1.2 .4l1.2 0l1.3 -.6l1.2 .4l1.2 .3l1.3 -.3l1.2 0l1.2 -.2l1.2 0l1.3 .5l1.2 .1l1.2 -.1l1.3 0l1.2 .2l1.2 0l1.2 -.4l1.3 -.2l1.2 .6l1.2 0l1.3 .3l1.2 .1l1.2 -.6l1.2 0l1.3 0l1.2 .1l1.2 .2l1.2 .1l1.3 0l1.2 .2l1.2 0l1.3 -.1l1.2 -.1l1.2 -.6l1.2 -.2l1.3 -.1l1.2 .5" stroke="#0000ff" stroke-width="3.0" fill="none" stroke-linejoin="round"/>
<path d="M170.2 662.7l1.2 .2l1.3 .4l1.2 -.1l1.2 -.1l1.2 .5l1.3 -.2l1.2 -.5l1.2 .4l1.3 0l1.2 -.2l1.2 .2l1.2 -.2l1.3 0l1.2 .3l1.2 -.3l1.2 .3l1.3 0l1.2 -.2l1.2 -.1l1.3 0l1.2 0l1.2 .1l1.2 -.1l1.3 -.4l1.2 .4l1.2 .1l1.3 -.3l1.2 0l1.2 .1l1.2 -.1l1.3 .3l1.2 -.3l1.2 -.2l1.3 .3l1.2 -.1l1.2 .1l1.2 -.3l1.3 -.1l1.2 .4l1.2 0l1.2 0l1.3 .3l1.2 -.3l1.2 -.1l1.3 0l1.2 -.2l1.2 .1l1.2 0l1.3 .2l1.2 -.5l1.2 .1l1.3 .6l1.2 -.2l1.2 -.4l1.2 .3l1.3 .4l1.2 -.5l1.2 -.3l1.3 .1l1.2 .2l1.2 .1l1.2 .1l1.3 -.1l1.2 -.2l1.2 0l1.2 .1l1.3 -.1l1.2 -.1l1.2 .2l1.3 -.3l1.2 -.2l1.2 .3l1.2 .1l1.3 -.4l1.2 -.1l1.2 .2l1.3 .2l1.2 .1l1.2 -.1l1.2 .1l1.3 .1l1.2 -.2l1.2 .1l1.3 -.2l1.2 -.5l1.2 .3l1.2 0l1.3 0l1.2 0l1.2 -.3l1.2 .4l1.3 .5l1.2 -.4l1.2 -.6l1.3 .1l1.2 .1l1.2 .1l1.2 .4l1.3 -.4l1.2 -.1l1.2 .2l1.3 -.5l1.2 0l1.2 .1l1.2 .2l1.3 -.3l1.2 0l1.2 0l1.3 0l1.2 -.1l1.2 -.4l1.2 0l1.3 0l1.2 .2l1.2 .1l1.2 -.2l1.3 -.4l1.2 0l1.2 .2l1.3 -.4l1.2 -.1l1.2 .1l1.2 .2l1.3 -.1l1.2 -.3l1.2 0l1.3 -.2l1.2 .4l1.2 -.2l1.2 -.4l1.3 -.1l1.2 -.1l1.2 .1l1.3 .1l1.2 .2l1.2 -.6l1.2 -.2l1.3 .1l1.2 -.3l1.2 .2l1.2 -.1l1.3 -.3l1.2 -.3l1.2 -.1l1.3 .2l1.2 -.5l1.2 -.6l1.2 .2l1.3 .4l1.2 -.2l1.2 -.3l1.3 -.3l1.2 -.2l1.2 .3l1.2 0l1.3 -.1l1.2 -.1l1.2 -.1l1.3 -.1l1.2 -.6l1.2 -.2l1.2 .3l1.3 -.1l1.2 -.3l1.2 .3l1.2 -.2l1.3 -.6l1.2 -.2l1.2 .1l1.3 .1l1.2 -.2l1.2 -.4l1.2 -.2l1.3 -.2l1.2 -.3l1.2 0l1.3 .2l1.2 0l1.2 -.2l1.2 -.1l1.3 -.1l1.2 -.6l1.2 .3l1.3 .4l1.2 -.3l1.2 -.1l1.2 -.3l1.3 -.3l1.2 0l1.2 .4l1.2 -.2l1.3 -.3l1.2 .5l1.2 -.5l1.3 -.3l1.2 0l1.2 -.5l1.2 0l1.3 .2l1.2 .4l1.2 .2l1.3 -.5l1.2 -.1l1.2 .1l1.2 0l1.3 .1l1.2 -.3l1.2 0l1.3 .3l1.2 -.2l1.2 -.2l1.2 -.1l1.3 .3l1.2 0l1.2 -.2l1.2 -.6l1.3 -.4l1.2 .5l1.2 .1l1.3 0l1.2 -.5l1.2 0l1.2 .5l1.3 -1l1.2 -.1l1.2 1l1.3 0l1.2 -.3l1.2 -.2l1.2 .2l1.3 -.5l1.2 -.6l1.2 0l1.3 .5l1.2 -.1l1.2 -.2l1.2 -.1l1.3 -.3l1.2 .1l1.2 -.4l1.2 -.5l1.3 0l1.2 .1l1.2 -.5l1.3 -.3l1.2 0l1.2 -.2l1.2 .1l1.3 -.1l1.2 -.2l1.2 -.4l1.3 -1l1.2 -.6l1.2 .4l1.2 .2l1.3 -.8l1.2 -.7l1.2 .2l1.3 .1l1.2 -.1l1.2 .3l1.2 -.2l1.3 -1.5l1.2 -.8l1.2 .4l1.2 0l1.3 -.5l1.2 .2l1.2 .2l1.3 -.3l1.2 -.5l1.2 -.8l1.2 -.3l1.3 .1l1.2 -.1l1.2 -.6l1.3 -.8l1.2 0l1.2 .3l1.2 -.2l1.3 -.5l1.2 -.5l1.2 -.4l1.3 .3l1.2 .1l1.2 -.4l1.2 -.5l1.3 0l1.2 .5l1.2 -.7l1.2 -.6l1.3 -.1l1.2 -.4l1.2 -.2l1.3 -.3l1.2 -.2l1.2 .1l1.2 -.8l1.3 -.6l1.2 -.5l1.2 -.5l1.3 .3l1.2 0l1.2 -.3l1.2 -.5l1.3 -.8l1.2 -.4l1.2 -.3l1.3 0l1.2 -.7l1.2 -.9l1.2 -.3l1.3 .2l1.2 .1l1.2 -.5l1.2 -1l1.3 -.6l1.2 -.6l1.2 -.4l1.3 .9l1.2 -.5l1.2 -1l1.2 .3l1.3 .7l1.2 -.2l1.2 0l1.3 .2l1.2 .2l1.2 -.4l1.2 -.5l1.3 -.4l1.2 -.7l1.2 -.5l1.3 -.2l1.2 .3l1.2 -.5l1.2 .1l1.3 1.1l1.2 .1l1.2 -.7l1.2 -.8l1.3 -.6l1.2 .4l1.2 -.1l1.3 -.6l1.2 0l1.2 .4l1.2 .2l1.3 .4l1.2 -.3l1.2 -.7l1.3 -.3l1.2 -.6l1.2 .6l1.2 0l1.3 -.8l1.2 .4l1.2 -2.8l1.3 -3.2l1.2 1.7l1.2 3.5l1.2 1.3l1.3 1.2l1.2 1.8l1.2 .8l1.2 -.5l1.3 .4l1.2 .8l1.2 .4l1.3 -.5l1.2 -.6l1.2 1.4l1.2 1.5l1.3 -.4l1.2 -.4l1.2 .6l1.3 .6l1.2 .5l1.2 .2l1.2 .1l1.3 .3l1.2 .4l1.2 1l1.3 .9l1.2 .3l1.2 .2l1.2 .6l1.3 .7l1.2 .2l1.2 .3l1.2 .4l1.3 -.3l1.2 0l1.2 1l1.3 .7l1.2 .3l1.2 .7l1.2 .1l1.3 .7l1.2 .3l1.2 -.2l1.3 .7l1.2 0l1.2 -.4l1.2 .3l1.3 .4l1.2 .6l1.2 .2l1.3 -.4l1.2 .7l1.2 0l1.2 .4l1.3 .6l1.2 -.1l1.2 .4l1.2 .1l1.3 .2l1.2 0l1.2 .3l1.3 .4l1.2 -.2l1.2 .3l1.2 1.1l1.3 .3l1.2 -.2l1.2 .3l1.3 -.1l1.2 -.1l1.2 .6l1.2 .3l1.3 .4l1.2 .2l1.2 -.7l1.3 .5l1.2 .2l1.2 -.3l1.2 .8l1.3 .3l1.2 .4l1.2 -.1l1.2 0l1.3 .5l1.2 .2l1.2 -.4l1.3 .3l1.2 .6l1.2 -.2l1.2 .4l1.3 .3l1.2 -.6l1.2 .4l1.3 1.2l1.2 -.1l1.2 -.1l1.2 .1l1.3 0l1.2 .4l1.2 .5l1.3 0l1.2 -.2l1.2 .3l1.2 .2l1.3 .2l1.2 .2l1.2 .3l1.2 .6l1.3 .3l1.2 -.2l1.2 -.2l1.3 -.2l1.2 .6l1.2 .6l1.2 0l1.3 0l1.2 -.1l1.2 .1l1.3 .4l1.2 .3l1.2 -.5l1.2 .4l1.3 .2l1.2 -.2l1.2 .2l1.3 .3l1.2 .4l1.2 0l1.2 .1l1.3 .3l1.2 .2l1.2 0l1.2 .1l1.3 .3l1.2 0l1.2 0l1.3 .5l1.2 .2l1.2 -.4l1.2 0l1.3 .1l1.2 .6l1.2 .3l1.3 .2l1.2 .1l1.2 -.2l1.2 .3l1.3 -.1l1.2 .2l1.2 .4l1.3 0l1.2 -.2l1.2 -.3l1.2 .5l1.3 .5l1.2 0l1.2 .1l1.2 .4l1.3 -.2l1.2 -.1l1.2 -.1l1.3 .1l1.2 .2l1.2 -.4l1.2 .5l1.3 .3l1.2 .5l1.2 0l1.3 -.5l1.2 .3l1.2 -.2l1.2 .3l1.3 .2l1.2 -.4l1.2 .1l1.3 .3l1.2 0l1.2 -.1l1.2 .1l1.3 -.3l1.2 .3l1.2 .7l1.2 -.2l1.3 -.5l1.2 .1l1.2 .2l1.3 .2l1.2 -.1l1.2 -.3l1.2 .2l1.3 -.1l1.2 0l1.2 .1l1.3 .1l1.2 .1l1.2 -.2l1.2 -.1l1.3 0l1.2 0l1.2 .2l1.3 .1l1.2 0l1.2 0l1.2 0l1.3 .1l1.2 .2l1.2 -.1l1.2 .3l1.3 -.1l1.2 -.3l1.2 .6l1.3 .1l1.2 -.2l1.2 .3l1.2 -.2l1.3 0l1.2 .1l1.2 0l1.3 .3l1.2 -.4l1.2 -.1l1.2 .6l1.3 -.1l1.2 -.5l1.2 .3l1.3 .1l1.2 -.1l1.2 .2l1.2 -.1l1.3 -.1l1.2 .1l1.2 -.1l1.2 -.1l1.3 .7l1.2 -.1l1.2 -.4l1.3 -.1l1.2 0l1.2 .2l1.2 0l1.3 -.2l1.2 .4l1.2 .3l1.3 0l1.2 0l1.2 -.2l1.2 .1l1.3 .1l1.2 -.2l1.2 -.2l1.3 -.1l1.2 .8l1.2 .4l1.2 -.5l1.3 0l1.2 .1l1.2 .1l1.2 -.3l1.3 -.4l1.2 .4l1.2 .1l1.3 .2l1.2 .1l1.2 -.7l1.2 0l1.3 .4l1.2 .4" stroke="#0000ff" stroke-width="3.0" fill="none" stroke-linejoin="round"/>
</g>
<clipPath id="cb"><rect x="173.2" y="950.0" width="767.1" height="566.0"/></clipPath>
<g clip-path="url(#cb)">
<path d="M173.2 1509.1l1.2 -.2l1.3 -.1l1.2 -.6l1.2 .1l1.2 .6l1.3 -.3l1.2 -.2l1.2 -.1l1.2 -.3l1.3 .1l1.2 .2l1.2 .4l1.3 -.1l1.2 -.4l1.2 .1l1.2 -.1l1.3 0l1.2 .4l1.2 .1l1.2 -.1l1.3 -.3l1.2 -.2l1.2 .2l1.3 0l1.2 0l1.2 .1l1.2 0l1.3 -.1l1.2 0l1.2 -.2l1.3 -.1l1.2 -.2l1.2 -.1l1.2 .2l1.3 -.1l1.2 .1l1.2 .1l1.2 -.2l1.3 .2l1.2 .2l1.2 -.7l1.3 -.2l1.2 .3l1.2 -.1l1.2 .1l1.3 .1l1.2 0l1.2 -.3l1.2 -.4l1.3 .3l1.2 .3l1.2 -.2l1.3 .1l1.2 .1l1.2 -.5l1.2 -.2l1.3 -.3l1.2 .3l1.2 .4l1.2 -.3l1.3 -.1l1.2 0l1.2 0l1.3 .5l1.2 .1l1.2 0l1.2 -.2l1.3 -.6l1.2 -.1l1.2 .3l1.2 .4l1.3 -.1l1.2 -.3l1.2 .1l1.3 -.1l1.2 -.7l1.2 0l1.2 .5l1.3 .2l1.2 -.5l1.2 -.1l1.3 .4l1.2 -.1l1.2 -.5l1.2 0l1.3 0l1.2 0l1.2 -.3l1.2 -.2l1.3 .2l1.2 -.2l1.2 0l1.3 -.3l1.2 -.1l1.2 0l1.2 -.5l1.3 -.6l1.2 0l1.2 .4l1.2 0l1.3 .2l1.2 .1l1.2 -.1l1.3 -.4l1.2 -.3l1.2 .1l1.2 -.7l1.3 -.2l1.2 .3l1.2 -.2l1.2 0l1.3 -.1l1.2 .2l1.2 0l1.3 -.7l1.2 -.4l1.2 .1l1.2 0l1.3 -.4l1.2 .3l1.2 .4l1.2 -.2l1.3 -.4l1.2 -.3l1.2 -.3l1.3 .4l1.2 0l1.2 -.7l1.2 -.5l1.3 .4l1.2 0l1.2 -.5l1.2 0l1.3 -.3l1.2 -.5l1.2 -.5l1.3 -.4l1.2 -.5l1.2 .4l1.2 .6l1.3 -.4l1.2 -.6l1.2 -.3l1.3 -.2l1.2 -.1l1.2 -.6l1.2 -.5l1.3 .1l1.2 -.3l1.2 -.2l1.2 -.1l1.3 -.8l1.2 -.1l1.2 .3l1.3 -.4l1.2 -.6l1.2 -.7l1.2 -.4l1.3 .4l1.2 0l1.2 .1l1.2 -.4l1.3 -.8l1.2 -.2l1.2 -.2l1.3 -.7l1.2 -.2l1.2 .3l1.2 .2l1.3 -.6l1.2 -.2l1.2 .3l1.2 -.2l1.3 -.8l1.2 .3l1.2 -.1l1.3 -1l1.2 -.3l1.2 -.1l1.2 -.4l1.3 -.2l1.2 .7l1.2 .5l1.2 -.5l1.3 -.7l1.2 -.3l1.2 -.3l1.3 -.5l1.2 .9l1.2 .2l1.2 -.9l1.3 -.4l1.2 0l1.2 -.3l1.3 -.5l1.2 -.2l1.2 0l1.2 .2l1.3 .1l1.2 0l1.2 -.5l1.2 -.3l1.3 -.4l1.2 -.5l1.2 -.1l1.3 -.1l1.2 .2l1.2 -.1l1.2 -.5l1.3 -.1l1.2 -.7l1.2 -.7l1.2 .2l1.3 .1l1.2 -.6l1.2 -.5l1.3 -.8l1.2 -.2l1.2 .4l1.2 -.5l1.3 -.8l1.2 -.6l1.2 .2l1.2 .2l1.3 -.7l1.2 -.8l1.2 0l1.3 -.7l1.2 -1.7l1.2 -.7l1.2 -.1l1.3 0l1.2 -.3l1.2 -1.1l1.2 -.8l1.3 -.4l1.2 -.4l1.2 -1.2l1.3 -1.7l1.2 -.8l1.2 -1.6l1.2 -1.8l1.3 -2.3l1.2 -1.9l1.2 -1.2l1.3 -1.4l1.2 -2.1l1.2 -2.6l1.2 -2l1.3 -3.4l1.2 -3l1.2 -2.2l1.2 -2.3l1.3 -1.4l1.2 -2.6l1.2 -3.9l1.3 -2.4l1.2 -2.2l1.2 -3.6l1.2 -4l1.3 -3.4l1.2 -2.7l1.2 -3.5l1.2 -2.4l1.3 -2.9l1.2 -2.7l1.2 -3.9l1.3 -6.1l1.2 -5.6l1.2 -4.8l1.2 -4.9l1.3 -5.8l1.2 -6.2l1.2 -5.1l1.2 -1.3l1.3 -6.2l1.2 -7.4l1.2 1.1l1.3 -2.3l1.2 -3.9l1.2 -2.9l1.2 -2.7l1.3 -1.9l1.2 -3.9l1.2 -4l1.2 -4.8l1.3 -2.3l1.2 1.1l1.2 -3.1l1.3 -4.9l1.2 -5.3l1.2 -4.1l1.2 1.8l1.3 -3.9l1.2 -4.7l1.2 -2.2l1.2 -1.4l1.3 -1.3l1.2 -.7l1.2 -2.6l1.3 -3.7l1.2 -.8l1.2 -1.1l1.2 -3.4l1.3 -1.5l1.2 3.6l1.2 2.1l1.3 1.4l1.2 4.2l1.2 6.4l1.2 -.8l1.3 .9l1.2 4.4l1.2 .3l1.2 .7l1.3 6.8l1.2 2.4l1.2 -.1l1.3 4.1l1.2 .7l1.2 .3l1.2 1.6l1.3 3.9l1.2 5.4l1.2 -1.7l1.2 -.6l1.3 4l1.2 3.9l1.2 3l1.3 -.4l1.2 4.7l1.2 4.1l1.2 -2.4l1.3 2.3l1.2 1l1.2 -.4l1.2 4.3l1.3 1.3l1.2 -.5l1.2 1.5l1.3 1.5l1.2 5.4l1.2 5l1.2 1.3l1.3 2.8l1.2 3.7l1.2 .8l1.2 4l1.3 6.6l1.2 2.2l1.2 2.7l1.3 2.7l1.2 3l1.2 1.8l1.2 2.9l1.3 4.2l1.2 1l1.2 -1.3l1.3 -3.7l1.2 1.6l1.2 7.2l1.2 6.8l1.3 4.8l1.2 2.9l1.2 1.8l1.2 2l1.3 1.2l1.2 .1l1.2 1.4l1.3 1.5l1.2 1.4l1.2 1.7l1.2 1l1.3 1.2l1.2 1.6l1.2 .8l1.2 .4l1.3 .4l1.2 1l1.2 2.2l1.3 2.2l1.2 .9l1.2 1.2l1.2 1.8l1.3 1.6l1.2 -.3l1.2 -.7l1.2 2.3l1.3 1.5l1.2 .2l1.2 .2l1.3 .3l1.2 2.3l1.2 1.4l1.2 1.3l1.3 1.1l1.2 0l1.2 1l1.2 1.4l1.3 .8l1.2 -.8l1.2 .7l1.3 1.5l1.2 -.2l1.2 .2l1.2 1.2l1.3 .2l1.2 -.3l1.2 1.1l1.3 1l1.2 .7l1.2 .4l1.2 .3l1.3 .3l1.2 1.3l1.2 .6l1.2 -.2l1.3 .3l1.2 -.1l1.2 1.1l1.3 1l1.2 .6l1.2 .9l1.2 .3l1.3 -.3l1.2 .5l1.2 1.3l1.2 .2l1.3 .2l1.2 .3l1.2 -.4l1.3 0l1.2 .1l1.2 1l1.2 1.7l1.3 0l1.2 -.6l1.2 0l1.2 -.1l1.3 .7l1.2 .5l1.2 -.1l1.3 .5l1.2 1.4l1.2 -.1l1.2 -.6l1.3 .6l1.2 -.1l1.2 .1l1.2 1l1.3 .2l1.2 -.5l1.2 .8l1.3 .7l1.2 .4l1.2 .3l1.2 .1l1.3 .7l1.2 -.1l1.2 -.7l1.2 1.2l1.3 1.3l1.2 -.1l1.2 -.1l1.3 0l1.2 1l1.2 0l1.2 -.2l1.3 .6l1.2 .3l1.2 .1l1.3 .2l1.2 .8l1.2 .4l1.2 -.4l1.3 .7l1.2 -.7l1.2 -.5l1.2 1.2l1.3 .9l1.2 .3l1.2 0l1.3 0l1.2 .6l1.2 .7l1.2 -.6l1.3 .2l1.2 0l1.2 -.2l1.2 1.2l1.3 .4l1.2 -.7l1.2 -.2l1.3 1l1.2 -.1l1.2 -.3l1.2 .7l1.3 .7l1.2 .4l1.2 -.2l1.2 -.4l1.3 -.3l1.2 -.1l1.2 .3l1.3 1l1.2 .7l1.2 -.5l1.2 .1l1.3 .3l1.2 .2l1.2 .2l1.2 -.3l1.3 0l1.2 .9l1.2 .4l1.3 .1l1.2 .5l1.2 -.5l1.2 -.3l1.3 -.2l1.2 -.1l1.2 .7l1.3 .5l1.2 .4l1.2 -.2l1.2 .1l1.3 -.2l1.2 -.3l1.2 .3l1.2 .3l1.3 .5l1.2 -.2l1.2 0l1.3 .4l1.2 -.2l1.2 .1l1.2 .4l1.3 .4l1.2 -.4l1.2 -.7l1.2 .6l1.3 .2l1.2 -.6l1.2 -.1l1.3 .3l1.2 .7l1.2 .7l1.2 .1l1.3 -.4l1.2 -.5l1.2 -.1l1.2 .4l1.3 .3l1.2 .2l1.2 .6l1.3 .2l1.2 -.7l1.2 -.3l1.2 .3l1.3 .3l1.2 -.5l1.2 0l1.2 .7l1.3 .5l1.2 .2l1.2 -.4l1.3 .1l1.2 0l1.2 .1l1.2 -.5l1.3 0l1.2 .6l1.2 .2l1.3 .2l1.2 -.3l1.2 .1l1.2 .8l1.3 -.2l1.2 -.5l1.2 .7l1.2 .3l1.3 -.2l1.2 .1l1.2 .1l1.3 .2l1.2 .3l1.2 -.4l1.2 .2l1.3 .2l1.2 -.1l1.2 -.2l1.2 -.1l1.3 .4l1.2 .3l1.2 .2l1.3 .3l1.2 .1l1.2 .1l1.2 -.2l1.3 0l1.2 .5l1.2 .2l1.2 -.1l1.3 -.2l1.2 .2l1.2 .4l1.3 -.1l1.2 -.4l1.2 .4l1.2 .4l1.3 .3l1.2 -.6l1.2 -.1l1.2 .9l1.3 -.2l1.2 -.1l1.2 -.1l1.3 .2l1.2 .2l1.2 -.1l1.2 0l1.3 -.3l1.2 .2l1.2 .6l1.2 0" stroke="#c0c0c0" stroke-width="3.0" fill="none" stroke-linejoin="round"/>
<path d="M173.2 1509.3l1.2 .1l1.3 -.4l1.2 0l1.2 -.1l1.2 -.1l1.3 -.1l1.2 .1l1.2 .2l1.2 .4l1.3 .2l1.2 -.7l1.2 -.1l1.3 .3l1.2 .1l1.2 -.4l1.2 -.5l1.3 .3l1.2 .1l1.2 0l1.2 .3l1.3 -.1l1.2 -.2l1.2 .2l1.3 -.3l1.2 -.2l1.2 .3l1.2 -.1l1.3 -.2l1.2 0l1.2 0l1.3 0l1.2 -.1l1.2 .2l1.2 -.4l1.3 -.2l1.2 .8l1.2 -.2l1.2 -.2l1.3 .1l1.2 -.6l1.2 .1l1.3 .3l1.2 -.3l1.2 -.1l1.2 0l1.3 .2l1.2 0l1.2 .3l1.2 0l1.3 -.3l1.2 -.2l1.2 -.2l1.3 .4l1.2 .2l1.2 .1l1.2 -.1l1.3 -.7l1.2 -.1l1.2 .4l1.2 -.1l1.3 -.1l1.2 .2l1.2 .1l1.3 -.2l1.2 -.3l1.2 0l1.2 .2l1.3 .2l1.2 -.2l1.2 -.1l1.2 -.3l1.3 -.3l1.2 .9l1.2 -.3l1.3 -.6l1.2 .2l1.2 0l1.2 .1l1.3 .1l1.2 0l1.2 -.1l1.3 -.3l1.2 -.4l1.2 0l1.2 .1l1.3 -.2l1.2 .2l1.2 .3l1.2 -.1l1.3 -.6l1.2 .1l1.2 0l1.3 -.1l1.2 -.5l1.2 0l1.2 .6l1.3 -.2l1.2 -.1l1.2 -.4l1.2 -.4l1.3 -.2l1.2 -.3l1.2 .3l1.3 .2l1.2 -.2l1.2 .1l1.2 -.2l1.3 -.7l1.2 .1l1.2 -.1l1.2 -.3l1.3 .4l1.2 .2l1.2 -.4l1.3 -.3l1.2 0l1.2 .1l1.2 -.1l1.3 -.2l1.2 -.2l1.2 .2l1.2 -.1l1.3 -.7l1.2 -.2l1.2 .3l1.3 .1l1.2 -.5l1.2 -.3l1.2 -.2l1.3 -.1l1.2 0l1.2 0l1.2 -.2l1.3 0l1.2 .1l1.2 -.3l1.3 -.5l1.2 .2l1.2 -.5l1.2 -.5l1.3 0l1.2 -.4l1.2 -.1l1.3 -.2l1.2 -.4l1.2 -.1l1.2 .3l1.3 -.6l1.2 -.7l1.2 .2l1.2 -.4l1.3 -.2l1.2 0l1.2 -.6l1.3 -.2l1.2 -.3l1.2 -.2l1.2 .2l1.3 -.2l1.2 -.8l1.2 -.4l1.2 -.2l1.3 -.2l1.2 -.6l1.2 -.2l1.3 -.1l1.2 -.5l1.2 0l1.2 -.4l1.3 -.5l1.2 -.1l1.2 .3l1.2 -.3l1.3 -.4l1.2 .1l1.2 -.4l1.3 -.4l1.2 .1l1.2 0l1.2 -.3l1.3 -.1l1.2 -.2l1.2 .1l1.2 -.2l1.3 -.7l1.2 .1l1.2 .5l1.3 -.8l1.2 -.2l1.2 .2l1.2 -.3l1.3 -.4l1.2 -.2l1.2 -.2l1.3 -.2l1.2 .2l1.2 -.9l1.2 -.5l1.3 .3l1.2 .1l1.2 .2l1.2 -.4l1.3 -.7l1.2 -.1l1.2 0l1.3 -.4l1.2 .1l1.2 -.4l1.2 -.5l1.3 .3l1.2 -.3l1.2 -.2l1.2 -.2l1.3 -.5l1.2 -.7l1.2 -.5l1.3 -.3l1.2 -.3l1.2 .4l1.2 -.4l1.3 0l1.2 .3l1.2 -.7l1.2 -1.1l1.3 -.6l1.2 .5l1.2 .5l1.3 -.8l1.2 -.5l1.2 -.1l1.2 -.8l1.3 -.7l1.2 -.5l1.2 -.9l1.2 -1.2l1.3 -.5l1.2 -.4l1.2 -1l1.3 -.8l1.2 -.6l1.2 -.3l1.2 -.7l1.3 -.5l1.2 -1l1.2 -2.6l1.3 -2l1.2 -.3l1.2 -1.9l1.2 -3.2l1.3 -1.7l1.2 -2.1l1.2 -2.5l1.2 -1.9l1.3 -1.9l1.2 -1.9l1.2 -2.9l1.3 -2l1.2 -2.2l1.2 -3.5l1.2 -2.5l1.3 -2.8l1.2 -2.8l1.2 -2.7l1.2 -2.6l1.3 -4.2l1.2 -3.2l1.2 -2.7l1.3 -3.6l1.2 -2.5l1.2 -3.8l1.2 -4.1l1.3 -4.7l1.2 -4.5l1.2 -3.8l1.2 -5.4l1.3 -5.2l1.2 -5.1l1.2 -2.5l1.3 -2.2l1.2 -3.9l1.2 -3.5l1.2 -1.2l1.3 -2l1.2 -2.8l1.2 -3.6l1.2 -3.1l1.3 -.6l1.2 -2.4l1.2 -3.1l1.3 -5.6l1.2 -3.2l1.2 -1.3l1.2 -2.6l1.3 -2.4l1.2 -4.6l1.2 -3.4l1.2 -3l1.3 -1.6l1.2 .3l1.2 -.7l1.3 -1.4l1.2 -.2l1.2 -3.1l1.2 -.6l1.3 2.1l1.2 -1.6l1.2 -3.4l1.3 -1l1.2 1.7l1.2 1.6l1.2 .5l1.3 .5l1.2 2.6l1.2 .5l1.2 2.5l1.3 1.6l1.2 .2l1.2 4.5l1.3 3l1.2 .5l1.2 2.9l1.2 3.2l1.3 -.1l1.2 -1l1.2 1.9l1.2 3.8l1.3 3l1.2 2.8l1.2 .9l1.3 1l1.2 2l1.2 .9l1.2 .7l1.3 1.1l1.2 3.8l1.2 2.3l1.2 -1.1l1.3 -.1l1.2 1.5l1.2 1.5l1.3 2.8l1.2 2.8l1.2 2.5l1.2 2.7l1.3 3.4l1.2 4.3l1.2 2.6l1.2 2.8l1.3 3.3l1.2 4.1l1.2 3.3l1.3 1.5l1.2 2l1.2 3l1.2 4.3l1.3 3.1l1.2 .7l1.2 -.2l1.3 -1.5l1.2 -2.5l1.2 7.6l1.2 4.9l1.3 5.4l1.2 5.1l1.2 2.8l1.2 .4l1.3 -.9l1.2 1.6l1.2 2.8l1.3 .4l1.2 1.1l1.2 2.9l1.2 1l1.3 0l1.2 1.3l1.2 1.3l1.2 .8l1.3 1.1l1.2 .4l1.2 1.1l1.3 1.5l1.2 .6l1.2 1.4l1.2 1.2l1.3 1.1l1.2 1.4l1.2 .8l1.2 .6l1.3 .5l1.2 1.7l1.2 1.6l1.3 1.1l1.2 .9l1.2 .7l1.2 .6l1.3 .9l1.2 .2l1.2 0l1.2 .8l1.3 1l1.2 1.1l1.2 .8l1.3 .4l1.2 .2l1.2 1l1.2 .6l1.3 -.1l1.2 .1l1.2 1.1l1.3 1.8l1.2 1.4l1.2 -.1l1.2 -.4l1.3 .5l1.2 .3l1.2 .3l1.2 .9l1.3 .8l1.2 -.3l1.2 -.4l1.3 .9l1.2 1.1l1.2 .2l1.2 .4l1.3 .7l1.2 .5l1.2 -.2l1.2 .6l1.3 .6l1.2 .4l1.2 .3l1.3 -.2l1.2 .5l1.2 .3l1.2 .8l1.3 .6l1.2 -.1l1.2 .1l1.2 .1l1.3 .6l1.2 .2l1.2 0l1.3 -.5l1.2 .4l1.2 .9l1.2 .2l1.3 .5l1.2 .4l1.2 .1l1.2 .3l1.3 .7l1.2 .3l1.2 -.3l1.3 .7l1.2 .8l1.2 0l1.2 0l1.3 0l1.2 -.1l1.2 1l1.2 .6l1.3 -.4l1.2 .2l1.2 1.1l1.3 .7l1.2 .1l1.2 -.1l1.2 .6l1.3 .3l1.2 .2l1.2 .3l1.3 -.1l1.2 .3l1.2 .1l1.2 .3l1.3 .4l1.2 -.1l1.2 .4l1.2 .7l1.3 .4l1.2 -.4l1.2 0l1.3 .4l1.2 0l1.2 .3l1.2 .3l1.3 .3l1.2 -.1l1.2 .1l1.2 .7l1.3 .2l1.2 .3l1.2 0l1.3 -.4l1.2 .3l1.2 0l1.2 -.1l1.3 .5l1.2 .3l1.2 .2l1.2 .4l1.3 .2l1.2 .1l1.2 .4l1.3 .3l1.2 .1l1.2 -.2l1.2 0l1.3 .5l1.2 .4l1.2 .3l1.2 -.3l1.3 .5l1.2 .1l1.2 -.2l1.3 -.2l1.2 -.1l1.2 .4l1.2 .2l1.3 .1l1.2 .5l1.2 -.1l1.3 -.3l1.2 .8l1.2 .1l1.2 -.2l1.3 -.2l1.2 .2l1.2 .4l1.2 -.1l1.3 .1l1.2 -.2l1.2 0l1.3 .6l1.2 .1l1.2 0l1.2 -.3l1.3 .3l1.2 .8l1.2 -.6l1.2 -.3l1.3 .3l1.2 .1l1.2 .4l1.3 0l1.2 -.1l1.2 .3l1.2 .5l1.3 -.1l1.2 -.6l1.2 -.1l1.2 .7l1.3 0l1.2 .1l1.2 .4l1.3 -.2l1.2 -.1l1.2 .3l1.2 .2l1.3 -.2l1.2 0l1.2 0l1.2 -.1l1.3 .2l1.2 .4l1.2 -.1l1.3 0l1.2 .4l1.2 .6l1.2 -.1l1.3 -.5l1.2 -.1l1.2 .4l1.3 .4l1.2 .2l1.2 .1l1.2 -.4l1.3 .3l1.2 .1l1.2 -.3l1.2 0l1.3 .5l1.2 .3l1.2 -.3l1.3 .1l1.2 .4l1.2 .1l1.2 -.2l1.3 .1l1.2 .6l1.2 -.1l1.2 -.8l1.3 .1l1.2 .4l1.2 .1l1.3 .4l1.2 .3l1.2 0l1.2 -.1l1.3 0l1.2 0l1.2 .1l1.2 .5l1.3 .2l1.2 -.4l1.2 0l1.3 0l1.2 .1l1.2 .2l1.2 .5l1.3 .1l1.2 -.5l1.2 .4l1.2 .7l1.3 .1l1.2 -.4l1.2 -.4l1.3 .3l1.2 .3l1.2 -.4l1.2 0l1.3 .3l1.2 0l1.2 .1l1.2 .5" stroke="#c0c0c0" stroke-width="3.0" fill="none" stroke-linejoin="round"/>
<path d="M173.2 1509.3l1.2 -.1l1.3 -.3l1.2 .1l1.2 -.3l1.2 0l1.3 .3l1.2 .2l1.2 -.3l1.2 -.5l1.3 .7l1.2 .5l1.2 -.7l1.3 -.7l1.2 .2l1.2 0l1.2 .3l1.3 .2l1.2 -.4l1.2 .1l1.2 .2l1.3 0l1.2 0l1.2 -.4l1.3 -.1l1.2 .4l1.2 .2l1.2 -.4l1.3 -.3l1.2 .1l1.2 0l1.3 0l1.2 0l1.2 .1l1.2 -.1l1.3 0l1.2 0l1.2 -.2l1.2 -.1l1.3 .1l1.2 -.2l1.2 -.3l1.3 .6l1.2 .3l1.2 -.2l1.2 -.3l1.3 -.1l1.2 .2l1.2 .1l1.2 -.4l1.3 -.2l1.2 .3l1.2 .3l1.3 -.2l1.2 -.1l1.2 -.1l1.2 -.1l1.3 .1l1.2 -.1l1.2 .1l1.2 0l1.3 -.6l1.2 .1l1.2 0l1.3 -.4l1.2 .4l1.2 .1l1.2 -.3l1.3 .3l1.2 .4l1.2 -.1l1.2 -.2l1.3 -.2l1.2 .1l1.2 -.3l1.3 -.8l1.2 .5l1.2 .7l1.2 -.2l1.3 -.3l1.2 .1l1.2 .1l1.3 .2l1.2 -.4l1.2 -.1l1.2 .4l1.3 -.4l1.2 -.6l1.2 .1l1.2 .2l1.3 -.4l1.2 -.2l1.2 0l1.3 .1l1.2 .3l1.2 -.3l1.2 -.7l1.3 .2l1.2 .3l1.2 -.2l1.2 -.5l1.3 -.2l1.2 .1l1.2 -.3l1.3 -.1l1.2 -.3l1.2 .3l1.2 .2l1.3 -.4l1.2 .2l1.2 -.1l1.2 -.4l1.3 0l1.2 .1l1.2 -.4l1.3 -.3l1.2 .1l1.2 -.1l1.2 0l1.3 -.1l1.2 -.3l1.2 .1l1.2 0l1.3 -.3l1.2 -.2l1.2 0l1.3 -.1l1.2 -.1l1.2 .1l1.2 -.1l1.3 0l1.2 -.4l1.2 -.5l1.2 .1l1.3 .1l1.2 -.2l1.2 -.2l1.3 -.1l1.2 -.6l1.2 -.4l1.2 -.3l1.3 -.3l1.2 -.2l1.2 .2l1.3 -.5l1.2 -.5l1.2 .7l1.2 -.3l1.3 -.6l1.2 -.4l1.2 -.1l1.2 -.2l1.3 -.4l1.2 -.5l1.2 -.2l1.3 -.1l1.2 -.6l1.2 0l1.2 -.1l1.3 -.5l1.2 -.5l1.2 -.5l1.2 .3l1.3 -.6l1.2 -.3l1.2 .1l1.3 -.4l1.2 -.5l1.2 -.1l1.2 0l1.3 -.2l1.2 -.3l1.2 0l1.2 -.1l1.3 0l1.2 -.7l1.2 -.6l1.3 0l1.2 .1l1.2 .6l1.2 0l1.3 -.3l1.2 -.7l1.2 -.4l1.2 .1l1.3 .1l1.2 -.8l1.2 -.1l1.3 .3l1.2 -.5l1.2 -.2l1.2 -.2l1.3 -.3l1.2 -.9l1.2 -.4l1.3 .4l1.2 .4l1.2 -.5l1.2 -.9l1.3 .4l1.2 .1l1.2 .2l1.2 .3l1.3 -1.2l1.2 0l1.2 0l1.3 -1l1.2 .4l1.2 .1l1.2 -1l1.3 -.9l1.2 .2l1.2 0l1.2 0l1.3 .4l1.2 -.6l1.2 -.7l1.3 -.3l1.2 -.4l1.2 -.5l1.2 -.4l1.3 -.3l1.2 .1l1.2 -.2l1.2 -.3l1.3 -.3l1.2 -.7l1.2 -.6l1.3 -.4l1.2 -.3l1.2 -.5l1.2 -.1l1.3 -.2l1.2 -.7l1.2 -.5l1.2 -.1l1.3 -1.1l1.2 -1l1.2 -.3l1.3 -.7l1.2 -1.5l1.2 -1.1l1.2 -.7l1.3 -.6l1.2 -1.2l1.2 -2l1.3 -1.5l1.2 -1.6l1.2 -1.3l1.2 -1.5l1.3 -2.7l1.2 -1.5l1.2 -2.2l1.2 -3.3l1.3 -1.8l1.2 -2.6l1.2 -2.9l1.3 -2.6l1.2 -2.5l1.2 -2.4l1.2 -2.7l1.3 -1.9l1.2 -2.7l1.2 -3.6l1.2 -3l1.3 -2.8l1.2 -3.2l1.2 -2.8l1.3 -2.1l1.2 -4l1.2 -3.2l1.2 -2.9l1.3 -6.4l1.2 -4.4l1.2 -4l1.2 -5l1.3 -5.2l1.2 -5.3l1.2 -2.8l1.3 -2.7l1.2 -2.8l1.2 -1.5l1.2 -3l1.3 -3.1l1.2 -2.3l1.2 -3l1.2 -3.2l1.3 -3l1.2 -1.7l1.2 -2.7l1.3 -2.4l1.2 -2.1l1.2 -3.9l1.2 -3.2l1.3 -1.5l1.2 -1.8l1.2 -3.8l1.2 -2l1.3 .1l1.2 -.7l1.2 -.5l1.3 -2l1.2 -2l1.2 -1.2l1.2 -1.7l1.3 .7l1.2 -2.3l1.2 -4.1l1.3 1.8l1.2 2.3l1.2 .8l1.2 1.2l1.3 2.4l1.2 .5l1.2 .9l1.2 1.2l1.3 2.9l1.2 3.5l1.2 -.1l1.3 .1l1.2 2.7l1.2 2.3l1.2 2.1l1.3 4l1.2 2.4l1.2 -.5l1.2 1.8l1.3 1.6l1.2 1.1l1.2 2.4l1.3 2.4l1.2 1.1l1.2 -.1l1.2 2.5l1.3 1.5l1.2 1.6l1.2 .5l1.2 -.1l1.3 2.8l1.2 1.5l1.2 .7l1.3 1.5l1.2 2.7l1.2 1.2l1.2 4.3l1.3 5.5l1.2 2.6l1.2 3.1l1.2 3.8l1.3 2.4l1.2 2l1.2 3.8l1.3 3.1l1.2 1.7l1.2 3l1.2 2.2l1.3 2.2l1.2 3l1.2 .1l1.3 -2.3l1.2 1.9l1.2 4.6l1.2 5.5l1.3 5.2l1.2 1.7l1.2 .8l1.2 3l1.3 1.4l1.2 .5l1.2 1.3l1.3 1.1l1.2 2l1.2 .2l1.2 2l1.3 2.6l1.2 -.5l1.2 .7l1.2 1.5l1.3 1.5l1.2 .9l1.2 1l1.3 2l1.2 1.2l1.2 0l1.2 .6l1.3 1.2l1.2 .8l1.2 1.3l1.2 1.6l1.3 .8l1.2 .2l1.2 1.5l1.3 1.4l1.2 .8l1.2 1.4l1.2 .4l1.3 -.1l1.2 1l1.2 1l1.2 .7l1.3 .2l1.2 .4l1.2 .6l1.3 1.1l1.2 .7l1.2 .3l1.2 1.1l1.3 .4l1.2 .7l1.2 1l1.3 -.4l1.2 -.1l1.2 1.5l1.2 .6l1.3 -.2l1.2 .7l1.2 .9l1.2 .5l1.3 -.1l1.2 -.3l1.2 .5l1.3 1.3l1.2 .5l1.2 -.5l1.2 .7l1.3 1.5l1.2 -.1l1.2 .1l1.2 .7l1.3 0l1.2 .3l1.2 .5l1.3 0l1.2 .1l1.2 .3l1.2 .3l1.3 .3l1.2 .7l1.2 -.1l1.2 0l1.3 .6l1.2 .1l1.2 .4l1.3 1l1.2 .8l1.2 0l1.2 -.6l1.3 .1l1.2 .4l1.2 .6l1.2 1l1.3 .2l1.2 .5l1.2 .5l1.3 -.3l1.2 .3l1.2 .8l1.2 0l1.3 -.2l1.2 .5l1.2 .9l1.2 .2l1.3 -.1l1.2 .3l1.2 0l1.3 .3l1.2 .2l1.2 .2l1.2 .8l1.3 .6l1.2 -.3l1.2 -.5l1.3 .8l1.2 .7l1.2 0l1.2 .1l1.3 .7l1.2 .2l1.2 -.3l1.2 .3l1.3 .4l1.2 -.1l1.2 .1l1.3 .1l1.2 -.3l1.2 .8l1.2 .3l1.3 -.2l1.2 .5l1.2 1l1.2 .1l1.3 -.4l1.2 -.5l1.2 0l1.3 .5l1.2 .4l1.2 .2l1.2 .4l1.3 .6l1.2 .3l1.2 .2l1.2 -.1l1.3 -.6l1.2 .5l1.2 .6l1.3 -.2l1.2 .7l1.2 .2l1.2 .2l1.3 -.1l1.2 -.6l1.2 .6l1.2 .5l1.3 .1l1.2 .2l1.2 -.1l1.3 .2l1.2 .4l1.2 .2l1.2 -.2l1.3 -.2l1.2 .1l1.2 .4l1.3 .9l1.2 -.3l1.2 -.5l1.2 0l1.3 .2l1.2 .1l1.2 -.1l1.2 .3l1.3 .8l1.2 -.2l1.2 -.4l1.3 .3l1.2 .4l1.2 -.4l1.2 -.2l1.3 .4l1.2 .3l1.2 .3l1.2 -.2l1.3 .2l1.2 -.1l1.2 -.1l1.3 0l1.2 0l1.2 .5l1.2 -.3l1.3 -.1l1.2 .6l1.2 -.1l1.2 -.1l1.3 .2l1.2 .6l1.2 .5l1.3 -.6l1.2 -.2l1.2 .2l1.2 .2l1.3 .1l1.2 .2l1.2 .2l1.2 -.6l1.3 0l1.2 .4l1.2 .2l1.3 0l1.2 -.3l1.2 .1l1.2 .4l1.3 .2l1.2 .1l1.2 -.1l1.3 .3l1.2 .6l1.2 0l1.2 -.5l1.3 .2l1.2 .4l1.2 -.3l1.2 0l1.3 .8l1.2 -.3l1.2 -.3l1.3 .5l1.2 .2l1.2 -.2l1.2 .2l1.3 -.2l1.2 -.1l1.2 .3l1.2 .1l1.3 .4l1.2 .1l1.2 -.4l1.3 .2l1.2 .5l1.2 -.1l1.2 .2l1.3 0l1.2 .1l1.2 .2l1.2 .1l1.3 .2l1.2 -.1l1.2 -.5l1.3 .1l1.2 .4l1.2 -.1l1.2 .5l1.3 -.1l1.2 0l1.2 .5l1.2 .4l1.3 -.2l1.2 -.3l1.2 .4l1.3 .1l1.2 -.2l1.2 -.1l1.2 .1l1.3 .1l1.2 -.2l1.2 0l1.2 -.3" stroke="#c0c0c0" stroke-width="3.0" fill="none" stroke-linejoin="round"/>
<path d="M173.2 1509.0l1.2 0l1.3 -.1l1.2 0l1.2 0l1.2 0l1.3 0l1.2 .1l1.2 .3l1.2 .2l1.3 -.3l1.2 -.1l1.2 -.1l1.3 -.1l1.2 .3l1.2 -.1l1.2 -.2l1.3 -.3l1.2 0l1.2 .4l1.2 -.2l1.3 -.3l1.2 .1l1.2 .2l1.3 -.1l1.2 -.2l1.2 0l1.2 .3l1.3 -.1l1.2 -.3l1.2 -.1l1.3 0l1.2 .1l1.2 0l1.2 -.3l1.3 .2l1.2 .5l1.2 -.2l1.2 .3l1.3 0l1.2 -.8l1.2 -.3l1.3 .1l1.2 .1l1.2 .3l1.2 -.1l1.3 .1l1.2 .3l1.2 -.5l1.2 -.3l1.3 -.1l1.2 .2l1.2 .2l1.3 0l1.2 -.3l1.2 -.3l1.2 .4l1.3 .2l1.2 -.4l1.2 -.1l1.2 .3l1.3 -.2l1.2 .1l1.2 -.3l1.3 -.5l1.2 .3l1.2 .2l1.2 -.2l1.3 -.1l1.2 -.1l1.2 .3l1.2 .1l1.3 0l1.2 0l1.2 -.4l1.3 -.2l1.2 .5l1.2 0l1.2 -.1l1.3 -.1l1.2 -.3l1.2 0l1.3 -.2l1.2 0l1.2 .3l1.2 0l1.3 -.3l1.2 .2l1.2 0l1.2 -.5l1.3 .1l1.2 -.2l1.2 -.5l1.3 0l1.2 .2l1.2 0l1.2 -.2l1.3 -.2l1.2 -.2l1.2 .1l1.2 0l1.3 -.4l1.2 .2l1.2 .1l1.3 -.3l1.2 -.1l1.2 -.2l1.2 -.1l1.3 -.1l1.2 -.2l1.2 -.1l1.2 0l1.3 .2l1.2 -.3l1.2 -.2l1.3 -.2l1.2 0l1.2 .2l1.2 -.3l1.3 -.3l1.2 .1l1.2 -.2l1.2 -.2l1.3 0l1.2 -.2l1.2 .1l1.3 -.2l1.2 -.3l1.2 .1l1.2 -.1l1.3 -.1l1.2 .2l1.2 -.2l1.2 -.4l1.3 -.5l1.2 -.6l1.2 .2l1.3 0l1.2 -.5l1.2 -.2l1.2 0l1.3 0l1.2 -.1l1.2 -.4l1.3 -.6l1.2 -.1l1.2 -.1l1.2 -.5l1.3 -.4l1.2 -.1l1.2 .1l1.2 .2l1.3 -.3l1.2 -.6l1.2 -.4l1.3 -.3l1.2 -.4l1.2 -.2l1.2 -.2l1.3 -.2l1.2 -.3l1.2 -.1l1.2 -.1l1.3 .1l1.2 -.3l1.2 -.7l1.3 -.6l1.2 .1l1.2 0l1.2 -.4l1.3 -.5l1.2 -.3l1.2 .2l1.2 -.4l1.3 -.3l1.2 -.2l1.2 -.4l1.3 .1l1.2 .3l1.2 -.2l1.2 -1l1.3 0l1.2 0l1.2 -.3l1.2 .4l1.3 -.7l1.2 -.3l1.2 .7l1.3 0l1.2 -.4l1.2 -.4l1.2 -.7l1.3 -.5l1.2 .1l1.2 -.1l1.3 0l1.2 .3l1.2 -.3l1.2 -.6l1.3 -.4l1.2 -.3l1.2 -.2l1.2 0l1.3 .1l1.2 -.1l1.2 -.1l1.3 -.6l1.2 -.4l1.2 .3l1.2 0l1.3 -1l1.2 -.9l1.2 -.1l1.2 .4l1.3 -.3l1.2 -.2l1.2 .4l1.3 -.3l1.2 -.3l1.2 -.3l1.2 -1.1l1.3 -.5l1.2 .2l1.2 -.4l1.2 -.1l1.3 -.2l1.2 -.2l1.2 .1l1.3 -.4l1.2 -.4l1.2 .1l1.2 -.8l1.3 -.9l1.2 -.5l1.2 -1.4l1.2 -1l1.3 -.5l1.2 -.5l1.2 0l1.3 -.5l1.2 -1.5l1.2 -.1l1.2 0l1.3 -1.7l1.2 -.5l1.2 -1.9l1.3 -1.9l1.2 -1.4l1.2 -2.6l1.2 -2.2l1.3 -1.4l1.2 -1.6l1.2 -2.7l1.2 -3l1.3 -1.8l1.2 -.8l1.2 -1.9l1.3 -3.5l1.2 -2.4l1.2 -1.9l1.2 -2.5l1.3 -2.6l1.2 -3.7l1.2 -3.4l1.2 -2l1.3 -3.1l1.2 -2.5l1.2 -2.6l1.3 -4.1l1.2 -1.7l1.2 -2.2l1.2 -5.3l1.3 -5.5l1.2 -3.9l1.2 -3.5l1.2 -4.6l1.3 -4.2l1.2 -5.1l1.2 -6l1.3 -1.8l1.2 -1.7l1.2 -2l1.2 -2.1l1.3 -3.1l1.2 -2.7l1.2 -2.6l1.2 -1.1l1.3 -3.7l1.2 -2.8l1.2 -2.5l1.3 -2.3l1.2 -2.2l1.2 -3.8l1.2 -1.4l1.3 -3.1l1.2 -3.2l1.2 -3.1l1.2 -3l1.3 -1.6l1.2 1.4l1.2 -1.1l1.3 -2.6l1.2 .4l1.2 -.1l1.2 -.6l1.3 -1.9l1.2 -1.7l1.2 -1.4l1.3 -1.5l1.2 .2l1.2 -.3l1.2 1.6l1.3 2.6l1.2 -.2l1.2 .4l1.2 3.2l1.3 1.2l1.2 .2l1.2 .5l1.3 1.5l1.2 3.1l1.2 2.7l1.2 3.4l1.3 1.9l1.2 1.3l1.2 2.1l1.2 .7l1.3 2.3l1.2 .9l1.2 1.3l1.3 3.9l1.2 -.2l1.2 .4l1.2 2.6l1.3 .8l1.2 1.1l1.2 1.6l1.2 1.2l1.3 1.3l1.2 1.6l1.2 .9l1.3 .9l1.2 1.8l1.2 4.6l1.2 3l1.3 2.1l1.2 3.6l1.2 3l1.2 3.3l1.3 3.4l1.2 1.9l1.2 2.6l1.3 3.5l1.2 2.7l1.2 3l1.2 1.5l1.3 2.3l1.2 2.7l1.2 2.2l1.3 -1l1.2 -3.7l1.2 5.2l1.2 5.7l1.3 5.9l1.2 3.8l1.2 1.1l1.2 1.3l1.3 1.1l1.2 1l1.2 1.9l1.3 .4l1.2 .9l1.2 2.1l1.2 1.7l1.3 .6l1.2 .3l1.2 1.6l1.2 1.8l1.3 .5l1.2 1.4l1.2 1.3l1.3 .7l1.2 1.3l1.2 1.5l1.2 1.9l1.3 .7l1.2 .5l1.2 .8l1.2 .7l1.3 1.2l1.2 .2l1.2 .5l1.3 1.8l1.2 .9l1.2 .7l1.2 1.6l1.3 .7l1.2 .4l1.2 .5l1.2 .5l1.3 .8l1.2 1.1l1.2 1l1.3 .9l1.2 .4l1.2 0l1.2 1.4l1.3 .2l1.2 -.3l1.2 1.2l1.3 1.4l1.2 .1l1.2 -.3l1.2 .4l1.3 .1l1.2 -.3l1.2 .9l1.2 1.3l1.3 .7l1.2 -.3l1.2 .3l1.3 .9l1.2 .2l1.2 .4l1.2 .5l1.3 .2l1.2 .4l1.2 .8l1.2 .8l1.3 .5l1.2 0l1.2 -.2l1.3 .5l1.2 .5l1.2 .2l1.2 1.2l1.3 .1l1.2 -1l1.2 .8l1.2 .4l1.3 .3l1.2 .7l1.2 -.1l1.3 -.1l1.2 .3l1.2 .5l1.2 0l1.3 0l1.2 .6l1.2 .4l1.2 0l1.3 .3l1.2 1l1.2 .4l1.3 .5l1.2 -.2l1.2 -.2l1.2 1.4l1.3 .5l1.2 -.2l1.2 0l1.2 .4l1.3 .6l1.2 .5l1.2 0l1.3 -.3l1.2 .5l1.2 .6l1.2 .3l1.3 .5l1.2 .4l1.2 0l1.3 .1l1.2 .3l1.2 .4l1.2 .1l1.3 .3l1.2 .1l1.2 0l1.2 .4l1.3 .3l1.2 .3l1.2 .2l1.3 .1l1.2 .5l1.2 -.1l1.2 -.3l1.3 .3l1.2 .3l1.2 .2l1.2 .3l1.3 .5l1.2 .1l1.2 .4l1.3 -.2l1.2 0l1.2 .4l1.2 .3l1.3 -.1l1.2 -.2l1.2 .3l1.2 .2l1.3 0l1.2 .4l1.2 .6l1.3 .4l1.2 -.5l1.2 -.3l1.2 0l1.3 .5l1.2 .5l1.2 .3l1.2 .5l1.3 .1l1.2 .2l1.2 -.2l1.3 -.4l1.2 .2l1.2 .7l1.2 -.1l1.3 -.2l1.2 .8l1.2 -.1l1.3 -.3l1.2 .2l1.2 .2l1.2 .4l1.3 -.1l1.2 .3l1.2 .1l1.2 -.4l1.3 0l1.2 .3l1.2 .2l1.3 .2l1.2 -.3l1.2 -.1l1.2 .4l1.3 .3l1.2 0l1.2 -.3l1.2 .7l1.3 -.1l1.2 -.6l1.2 .5l1.3 .6l1.2 -.5l1.2 -.4l1.2 .7l1.3 .5l1.2 -.2l1.2 .1l1.2 .3l1.3 -.2l1.2 .3l1.2 .2l1.3 -.1l1.2 -.2l1.2 -.2l1.2 0l1.3 .4l1.2 0l1.2 -.2l1.2 .1l1.3 .2l1.2 .2l1.2 .3l1.3 -.1l1.2 -.1l1.2 .5l1.2 .1l1.3 0l1.2 .4l1.2 .1l1.3 0l1.2 .1l1.2 -.1l1.2 -.5l1.3 .1l1.2 .8l1.2 .1l1.2 .1l1.3 .4l1.2 0l1.2 -.3l1.3 -.4l1.2 .1l1.2 .7l1.2 .2l1.3 -.4l1.2 .7l1.2 .3l1.2 -.9l1.3 .3l1.2 .8l1.2 0l1.3 -.4l1.2 -.3l1.2 .2l1.2 0l1.3 .4l1.2 .7l1.2 -.2l1.2 0l1.3 .1l1.2 -.4l1.2 .2l1.3 -.1l1.2 .1l1.2 .5l1.2 .3l1.3 -.3l1.2 .1l1.2 .1l1.2 0l1.3 .1l1.2 .2l1.2 .2l1.3 .2l1.2 .2l1.2 -.4l1.2 -.1l1.3 .3l1.2 -.3l1.2 -.3l1.2 .4" stroke="#c0c0c0" stroke-width="3.0" fill="none" stroke-linejoin="round"/>
<path d="M173.2 1509.4l1.2 -.1l1.3 -.6l1.2 .3l1.2 0l1.2 -.2l1.3 0l1.2 0l1.2 .2l1.2 -.5l1.3 -.3l1.2 .6l1.2 .6l1.3 -.3l1.2 -.4l1.2 0l1.2 .1l1.3 -.2l1.2 .4l1.2 .4l1.2 -.6l1.3 -.3l1.2 0l1.2 .2l1.3 -.2l1.2 -.4l1.2 .2l1.2 0l1.3 .4l1.2 .1l1.2 0l1.3 -.1l1.2 0l1.2 0l1.2 -.2l1.3 0l1.2 .2l1.2 .2l1.2 -.4l1.3 -.4l1.2 .2l1.2 0l1.3 -.7l1.2 .1l1.2 .6l1.2 .3l1.3 .1l1.2 -.3l1.2 -.2l1.2 -.2l1.3 -.4l1.2 .2l1.2 .2l1.3 -.4l1.2 -.1l1.2 .2l1.2 0l1.3 .2l1.2 .3l1.2 -.4l1.2 -.5l1.3 -.1l1.2 0l1.2 -.1l1.3 -.2l1.2 .4l1.2 .1l1.2 .3l1.3 -.1l1.2 -.5l1.2 .2l1.2 -.2l1.3 .2l1.2 .1l1.2 -.1l1.3 -.3l1.2 .1l1.2 .3l1.2 -.3l1.3 -.5l1.2 .1l1.2 .5l1.3 .1l1.2 -.3l1.2 -.3l1.2 .2l1.3 -.2l1.2 -.2l1.2 .3l1.2 -.2l1.3 0l1.2 .1l1.2 -.3l1.3 .2l1.2 -.1l1.2 -.3l1.2 -.2l1.3 -.2l1.2 -.2l1.2 -.3l1.2 0l1.3 -.1l1.2 .2l1.2 -.1l1.3 -.4l1.2 -.1l1.2 0l1.2 -.1l1.3 0l1.2 0l1.2 -.1l1.2 -.3l1.3 -.2l1.2 -.3l1.2 .1l1.3 .2l1.2 -.5l1.2 -.2l1.2 .2l1.3 .1l1.2 -.2l1.2 .1l1.2 .1l1.3 -.4l1.2 -.2l1.2 -.2l1.3 -.4l1.2 -.2l1.2 .2l1.2 .4l1.3 0l1.2 -.8l1.2 -.6l1.2 -.1l1.3 0l1.2 -.3l1.2 .3l1.3 0l1.2 -.4l1.2 -.4l1.2 -.5l1.3 -.1l1.2 -.4l1.2 -.2l1.3 .3l1.2 -.1l1.2 0l1.2 -.5l1.3 -.5l1.2 -.2l1.2 -.5l1.2 -.2l1.3 .2l1.2 -.1l1.2 -.5l1.3 -.4l1.2 -.1l1.2 0l1.2 -.7l1.3 -.2l1.2 -.1l1.2 -.3l1.2 -.4l1.3 -.4l1.2 -.1l1.2 -.2l1.3 .1l1.2 -.9l1.2 -.8l1.2 -.1l1.3 -.3l1.2 .4l1.2 .1l1.2 -.5l1.3 -.3l1.2 .1l1.2 -.2l1.3 -.6l1.2 -.3l1.2 -.4l1.2 .1l1.3 .3l1.2 -.1l1.2 .4l1.2 -.6l1.3 -1.2l1.2 1.1l1.2 .2l1.3 -1l1.2 0l1.2 .1l1.2 -.2l1.3 -.1l1.2 -.4l1.2 -.9l1.3 -.4l1.2 .5l1.2 .5l1.2 -.5l1.3 -.8l1.2 -.3l1.2 -.3l1.2 -.3l1.3 .1l1.2 .2l1.2 .4l1.3 -.3l1.2 -.4l1.2 0l1.2 -.6l1.3 -1l1.2 .1l1.2 .2l1.2 -.7l1.3 -.3l1.2 -.1l1.2 -.5l1.3 -.4l1.2 -.4l1.2 -.1l1.2 .3l1.3 -.5l1.2 -.3l1.2 -.1l1.2 -.7l1.3 -1.1l1.2 -.4l1.2 .3l1.3 0l1.2 -.1l1.2 -.3l1.2 .1l1.3 -1l1.2 -1.4l1.2 -.5l1.2 -.5l1.3 -.7l1.2 -1.3l1.2 -.5l1.3 -.7l1.2 -.7l1.2 0l1.2 -.9l1.3 -1l1.2 -1.8l1.2 -1.8l1.3 -1.6l1.2 -1.5l1.2 -1.5l1.2 -1.7l1.3 -1.6l1.2 -2.9l1.2 -2.5l1.2 -1l1.3 -1.7l1.2 -2.4l1.2 -2.3l1.3 -3l1.2 -3.4l1.2 -1.8l1.2 -2.6l1.3 -3.4l1.2 -2.4l1.2 -2.6l1.2 -2.6l1.3 -3l1.2 -1.9l1.2 -2.6l1.3 -3.7l1.2 -1.5l1.2 -3.6l1.2 -5.4l1.3 -4.6l1.2 -4.2l1.2 -3.3l1.2 -4.6l1.3 -5.3l1.2 -2l1.2 -1.4l1.3 -4.5l1.2 -2.7l1.2 -2.9l1.2 -4.5l1.3 -2.4l1.2 -.6l1.2 -2.5l1.2 -2.3l1.3 -2l1.2 -2.4l1.2 -3.2l1.3 -2.5l1.2 -2l1.2 -3.1l1.2 -1.4l1.3 -2.6l1.2 -4.8l1.2 -1.7l1.2 -1.3l1.3 -2.3l1.2 -1.9l1.2 -.2l1.3 .5l1.2 -1.2l1.2 -.2l1.2 .3l1.3 -1.5l1.2 -2.1l1.2 -.4l1.3 -1.8l1.2 .9l1.2 1.9l1.2 .3l1.3 -.4l1.2 -1.3l1.2 3.2l1.2 2.7l1.3 0l1.2 1.4l1.2 2.1l1.3 1.4l1.2 3.1l1.2 1.7l1.2 -1.3l1.3 3.4l1.2 2.9l1.2 2.1l1.2 2.2l1.3 .6l1.2 3.3l1.2 .3l1.3 -1.4l1.2 .4l1.2 1.9l1.2 2.7l1.3 .3l1.2 2.8l1.2 1.8l1.2 0l1.3 .2l1.2 1.1l1.2 2l1.3 1.4l1.2 5.5l1.2 1.8l1.2 0l1.3 3.4l1.2 4.1l1.2 2.8l1.2 3.5l1.3 4.2l1.2 1.6l1.2 1.7l1.3 2.2l1.2 3.7l1.2 3.3l1.2 1.5l1.3 1.9l1.2 3.2l1.2 .6l1.3 -3.2l1.2 -.5l1.2 5.2l1.2 4.8l1.3 5.4l1.2 3.8l1.2 2.3l1.2 1.5l1.3 1.1l1.2 1.4l1.2 .8l1.3 .9l1.2 2.1l1.2 2.4l1.2 1l1.3 0l1.2 .2l1.2 1.3l1.2 1.5l1.3 .7l1.2 .8l1.2 1.8l1.3 1.7l1.2 .4l1.2 1.2l1.2 1.6l1.3 .9l1.2 .6l1.2 .4l1.2 1.2l1.3 1.7l1.2 .9l1.2 .2l1.3 1.5l1.2 1l1.2 -.2l1.2 1.2l1.3 1.4l1.2 1.2l1.2 .9l1.2 .4l1.3 -.1l1.2 .3l1.2 1.2l1.3 1.2l1.2 .9l1.2 -.4l1.2 .6l1.3 .5l1.2 0l1.2 .5l1.3 .5l1.2 1l1.2 .6l1.2 .5l1.3 .9l1.2 .4l1.2 .1l1.2 .8l1.3 .5l1.2 -.1l1.2 .3l1.3 1.1l1.2 -.1l1.2 .4l1.2 .5l1.3 .1l1.2 .4l1.2 .3l1.2 1l1.3 0l1.2 .2l1.2 1.1l1.3 .5l1.2 -.2l1.2 0l1.2 .5l1.3 .6l1.2 -.4l1.2 -.4l1.2 .5l1.3 .4l1.2 .3l1.2 .5l1.3 .2l1.2 .1l1.2 .8l1.2 0l1.3 0l1.2 .5l1.2 .9l1.2 .7l1.3 .3l1.2 .3l1.2 -.1l1.3 .4l1.2 .3l1.2 .4l1.2 .4l1.3 -.1l1.2 -.1l1.2 -.1l1.2 .6l1.3 .7l1.2 0l1.2 .8l1.3 1l1.2 -.4l1.2 -.3l1.2 0l1.3 .2l1.2 .3l1.2 .5l1.3 .7l1.2 .1l1.2 .7l1.2 .6l1.3 .1l1.2 .2l1.2 .5l1.2 0l1.3 -.5l1.2 .1l1.2 .5l1.3 .6l1.2 -.4l1.2 .5l1.2 .4l1.3 .3l1.2 -.3l1.2 -.1l1.2 .6l1.3 -.1l1.2 .6l1.2 .4l1.3 .2l1.2 -.1l1.2 -.6l1.2 .9l1.3 .5l1.2 0l1.2 0l1.2 -.3l1.3 0l1.2 .2l1.2 .8l1.3 .6l1.2 -.2l1.2 -.3l1.2 .3l1.3 .4l1.2 -.1l1.2 0l1.2 0l1.3 .4l1.2 .3l1.2 -.1l1.3 .2l1.2 .2l1.2 .3l1.2 -.2l1.3 .2l1.2 .3l1.2 -.1l1.3 .4l1.2 0l1.2 -.1l1.2 -.2l1.3 .3l1.2 .3l1.2 -.2l1.2 0l1.3 .3l1.2 .3l1.2 .2l1.3 0l1.2 -.4l1.2 -.2l1.2 .8l1.3 .5l1.2 -.5l1.2 .4l1.2 -.4l1.3 -.3l1.2 1l1.2 -.6l1.3 -.4l1.2 1.2l1.2 .4l1.2 -.2l1.3 -.1l1.2 -.5l1.2 .2l1.2 .6l1.3 -.1l1.2 -.1l1.2 0l1.3 .5l1.2 -.1l1.2 0l1.2 .4l1.3 -.6l1.2 .2l1.2 .7l1.2 -.1l1.3 -.1l1.2 -.3l1.2 .5l1.3 .3l1.2 0l1.2 -.1l1.2 .3l1.3 .2l1.2 -.4l1.2 .2l1.3 .2l1.2 0l1.2 -.1l1.2 .2l1.3 .2l1.2 0l1.2 -.1l1.2 .5l1.3 .5l1.2 -.1l1.2 0l1.3 .1l1.2 0l1.2 -.3l1.2 0l1.3 .4l1.2 -.1l1.2 .3l1.2 .3l1.3 .3l1.2 .2l1.2 -.4l1.3 0l1.2 .3l1.2 -.4l1.2 -.3l1.3 .4l1.2 .6l1.2 .3l1.2 0l1.3 0l1.2 .1l1.2 0l1.3 .1l1.2 0l1.2 -.2l1.2 .1l1.3 0l1.2 .1l1.2 .1l1.2 .1l1.3 .4l1.2 -.1l1.2 .4l1.3 -.4l1.2 -.2l1.2 .6l1.2 .3l1.3 -.3l1.2 -.4l1.2 .1l1.2 .2" stroke="#c0c0c0" stroke-width="3.0" fill="none" stroke-linejoin="round"/>
<path d="M173.2 1510.2l1.2 -.4l1.3 .5l1.2 -.1l1.2 0l1.2 .1l1.3 .3l1.2 0l1.2 -.8l1.2 -.3l1.3 .3l1.2 .1l1.2 -.2l1.3 -.2l1.2 .3l1.2 .2l1.2 -.3l1.3 -.2l1.2 .1l1.2 0l1.2 -.3l1.3 .1l1.2 0l1.2 -.3l1.3 .3l1.2 .2l1.2 -.3l1.2 -.4l1.3 .4l1.2 .5l1.2 -.1l1.3 0l1.2 -.4l1.2 0l1.2 0l1.3 -.2l1.2 0l1.2 -.2l1.2 -.2l1.3 .3l1.2 .1l1.2 -.3l1.3 0l1.2 -.1l1.2 -.2l1.2 .1l1.3 0l1.2 .1l1.2 -.2l1.2 -.2l1.3 .2l1.2 -.1l1.2 -.7l1.3 -.3l1.2 .5l1.2 .3l1.2 -.3l1.3 0l1.2 -.2l1.2 -.1l1.2 -.1l1.3 -.6l1.2 .2l1.2 .2l1.3 -.3l1.2 -.4l1.2 -.4l1.2 .6l1.3 .1l1.2 -.4l1.2 .1l1.2 .1l1.3 .2l1.2 .2l1.2 -.3l1.3 0l1.2 -.2l1.2 -.3l1.2 -.3l1.3 .1l1.2 0l1.2 -.4l1.3 .2l1.2 0l1.2 0l1.2 0l1.3 .1l1.2 -.4l1.2 .2l1.2 0l1.3 -.7l1.2 .1l1.2 -.2l1.3 0l1.2 .1l1.2 -.3l1.2 0l1.3 -.1l1.2 -.3l1.2 .2l1.2 0l1.3 .1l1.2 -.1l1.2 -.3l1.3 .3l1.2 -.1l1.2 -.4l1.2 .1l1.3 .3l1.2 -.3l1.2 -.2l1.2 .1l1.3 -.2l1.2 -.1l1.2 -.1l1.3 -.5l1.2 -.2l1.2 .1l1.2 .2l1.3 -.3l1.2 -.3l1.2 -.1l1.2 -.1l1.3 .3l1.2 0l1.2 -.1l1.3 -.2l1.2 -.2l1.2 -.9l1.2 -.4l1.3 .4l1.2 -.3l1.2 -.3l1.2 0l1.3 -.4l1.2 -.3l1.2 -.4l1.3 .2l1.2 -.5l1.2 -.8l1.2 .1l1.3 -.4l1.2 -.8l1.2 -.1l1.3 -.1l1.2 -.6l1.2 -.2l1.2 -.3l1.3 -.4l1.2 -.7l1.2 -.1l1.2 -.1l1.3 -.7l1.2 -.5l1.2 -.2l1.3 -.5l1.2 -.6l1.2 -.7l1.2 -.8l1.3 -.5l1.2 -.6l1.2 -.4l1.2 -.2l1.3 -.8l1.2 -.8l1.2 .1l1.3 -.8l1.2 -.1l1.2 -.1l1.2 -1l1.3 0l1.2 .2l1.2 -.5l1.2 -.3l1.3 .3l1.2 -.8l1.2 -1.2l1.3 .3l1.2 -.1l1.2 -.8l1.2 -.1l1.3 -.3l1.2 0l1.2 .1l1.2 -.3l1.3 -.3l1.2 .5l1.2 -.3l1.3 -1l1.2 -.1l1.2 .1l1.2 .4l1.3 -.3l1.2 -.6l1.2 -.3l1.3 -.2l1.2 .4l1.2 .3l1.2 -.3l1.3 -.5l1.2 -.2l1.2 .1l1.2 -.2l1.3 .2l1.2 -.1l1.2 0l1.3 -.7l1.2 -.2l1.2 -.2l1.2 -.9l1.3 -.1l1.2 -.6l1.2 -.2l1.2 -.4l1.3 -1.1l1.2 -.3l1.2 -.1l1.3 -1.2l1.2 -.5l1.2 -.9l1.2 -.5l1.3 -.1l1.2 -1.2l1.2 -.9l1.2 -.7l1.3 -1.2l1.2 -.9l1.2 -1l1.3 -1.2l1.2 -1.1l1.2 -1l1.2 -1.1l1.3 -1.2l1.2 -1.3l1.2 -1.3l1.2 -1.6l1.3 -.8l1.2 -1.4l1.2 -2.2l1.3 -1.9l1.2 -1.8l1.2 -2.1l1.2 -2.7l1.3 -2.3l1.2 -2.7l1.2 -2.4l1.3 -1.4l1.2 -2.8l1.2 -2.7l1.2 -1.2l1.3 -2.2l1.2 -3l1.2 -2.6l1.2 -2.3l1.3 -3.9l1.2 -4l1.2 -4.5l1.3 -5.1l1.2 -5.3l1.2 -4.5l1.2 -5.1l1.3 -7.4l1.2 -4.5l1.2 -5.9l1.2 -8.3l1.3 -6.5l1.2 -7l1.2 -6.9l1.3 -8l1.2 -8.4l1.2 -6.3l1.2 -8.6l1.3 -9.2l1.2 -7.8l1.2 -10.6l1.2 -9.2l1.3 -8.9l1.2 -9.9l1.2 -9.5l1.3 -10.2l1.2 -10l1.2 -13.2l1.2 -14.9l1.3 -10.7l1.2 -8.4l1.2 -10.7l1.2 -7.9l1.3 -5.5l1.2 -12.3l1.2 -12.8l1.3 -7.6l1.2 -10.3l1.2 -10.2l1.2 -6.8l1.3 -6.1l1.2 -6.1l1.2 -4.1l1.2 -5.3l1.3 -7.9l1.2 -4.8l1.2 -4.3l1.3 -4.1l1.2 -6.8l1.2 -2.8l1.2 -2.2l1.3 -4.8l1.2 -3.4l1.2 -2.1l1.3 1.3l1.2 4.3l1.2 .6l1.2 -1l1.3 .1l1.2 1.7l1.2 1.9l1.2 0l1.3 3.6l1.2 5.3l1.2 2.8l1.3 8.4l1.2 5.6l1.2 2.8l1.2 4.5l1.3 4.3l1.2 8.4l1.2 3l1.2 1.9l1.3 9.5l1.2 7.3l1.2 10.4l1.3 9.1l1.2 6.8l1.2 5l1.2 8.8l1.3 8l1.2 4.7l1.2 8.8l1.2 8.9l1.3 6.8l1.2 5.1l1.2 7.5l1.3 7l1.2 5l1.2 5.9l1.2 7.1l1.3 6.2l1.2 5l1.2 9.5l1.2 8.6l1.3 6.3l1.2 6.2l1.2 4.7l1.3 5.3l1.2 6.5l1.2 6.1l1.2 4.1l1.3 5.3l1.2 6.1l1.2 2.6l1.3 3.4l1.2 3.9l1.2 3.2l1.2 4.1l1.3 5l1.2 4.8l1.2 4.3l1.2 3.5l1.3 2.9l1.2 4.2l1.2 4l1.3 3.2l1.2 2.9l1.2 4.1l1.2 4.3l1.3 3.1l1.2 2.7l1.2 2.2l1.2 3l1.3 5.4l1.2 4.5l1.2 2.1l1.3 3.4l1.2 2.2l1.2 2l1.2 3.9l1.3 2.4l1.2 1.9l1.2 2.7l1.2 2.7l1.3 1.9l1.2 3l1.2 2.8l1.3 2.7l1.2 2.9l1.2 1l1.2 2l1.3 2.5l1.2 1l1.2 1.4l1.2 1.5l1.3 .6l1.2 1.1l1.2 2.4l1.3 2.2l1.2 1.6l1.2 .9l1.2 1l1.3 1l1.2 1.7l1.2 2.4l1.3 2.3l1.2 1.5l1.2 .2l1.2 .6l1.3 .4l1.2 1.4l1.2 1.4l1.2 .5l1.3 .9l1.2 .9l1.2 .4l1.3 1.3l1.2 1.4l1.2 .3l1.2 .9l1.3 .7l1.2 1l1.2 1l1.2 .6l1.3 1l1.2 1.1l1.2 .6l1.3 1l1.2 .8l1.2 .3l1.2 1l1.3 .4l1.2 1.2l1.2 .9l1.2 .2l1.3 1.1l1.2 .5l1.2 .5l1.3 .4l1.2 .7l1.2 .7l1.2 0l1.3 .9l1.2 1.2l1.2 .7l1.2 .7l1.3 .7l1.2 .3l1.2 .3l1.3 .7l1.2 .5l1.2 .2l1.2 .4l1.3 .2l1.2 .9l1.2 .6l1.2 .3l1.3 .6l1.2 .6l1.2 .4l1.3 .6l1.2 .8l1.2 .1l1.2 .6l1.3 .3l1.2 -.2l1.2 .6l1.3 .6l1.2 .5l1.2 .3l1.2 -.6l1.3 .4l1.2 1.2l1.2 .5l1.2 .7l1.3 .5l1.2 .1l1.2 .3l1.3 .2l1.2 -.1l1.2 .7l1.2 .8l1.3 -.1l1.2 .5l1.2 .6l1.2 -.1l1.3 -.1l1.2 .4l1.2 .6l1.3 .3l1.2 -.2l1.2 .6l1.2 .4l1.3 .3l1.2 .3l1.2 .4l1.2 .1l1.3 .3l1.2 0l1.2 -.1l1.3 .7l1.2 -.1l1.2 .2l1.2 1.2l1.3 -.1l1.2 -.5l1.2 .4l1.2 .3l1.3 .3l1.2 .5l1.2 .3l1.3 -.7l1.2 0l1.2 .7l1.2 -.4l1.3 .4l1.2 .5l1.2 .1l1.3 .5l1.2 -.1l1.2 -.3l1.2 .3l1.3 .4l1.2 -.1l1.2 0l1.2 -.2l1.3 .1l1.2 .4l1.2 .5l1.3 .6l1.2 -.3l1.2 0l1.2 .3l1.3 -.1l1.2 .5l1.2 .1l1.2 -.5l1.3 -.1l1.2 .6l1.2 .5l1.3 .5l1.2 .3l1.2 -.2l1.2 -.1l1.3 -.1l1.2 .2l1.2 0l1.2 .2l1.3 .2l1.2 .1l1.2 .4l1.3 -.2l1.2 -.1l1.2 .3l1.2 .4l1.3 0l1.2 0l1.2 -.3l1.2 0l1.3 .5l1.2 .3l1.2 -.2l1.3 -.2l1.2 .1l1.2 .4l1.2 .5l1.3 .3l1.2 -.1l1.2 .2l1.3 .1l1.2 -.5l1.2 0l1.2 .4l1.3 .4l1.2 0l1.2 -.1l1.2 .4l1.3 0l1.2 .1l1.2 .3l1.3 0l1.2 -.5l1.2 .3l1.2 .4l1.3 .2l1.2 .2l1.2 .1l1.2 -.2l1.3 .1l1.2 .2l1.2 0l1.3 .5l1.2 .1l1.2 -.2l1.2 0l1.3 .1l1.2 .6l1.2 .3l1.2 -.2l1.3 -.2l1.2 0l1.2 .1l1.3 0l1.2 .2l1.2 -.1l1.2 .1l1.3 .6l1.2 -.1l1.2 -.2l1.2 .1l1.3 .6l1.2 .3l1.2 -.5l1.3 .2l1.2 .1l1.2 .2l1.2 .2l1.3 -.2l1.2 -.1l1.2 0l1.2 0" stroke="#ff0000" stroke-width="3.0" fill="none" stroke-linejoin="round"/>
<path d="M173.2 1509.7l1.2 .5l1.3 0l1.2 .2l1.2 -.3l1.2 -.7l1.3 .1l1.2 0l1.2 .2l1.2 .2l1.3 .1l1.2 -.3l1.2 -.3l1.3 -.1l1.2 .4l1.2 -.3l1.2 -.1l1.3 .4l1.2 -.2l1.2 .1l1.2 .3l1.3 .1l1.2 -.3l1.2 -.5l1.3 0l1.2 .1l1.2 .1l1.2 .1l1.3 -.5l1.2 -.5l1.2 .2l1.3 .2l1.2 0l1.2 .1l1.2 -.1l1.3 -.2l1.2 .1l1.2 .3l1.2 -.3l1.3 -.1l1.2 -.1l1.2 .1l1.3 0l1.2 -.2l1.2 .1l1.2 -.3l1.3 0l1.2 .5l1.2 .1l1.2 -.5l1.3 -.6l1.2 -.1l1.2 .5l1.3 0l1.2 -.5l1.2 -.2l1.2 0l1.3 -.1l1.2 -.3l1.2 .3l1.2 0l1.3 -.4l1.2 .3l1.2 -.1l1.3 -.5l1.2 .1l1.2 0l1.2 .3l1.3 .5l1.2 -.6l1.2 -.4l1.2 -.1l1.3 -.2l1.2 -.1l1.2 .3l1.3 .4l1.2 -.6l1.2 -.4l1.2 .2l1.3 0l1.2 -.4l1.2 0l1.3 .2l1.2 -.5l1.2 .1l1.2 .4l1.3 -.2l1.2 .2l1.2 -.3l1.2 -.7l1.3 -.2l1.2 .1l1.2 .2l1.3 -.2l1.2 -.3l1.2 0l1.2 .1l1.3 .1l1.2 0l1.2 -.2l1.2 -.2l1.3 -.3l1.2 .4l1.2 .3l1.3 -.4l1.2 -.2l1.2 -.1l1.2 -.4l1.3 .2l1.2 .1l1.2 -.1l1.2 0l1.3 -.3l1.2 .1l1.2 .4l1.3 -.2l1.2 -.3l1.2 -.2l1.2 -.4l1.3 -.2l1.2 -.2l1.2 .5l1.2 .4l1.3 -.3l1.2 -.6l1.2 -.5l1.3 -.1l1.2 -.3l1.2 -.2l1.2 -.4l1.3 -.3l1.2 0l1.2 -.2l1.2 -.4l1.3 -.7l1.2 -.3l1.2 -.2l1.3 -.1l1.2 -.3l1.2 -.6l1.2 -.4l1.3 .1l1.2 .1l1.2 -.6l1.3 -.7l1.2 -.2l1.2 -.3l1.2 -.9l1.3 0l1.2 .2l1.2 -.8l1.2 -.9l1.3 -.5l1.2 -.4l1.2 -.9l1.3 -.2l1.2 0l1.2 -.9l1.2 -.4l1.3 -.4l1.2 -1.2l1.2 -.5l1.2 -.1l1.3 -.4l1.2 -.3l1.2 -.7l1.3 -.6l1.2 .2l1.2 -.2l1.2 -.4l1.3 -.5l1.2 -.3l1.2 .2l1.2 -.2l1.3 -.2l1.2 0l1.2 -.7l1.3 -.5l1.2 -.2l1.2 -.6l1.2 -.5l1.3 0l1.2 .3l1.2 -.3l1.2 -.1l1.3 -.3l1.2 -.3l1.2 0l1.3 0l1.2 0l1.2 -.6l1.2 .1l1.3 -.3l1.2 -.3l1.2 .1l1.3 0l1.2 -.2l1.2 -.2l1.2 .2l1.3 .1l1.2 -.3l1.2 -.1l1.2 .4l1.3 -.7l1.2 -.5l1.2 -.5l1.3 -.4l1.2 .3l1.2 -.3l1.2 -.1l1.3 -.2l1.2 -.2l1.2 -.3l1.2 -.7l1.3 -.5l1.2 -.5l1.2 -1.1l1.3 -.4l1.2 -1.1l1.2 -.9l1.2 -.4l1.3 -1.2l1.2 -.8l1.2 -.8l1.2 -.7l1.3 -.9l1.2 -1.2l1.2 -1.1l1.3 -.9l1.2 -.4l1.2 -.8l1.2 -1.5l1.3 -1.8l1.2 -1.6l1.2 -.6l1.2 -.9l1.3 -1.2l1.2 -.9l1.2 -2.1l1.3 -2.7l1.2 -2.3l1.2 -1.3l1.2 -2.7l1.3 -2.5l1.2 -2.5l1.2 -3.8l1.3 -2.8l1.2 -.9l1.2 -.7l1.2 -2.8l1.3 -2.6l1.2 -2l1.2 -2.6l1.2 -2.5l1.3 -3.8l1.2 -4.5l1.2 -4.8l1.3 -5l1.2 -3.8l1.2 -5.3l1.2 -5.6l1.3 -4.7l1.2 -5.9l1.2 -6.4l1.2 -7.1l1.3 -7.1l1.2 -5.6l1.2 -6.7l1.3 -9l1.2 -8.3l1.2 -7.2l1.2 -7.1l1.3 -8.7l1.2 -9.1l1.2 -7.7l1.2 -6.8l1.3 -10.2l1.2 -11.9l1.2 -10.7l1.3 -9.8l1.2 -9.3l1.2 -10.3l1.2 -11.7l1.3 -13.2l1.2 -9.7l1.2 -7.6l1.2 -9.1l1.3 -9.1l1.2 -9.8l1.2 -5.8l1.3 -6.6l1.2 -11.7l1.2 -12.1l1.2 -8.8l1.3 -5.2l1.2 -6.8l1.2 -5l1.2 -5.2l1.3 -7.1l1.2 -8.4l1.2 -5l1.3 -4.1l1.2 -3.9l1.2 -1.3l1.2 -1.8l1.3 -2.3l1.2 -3.8l1.2 -4.9l1.3 -2.3l1.2 .4l1.2 1l1.2 -.8l1.3 2.1l1.2 -.2l1.2 2.1l1.2 3.4l1.3 .1l1.2 .5l1.2 6.8l1.3 6.8l1.2 6l1.2 6.1l1.2 2.9l1.3 5.7l1.2 3.7l1.2 2.9l1.2 6.3l1.3 4.8l1.2 8l1.2 8.5l1.3 7.2l1.2 5.9l1.2 8.3l1.2 8.3l1.3 5l1.2 7.7l1.2 7.5l1.2 4.9l1.3 8.4l1.2 9.8l1.2 4.9l1.3 5.5l1.2 5.6l1.2 6.9l1.2 7.5l1.3 5l1.2 7.9l1.2 5.1l1.2 4.8l1.3 8.8l1.2 7.2l1.2 6.2l1.3 4.8l1.2 6.6l1.2 6l1.2 5.6l1.3 5.2l1.2 4.2l1.2 4.6l1.3 3.3l1.2 4.2l1.2 5.1l1.2 3.3l1.3 2.2l1.2 4.6l1.2 5.2l1.2 3.9l1.3 4.3l1.2 4l1.2 2.7l1.3 3.7l1.2 3.7l1.2 3.1l1.2 3.4l1.3 2.7l1.2 3.7l1.2 4.9l1.2 3.1l1.3 2.1l1.2 2.3l1.2 3.3l1.3 4.2l1.2 3.4l1.2 2.3l1.2 2.6l1.3 2.6l1.2 1.9l1.2 3.2l1.2 3l1.3 2.5l1.2 2.5l1.2 3.1l1.3 3l1.2 1.1l1.2 2.6l1.2 3.3l1.3 1.4l1.2 2.1l1.2 2l1.2 1.6l1.3 .8l1.2 1.3l1.2 1.5l1.3 1.3l1.2 2.8l1.2 1.4l1.2 1.5l1.3 1.1l1.2 1.6l1.2 1.3l1.3 .3l1.2 1.2l1.2 1.3l1.2 1.7l1.3 1.4l1.2 1.3l1.2 1.1l1.2 .8l1.3 .8l1.2 .1l1.2 .7l1.3 2l1.2 .6l1.2 .5l1.2 1.6l1.3 .8l1.2 .9l1.2 .7l1.2 .7l1.3 .7l1.2 1.1l1.2 1l1.3 .8l1.2 .3l1.2 .7l1.2 .7l1.3 .5l1.2 1l1.2 .9l1.2 1.1l1.3 .1l1.2 1l1.2 .9l1.3 .8l1.2 .2l1.2 -.1l1.2 1.8l1.3 .9l1.2 -.2l1.2 -.2l1.2 .8l1.3 1.8l1.2 .1l1.2 .3l1.3 .8l1.2 .5l1.2 .9l1.2 1l1.3 -.3l1.2 -.2l1.2 .9l1.2 .7l1.3 .4l1.2 .6l1.2 .9l1.3 .5l1.2 .5l1.2 0l1.2 .5l1.3 0l1.2 .1l1.2 1l1.3 .5l1.2 -.1l1.2 .9l1.2 .8l1.3 -.6l1.2 .1l1.2 .8l1.2 .7l1.3 -.2l1.2 .4l1.2 .5l1.3 .4l1.2 1.2l1.2 .1l1.2 .1l1.3 .9l1.2 .2l1.2 -.9l1.2 .4l1.3 .8l1.2 .3l1.2 .4l1.3 .2l1.2 .3l1.2 .3l1.2 .3l1.3 .2l1.2 .3l1.2 .7l1.2 .6l1.3 .2l1.2 .1l1.2 -.4l1.3 .2l1.2 .7l1.2 -.2l1.2 0l1.3 .9l1.2 .3l1.2 -.2l1.2 .1l1.3 .5l1.2 .4l1.2 .1l1.3 .6l1.2 -.2l1.2 .3l1.2 .4l1.3 -.6l1.2 0l1.2 .4l1.3 .2l1.2 .1l1.2 -.1l1.2 .1l1.3 .3l1.2 .4l1.2 .3l1.2 .1l1.3 -.1l1.2 -.2l1.2 .4l1.3 .1l1.2 .1l1.2 .4l1.2 0l1.3 .1l1.2 -.3l1.2 .5l1.2 .4l1.3 .1l1.2 .1l1.2 .2l1.3 .6l1.2 -.4l1.2 -.2l1.2 .1l1.3 .3l1.2 .6l1.2 -.3l1.2 .1l1.3 .4l1.2 .2l1.2 .1l1.3 .4l1.2 .2l1.2 -.3l1.2 -.2l1.3 -.1l1.2 .3l1.2 .3l1.2 .1l1.3 -.3l1.2 .2l1.2 .4l1.3 0l1.2 .5l1.2 0l1.2 -.4l1.3 .2l1.2 .6l1.2 0l1.3 -.3l1.2 .3l1.2 .1l1.2 .4l1.3 .5l1.2 -.1l1.2 -.2l1.2 -.1l1.3 -.1l1.2 .4l1.2 .1l1.3 -.3l1.2 .1l1.2 .4l1.2 .4l1.3 .2l1.2 .5l1.2 .1l1.2 0l1.3 -.1l1.2 -.2l1.2 0l1.3 .1l1.2 0l1.2 .3l1.2 .3l1.3 -.1l1.2 -.3l1.2 .6l1.2 .6l1.3 -.2l1.2 0l1.2 .2l1.3 -.1l1.2 .1l1.2 -.1l1.2 -.2l1.3 .1l1.2 .1l1.2 .1l1.2 .8l1.3 .1l1.2 -.4l1.2 -.1l1.3 0l1.2 .4l1.2 .3l1.2 .3l1.3 -.2l1.2 -.3l1.2 -.1l1.2 -.1" stroke="#ff0000" stroke-width="3.0" fill="none" stroke-linejoin="round"/>
<path d="M173.2 1509.8l1.2 .1l1.3 .2l1.2 .4l1.2 -.1l1.2 -.4l1.3 0l1.2 -.2l1.2 -.3l1.2 -.2l1.3 .3l1.2 .2l1.2 .3l1.3 -.4l1.2 -.4l1.2 .3l1.2 .3l1.3 .1l1.2 -.5l1.2 -.1l1.2 .1l1.3 0l1.2 0l1.2 0l1.3 -.3l1.2 -.3l1.2 .2l1.2 .2l1.3 -.2l1.2 .1l1.2 .2l1.3 -.1l1.2 .4l1.2 -.1l1.2 -.1l1.3 0l1.2 -.2l1.2 -.1l1.2 -.2l1.3 .3l1.2 -.1l1.2 -.2l1.3 -.4l1.2 -.5l1.2 .1l1.2 0l1.3 -.4l1.2 .1l1.2 .4l1.2 -.4l1.3 -.1l1.2 .4l1.2 -.2l1.3 -.3l1.2 0l1.2 -.4l1.2 .3l1.3 .3l1.2 -.3l1.2 .2l1.2 .2l1.3 -.3l1.2 -.3l1.2 .2l1.3 -.1l1.2 -.3l1.2 .1l1.2 .1l1.3 -.1l1.2 0l1.2 0l1.2 -.2l1.3 .2l1.2 0l1.2 -.6l1.3 .1l1.2 -.3l1.2 -.3l1.2 -.1l1.3 0l1.2 0l1.2 0l1.3 .2l1.2 -.2l1.2 -.1l1.2 -.1l1.3 0l1.2 0l1.2 -.2l1.2 -.3l1.3 -.1l1.2 0l1.2 -.3l1.3 -.1l1.2 .1l1.2 0l1.2 -.3l1.3 0l1.2 0l1.2 -.2l1.2 .2l1.3 .1l1.2 -.3l1.2 0l1.3 -.4l1.2 0l1.2 .1l1.2 .2l1.3 .2l1.2 -.1l1.2 -.5l1.2 .1l1.3 -.6l1.2 -.3l1.2 .6l1.3 -.3l1.2 -.5l1.2 0l1.2 .3l1.3 0l1.2 -.5l1.2 -.2l1.2 .5l1.3 -.1l1.2 -.8l1.2 .2l1.3 .6l1.2 -.2l1.2 -.7l1.2 -.4l1.3 -.2l1.2 .4l1.2 -.2l1.2 -.7l1.3 -.4l1.2 -.7l1.2 -.1l1.3 -.3l1.2 -.8l1.2 -.2l1.2 .1l1.3 -.4l1.2 -.3l1.2 0l1.3 -.1l1.2 -.1l1.2 -.5l1.2 -1l1.3 -.7l1.2 -.1l1.2 -.3l1.2 -.3l1.3 -.3l1.2 -.4l1.2 -1l1.3 -.6l1.2 -.6l1.2 -.7l1.2 .1l1.3 -.7l1.2 -.6l1.2 -.5l1.2 -.4l1.3 -.7l1.2 -.8l1.2 -.1l1.3 -.4l1.2 -.1l1.2 .4l1.2 -.2l1.3 -1l1.2 -.9l1.2 .2l1.2 0l1.3 -.8l1.2 .1l1.2 .3l1.3 -1.1l1.2 -.9l1.2 .2l1.2 -.3l1.3 .1l1.2 -.1l1.2 -.5l1.2 0l1.3 -.4l1.2 -.3l1.2 .2l1.3 0l1.2 .1l1.2 -.3l1.2 -.7l1.3 .3l1.2 .6l1.2 -.5l1.3 -.6l1.2 -.1l1.2 -.2l1.2 .3l1.3 .3l1.2 -.9l1.2 .2l1.2 0l1.3 -1.2l1.2 -.2l1.2 0l1.3 .2l1.2 .3l1.2 -.7l1.2 -.4l1.3 -.3l1.2 -.6l1.2 -.2l1.2 -.4l1.3 -1l1.2 -.9l1.2 0l1.3 -.5l1.2 -.5l1.2 -.8l1.2 -.8l1.3 -.9l1.2 -1.3l1.2 -.7l1.2 0l1.3 -.4l1.2 -1.5l1.2 -1.2l1.3 -.9l1.2 -1.3l1.2 -.8l1.2 -.4l1.3 -.9l1.2 -1.8l1.2 -1.9l1.2 -.7l1.3 -.9l1.2 -1.9l1.2 -1.1l1.3 -2l1.2 -2.5l1.2 -2.2l1.2 -2.3l1.3 -2.8l1.2 -2l1.2 -1.5l1.3 -2.4l1.2 -2.1l1.2 -1.5l1.2 -2.9l1.3 -2.5l1.2 -1.7l1.2 -2.8l1.2 -2.2l1.3 -3.4l1.2 -5.5l1.2 -3.8l1.3 -3.8l1.2 -3.9l1.2 -4.6l1.2 -7.4l1.3 -5.9l1.2 -4.6l1.2 -6.2l1.2 -6.3l1.3 -7l1.2 -6.9l1.2 -5.8l1.3 -7.2l1.2 -6.2l1.2 -8.1l1.2 -10.2l1.3 -6.6l1.2 -6.2l1.2 -9.9l1.2 -11l1.3 -10.3l1.2 -8l1.2 -7.3l1.3 -10.3l1.2 -12l1.2 -10.6l1.2 -10.2l1.3 -12.5l1.2 -12.8l1.2 -10.4l1.2 -9.6l1.3 -8.7l1.2 -7.4l1.2 -6.5l1.3 -8.6l1.2 -11.5l1.2 -10l1.2 -7.3l1.3 -4.3l1.2 -6.3l1.2 -7.5l1.2 -6.8l1.3 -4.2l1.2 -6.7l1.2 -7.2l1.3 -2.8l1.2 -3.7l1.2 -3.8l1.2 -1.1l1.3 -1.4l1.2 -3.2l1.2 -4.9l1.3 .4l1.2 0l1.2 -1.3l1.2 -.2l1.3 2.9l1.2 -.6l1.2 .1l1.2 5.4l1.3 1.3l1.2 1.9l1.2 4.9l1.3 7.2l1.2 4.7l1.2 3.6l1.2 5l1.3 6.5l1.2 4.5l1.2 -1.6l1.2 5.4l1.3 11.2l1.2 10.4l1.2 8.1l1.3 4.9l1.2 8.2l1.2 8l1.2 7.9l1.3 6.1l1.2 5.9l1.2 9.1l1.2 7.1l1.3 5.1l1.2 6l1.2 4.4l1.3 6.9l1.2 8.7l1.2 6.9l1.2 5.7l1.3 6l1.2 5.9l1.2 6.2l1.2 8.1l1.3 6.8l1.2 4.1l1.2 6.7l1.3 7l1.2 5.1l1.2 7.7l1.2 4.8l1.3 3.9l1.2 3.8l1.2 2.9l1.3 2.9l1.2 5.3l1.2 5.8l1.2 3.9l1.3 3.5l1.2 3.8l1.2 2.5l1.2 3.1l1.3 5.2l1.2 5.7l1.2 3.4l1.3 2.4l1.2 2.2l1.2 2.6l1.2 5l1.3 3.4l1.2 2l1.2 3.3l1.2 3.8l1.3 4.3l1.2 3.8l1.2 2.6l1.3 2.3l1.2 3l1.2 3.9l1.2 2.3l1.3 1.9l1.2 2.2l1.2 1.7l1.2 2.2l1.3 3.2l1.2 2.9l1.2 3.3l1.3 1.8l1.2 1.9l1.2 2.9l1.2 1.8l1.3 2.1l1.2 1.7l1.2 .8l1.2 .9l1.3 1.1l1.2 1.8l1.2 2.4l1.3 1.6l1.2 1.7l1.2 2.5l1.2 .8l1.3 .6l1.2 1.7l1.2 1.6l1.3 .4l1.2 .8l1.2 1.4l1.2 .9l1.3 1.4l1.2 .9l1.2 .5l1.2 1.7l1.3 1.6l1.2 .5l1.2 .6l1.3 .9l1.2 1l1.2 .9l1.2 1.1l1.3 .5l1.2 .2l1.2 .9l1.2 1.6l1.3 1.2l1.2 0l1.2 .7l1.3 .7l1.2 .6l1.2 .6l1.2 1l1.3 1.1l1.2 .2l1.2 .6l1.2 1.3l1.3 1.1l1.2 .4l1.2 .8l1.3 .7l1.2 .4l1.2 .5l1.2 .6l1.3 .6l1.2 .2l1.2 0l1.2 .8l1.3 .5l1.2 .1l1.2 1l1.3 .3l1.2 0l1.2 .7l1.2 1.1l1.3 .6l1.2 .5l1.2 .4l1.2 .4l1.3 1l1.2 .7l1.2 .3l1.3 .3l1.2 .2l1.2 0l1.2 .5l1.3 .7l1.2 .5l1.2 .5l1.3 .6l1.2 .1l1.2 .3l1.2 .4l1.3 .5l1.2 .8l1.2 0l1.2 -.7l1.3 .4l1.2 1.3l1.2 0l1.3 .1l1.2 .8l1.2 .6l1.2 0l1.3 .2l1.2 .7l1.2 .3l1.2 -.2l1.3 0l1.2 .9l1.2 1l1.3 -.4l1.2 -.2l1.2 .1l1.2 .2l1.3 .7l1.2 .4l1.2 .4l1.2 .2l1.3 .2l1.2 0l1.2 .3l1.3 .7l1.2 -.1l1.2 .4l1.2 .6l1.3 -.1l1.2 .5l1.2 0l1.2 -.1l1.3 0l1.2 .1l1.2 .7l1.3 .5l1.2 .1l1.2 -.1l1.2 0l1.3 .1l1.2 0l1.2 .4l1.3 .4l1.2 -.5l1.2 0l1.2 .5l1.3 0l1.2 .4l1.2 .2l1.2 -.1l1.3 .4l1.2 0l1.2 -.3l1.3 .1l1.2 .5l1.2 -.2l1.2 0l1.3 0l1.2 0l1.2 .5l1.2 .6l1.3 .2l1.2 -.2l1.2 .3l1.3 -.2l1.2 .4l1.2 .6l1.2 -.7l1.3 .4l1.2 .9l1.2 .1l1.2 -.3l1.3 -.2l1.2 0l1.2 .3l1.3 .1l1.2 -.1l1.2 .2l1.2 .4l1.3 0l1.2 -.6l1.2 .9l1.2 1.2l1.3 -.4l1.2 -.2l1.2 0l1.3 -.3l1.2 0l1.2 .3l1.2 .4l1.3 .1l1.2 .1l1.2 -.4l1.3 -.3l1.2 .6l1.2 .2l1.2 .2l1.3 .2l1.2 0l1.2 .4l1.2 .1l1.3 0l1.2 0l1.2 .2l1.3 .3l1.2 -.2l1.2 -.4l1.2 .1l1.3 .4l1.2 .5l1.2 .3l1.2 -.2l1.3 -.1l1.2 .1l1.2 -.1l1.3 -.2l1.2 .5l1.2 .5l1.2 .3l1.3 -.1l1.2 -.4l1.2 -.1l1.2 .4l1.3 .4l1.2 .1l1.2 -.5l1.3 -.4l1.2 .6l1.2 .4l1.2 .2l1.3 .2l1.2 -.5l1.2 0l1.2 .6l1.3 0l1.2 .3l1.2 .4l1.3 .3l1.2 -.5l1.2 -.2l1.2 .4l1.3 -.2l1.2 .1l1.2 .4l1.2 0" stroke="#ff0000" stroke-width="3.0" fill="none" stroke-linejoin="round"/>
<path d="M173.2 1510.4l1.2 0l1.3 -.4l1.2 -.2l1.2 .5l1.2 .3l1.3 -.3l1.2 -.6l1.2 -.1l1.2 .2l1.3 -.1l1.2 .1l1.2 .1l1.3 -.2l1.2 .3l1.2 -.2l1.2 0l1.3 .1l1.2 -.5l1.2 .2l1.2 -.1l1.3 -.6l1.2 .1l1.2 .3l1.3 .2l1.2 -.1l1.2 -.1l1.2 .1l1.3 0l1.2 -.6l1.2 .3l1.3 0l1.2 -.1l1.2 .4l1.2 -.1l1.3 -.2l1.2 -.2l1.2 -.4l1.2 -.1l1.3 0l1.2 .2l1.2 .1l1.3 .2l1.2 .2l1.2 -.9l1.2 -.2l1.3 .3l1.2 -.3l1.2 -.1l1.2 .4l1.3 .1l1.2 -.8l1.2 -.3l1.3 .5l1.2 .2l1.2 -.1l1.2 -.1l1.3 -.1l1.2 -.1l1.2 .2l1.2 .3l1.3 -.4l1.2 -.4l1.2 -.1l1.3 -.3l1.2 .1l1.2 -.1l1.2 -.1l1.3 0l1.2 -.2l1.2 .3l1.2 -.2l1.3 -.3l1.2 .1l1.2 0l1.3 0l1.2 .1l1.2 .2l1.2 -.3l1.3 -.5l1.2 0l1.2 -.1l1.3 .3l1.2 -.3l1.2 -.4l1.2 .3l1.3 0l1.2 -.2l1.2 -.1l1.2 -.1l1.3 .2l1.2 -.1l1.2 -.3l1.3 .3l1.2 -.3l1.2 -.3l1.2 -.3l1.3 .1l1.2 0l1.2 -.4l1.2 .4l1.3 -.1l1.2 -.4l1.2 -.1l1.3 .2l1.2 .6l1.2 -.1l1.2 -.6l1.3 -.4l1.2 -.3l1.2 -.2l1.2 .1l1.3 .1l1.2 .1l1.2 -.1l1.3 -.1l1.2 0l1.2 -.1l1.2 -.2l1.3 -.1l1.2 .2l1.2 -.1l1.2 -.3l1.3 -.1l1.2 -.3l1.2 0l1.3 -.1l1.2 -.3l1.2 0l1.2 -.3l1.3 -.6l1.2 -.4l1.2 -.1l1.2 .1l1.3 -.2l1.2 -.4l1.2 -.8l1.3 -.1l1.2 .1l1.2 -1.1l1.2 0l1.3 -.2l1.2 -.9l1.2 -.2l1.3 -.1l1.2 .3l1.2 -.3l1.2 -.7l1.3 -.8l1.2 -.7l1.2 .1l1.2 .5l1.3 -.6l1.2 -1.5l1.2 -.7l1.3 0l1.2 -.6l1.2 -.4l1.2 -.5l1.3 -.3l1.2 -.3l1.2 -.9l1.2 -.8l1.3 -.6l1.2 -.4l1.2 -.4l1.3 -.4l1.2 -.1l1.2 -.5l1.2 -.2l1.3 .3l1.2 -.1l1.2 -.5l1.2 -.8l1.3 -.2l1.2 0l1.2 -.8l1.3 -.8l1.2 .4l1.2 .4l1.2 -.6l1.3 -.5l1.2 0l1.2 .2l1.2 -.8l1.3 -.7l1.2 .1l1.2 -.3l1.3 .1l1.2 .6l1.2 -.1l1.2 -.7l1.3 -.1l1.2 .1l1.2 .3l1.3 -.4l1.2 -.6l1.2 -.4l1.2 -.1l1.3 .7l1.2 0l1.2 -.5l1.2 0l1.3 0l1.2 -.5l1.2 -.3l1.3 0l1.2 -.5l1.2 .1l1.2 .1l1.3 -.3l1.2 -.9l1.2 -.6l1.2 .2l1.3 -1l1.2 -.4l1.2 -.7l1.3 -1.4l1.2 -.4l1.2 -.6l1.2 -.5l1.3 -.8l1.2 0l1.2 -.6l1.2 -1.2l1.3 -.4l1.2 -.9l1.2 -1.3l1.3 -1.4l1.2 -.9l1.2 -.7l1.2 -1.8l1.3 -1.6l1.2 -.4l1.2 -.6l1.2 -1.5l1.3 -1.8l1.2 -1l1.2 -.9l1.3 -2.6l1.2 -1.6l1.2 -1.9l1.2 -2.8l1.3 -1.9l1.2 -2.6l1.2 -3.2l1.3 -2.2l1.2 -1.4l1.2 -2.7l1.2 -2.4l1.3 -1.2l1.2 -2.2l1.2 -2.9l1.2 -2.1l1.3 -1.8l1.2 -3.9l1.2 -4.7l1.3 -5.4l1.2 -4.9l1.2 -4.9l1.2 -5.5l1.3 -4.5l1.2 -5.6l1.2 -6.6l1.2 -5.2l1.3 -5.1l1.2 -6.9l1.2 -7.2l1.3 -6.9l1.2 -7.2l1.2 -8.3l1.2 -7.3l1.3 -8.2l1.2 -8.6l1.2 -7.5l1.2 -9.4l1.3 -8.1l1.2 -8.4l1.2 -8.6l1.3 -7.7l1.2 -10.2l1.2 -12.3l1.2 -11l1.3 -11.8l1.2 -11.9l1.2 -10.1l1.2 -8.1l1.3 -6.5l1.2 -8.5l1.2 -7.8l1.3 -7.7l1.2 -10.7l1.2 -10l1.2 -7l1.3 -9.5l1.2 -7.5l1.2 -3.5l1.2 -5.2l1.3 -8.1l1.2 -5.3l1.2 -2.9l1.3 -5.7l1.2 -4l1.2 -1.1l1.2 -4l1.3 -5.3l1.2 .6l1.2 -1.4l1.3 -4.6l1.2 -3.9l1.2 -1l1.2 3.8l1.3 -1.3l1.2 -.1l1.2 1.5l1.2 .9l1.3 4.4l1.2 3.6l1.2 5.5l1.3 3.5l1.2 2.8l1.2 2.8l1.2 6.5l1.3 6.4l1.2 2.2l1.2 3.1l1.2 4.3l1.3 5.5l1.2 6.9l1.2 10.1l1.3 8.4l1.2 7.4l1.2 5.1l1.2 4.9l1.3 9.6l1.2 8.4l1.2 7l1.2 5.8l1.3 6.6l1.2 7.2l1.2 6.9l1.3 5.8l1.2 4.9l1.2 7.7l1.2 6.1l1.3 5.2l1.2 5.6l1.2 4.7l1.2 7.3l1.3 7.1l1.2 5.3l1.2 7.9l1.3 7.1l1.2 5.9l1.2 5.5l1.2 6.3l1.3 4.4l1.2 3.3l1.2 4.4l1.3 2.4l1.2 4.6l1.2 6l1.2 4.7l1.3 2.6l1.2 3.9l1.2 5.1l1.2 2.5l1.3 1.8l1.2 3.7l1.2 3.4l1.3 3.1l1.2 4.3l1.2 4l1.2 3.6l1.3 3.4l1.2 2.9l1.2 3.4l1.2 4.6l1.3 4l1.2 2.8l1.2 2l1.3 3.2l1.2 2.9l1.2 2l1.2 2.1l1.3 3.3l1.2 3.7l1.2 2.7l1.2 2.7l1.3 2.1l1.2 1.2l1.2 3.6l1.3 3l1.2 .8l1.2 1.6l1.2 1.8l1.3 2.6l1.2 3.3l1.2 2.1l1.2 1l1.3 1.5l1.2 1.1l1.2 1.4l1.3 2.2l1.2 1.2l1.2 .7l1.2 1.6l1.3 2l1.2 1.4l1.2 .9l1.3 .9l1.2 1.6l1.2 1.6l1.2 .7l1.3 0l1.2 .3l1.2 .9l1.2 2.1l1.3 1.6l1.2 .7l1.2 1.2l1.3 1l1.2 .7l1.2 .5l1.2 .4l1.3 .6l1.2 1.3l1.2 1.4l1.2 .4l1.3 .5l1.2 1.2l1.2 1l1.3 1.2l1.2 .6l1.2 .6l1.2 .7l1.3 1.3l1.2 .8l1.2 .1l1.2 .9l1.3 .3l1.2 .7l1.2 .2l1.3 .2l1.2 1.2l1.2 .4l1.2 .5l1.3 1l1.2 .1l1.2 0l1.2 1l1.3 .9l1.2 .6l1.2 .4l1.3 .6l1.2 .4l1.2 .9l1.2 .7l1.3 -.3l1.2 .5l1.2 1.3l1.2 .5l1.3 .3l1.2 .6l1.2 .2l1.3 -.2l1.2 .5l1.2 1.2l1.2 0l1.3 .1l1.2 1.1l1.2 .4l1.3 .3l1.2 0l1.2 .9l1.2 1l1.3 -.4l1.2 .2l1.2 .6l1.2 .9l1.3 0l1.2 0l1.2 .2l1.3 .8l1.2 .6l1.2 -.4l1.2 0l1.3 .5l1.2 .8l1.2 .3l1.2 .2l1.3 .4l1.2 .7l1.2 .3l1.3 -.2l1.2 .2l1.2 .3l1.2 -.1l1.3 -.2l1.2 .5l1.2 .7l1.2 .2l1.3 .2l1.2 .7l1.2 .4l1.3 .2l1.2 -.2l1.2 -.1l1.2 .3l1.3 .5l1.2 .7l1.2 .2l1.2 0l1.3 .4l1.2 -.1l1.2 .4l1.3 .7l1.2 0l1.2 0l1.2 -.1l1.3 -.1l1.2 -.1l1.2 .4l1.3 .5l1.2 0l1.2 -.2l1.2 0l1.3 .3l1.2 0l1.2 .2l1.2 .3l1.3 .7l1.2 .3l1.2 -.1l1.3 .2l1.2 0l1.2 -.2l1.2 -.2l1.3 .5l1.2 .2l1.2 -.2l1.2 .7l1.3 .2l1.2 -.3l1.2 .6l1.3 .1l1.2 -.5l1.2 0l1.2 .4l1.3 .1l1.2 -.2l1.2 .1l1.2 .7l1.3 0l1.2 0l1.2 .4l1.3 -.3l1.2 -.3l1.2 .1l1.2 1l1.3 .2l1.2 -.1l1.2 .3l1.2 -.1l1.3 .2l1.2 -.4l1.2 0l1.3 .4l1.2 .9l1.2 .1l1.2 -.3l1.3 0l1.2 -.2l1.2 .2l1.3 .2l1.2 .1l1.2 .4l1.2 -.2l1.3 -.2l1.2 0l1.2 .4l1.2 .2l1.3 .2l1.2 -.2l1.2 -.3l1.3 .6l1.2 .4l1.2 .2l1.2 -.1l1.3 .2l1.2 .1l1.2 .1l1.2 .3l1.3 -.3l1.2 .1l1.2 .4l1.3 .1l1.2 -.1l1.2 .1l1.2 .3l1.3 -.1l1.2 .1l1.2 -.1l1.2 0l1.3 .2l1.2 .2l1.2 .2l1.3 .2l1.2 .2l1.2 .1l1.2 -.4l1.3 -.3l1.2 .6l1.2 .3l1.2 -.3l1.3 .1l1.2 -.1l1.2 .3l1.3 .4l1.2 .2l1.2 -.1l1.2 -.2l1.3 .3l1.2 -.3l1.2 .1l1.2 .4" stroke="#ff0000" stroke-width="3.0" fill="none" stroke-linejoin="round"/>
<path d="M173.2 1510.4l1.2 -.2l1.3 -.3l1.2 .2l1.2 .2l1.2 -.1l1.3 .3l1.2 -.2l1.2 -.7l1.2 .1l1.3 .4l1.2 0l1.2 -.1l1.3 0l1.2 -.5l1.2 -.1l1.2 .4l1.3 -.2l1.2 .2l1.2 -.3l1.2 -.4l1.3 .3l1.2 0l1.2 .2l1.3 0l1.2 -.4l1.2 0l1.2 .2l1.3 0l1.2 -.4l1.2 .1l1.3 .1l1.2 -.3l1.2 .2l1.2 .3l1.3 -.4l1.2 -.3l1.2 -.1l1.2 .3l1.3 0l1.2 .2l1.2 -.1l1.3 -.4l1.2 .1l1.2 -.1l1.2 -.2l1.3 .2l1.2 -.4l1.2 -.1l1.2 .4l1.3 -.3l1.2 .3l1.2 0l1.3 -.2l1.2 .1l1.2 .1l1.2 -.3l1.3 -.6l1.2 -.2l1.2 .1l1.2 .1l1.3 .3l1.2 0l1.2 -.4l1.3 -.2l1.2 -.3l1.2 .1l1.2 .1l1.3 0l1.2 -.5l1.2 0l1.2 .2l1.3 -.3l1.2 -.3l1.2 .4l1.3 .2l1.2 -.2l1.2 .1l1.2 -.5l1.3 .2l1.2 .1l1.2 -.4l1.3 -.2l1.2 -.1l1.2 0l1.2 0l1.3 -.2l1.2 -.3l1.2 .1l1.2 .7l1.3 -.2l1.2 -.5l1.2 -.1l1.3 -.3l1.2 -.1l1.2 .1l1.2 0l1.3 -.1l1.2 .3l1.2 -.2l1.2 -.3l1.3 0l1.2 -.4l1.2 -.3l1.3 0l1.2 .1l1.2 0l1.2 .2l1.3 -.2l1.2 -.3l1.2 .1l1.2 -.1l1.3 0l1.2 0l1.2 -.2l1.3 .1l1.2 0l1.2 -.2l1.2 0l1.3 -.2l1.2 -.4l1.2 -.7l1.2 .3l1.3 .6l1.2 -.6l1.2 -.5l1.3 -.1l1.2 -.1l1.2 -.2l1.2 -.2l1.3 -.2l1.2 .2l1.2 -.4l1.2 -.5l1.3 -.2l1.2 -.3l1.2 .1l1.3 -.3l1.2 -.5l1.2 -.1l1.2 -.3l1.3 -.5l1.2 -.5l1.2 -.1l1.3 -.1l1.2 -.4l1.2 -.4l1.2 -.5l1.3 -1l1.2 -.4l1.2 .4l1.2 -.9l1.3 -.8l1.2 -.1l1.2 -.5l1.3 -.5l1.2 -.8l1.2 -.6l1.2 -.1l1.3 -.4l1.2 -.6l1.2 -.6l1.2 -.3l1.3 -.6l1.2 -.5l1.2 -.5l1.3 -.8l1.2 .1l1.2 .2l1.2 -.7l1.3 -.1l1.2 0l1.2 -.7l1.2 -.5l1.3 -.3l1.2 .2l1.2 -.5l1.3 -.8l1.2 0l1.2 -.8l1.2 -.6l1.3 .7l1.2 -.4l1.2 -.4l1.2 .4l1.3 0l1.2 -.5l1.2 -.5l1.3 .1l1.2 -.4l1.2 0l1.2 .6l1.3 -.5l1.2 -.6l1.2 .7l1.3 -.2l1.2 -.4l1.2 -.1l1.2 -.2l1.3 -.4l1.2 -.7l1.2 -.2l1.2 .3l1.3 -.5l1.2 -.2l1.2 -.2l1.3 -.1l1.2 .9l1.2 -.5l1.2 -.5l1.3 .2l1.2 -.6l1.2 -.6l1.2 -.8l1.3 -.6l1.2 0l1.2 -.7l1.3 -1.1l1.2 -.5l1.2 -.5l1.2 -.9l1.3 -.2l1.2 -.1l1.2 -1.1l1.2 -1.7l1.3 -.6l1.2 -1l1.2 -1.2l1.3 -.7l1.2 -1.1l1.2 -.7l1.2 -1.1l1.3 -1.1l1.2 -.9l1.2 -1.1l1.2 -1.4l1.3 -1.3l1.2 -.9l1.2 -1.3l1.3 -2.4l1.2 -2.6l1.2 -2.5l1.2 -2.2l1.3 -2.2l1.2 -2l1.2 -2.2l1.3 -3l1.2 -2.3l1.2 -2.3l1.2 -2.8l1.3 -2.3l1.2 -1.1l1.2 -1.2l1.2 -2.4l1.3 -4.1l1.2 -4.5l1.2 -3.6l1.3 -3.8l1.2 -4.8l1.2 -5.3l1.2 -5.7l1.3 -6.8l1.2 -4.2l1.2 -3.6l1.2 -7.1l1.3 -7.6l1.2 -5.7l1.2 -6.5l1.3 -7.7l1.2 -6.4l1.2 -7.5l1.2 -8.1l1.3 -7.6l1.2 -9.6l1.2 -7.7l1.2 -8.2l1.3 -9.6l1.2 -9.2l1.2 -7.5l1.3 -8.1l1.2 -9l1.2 -10.4l1.2 -14l1.3 -13.6l1.2 -11l1.2 -4.7l1.2 -5.5l1.3 -9.5l1.2 -9.3l1.2 -8.5l1.3 -9.5l1.2 -8.4l1.2 -11l1.2 -7.7l1.3 -3.9l1.2 -8.2l1.2 -7.8l1.2 -3.4l1.3 -2.1l1.2 -6.5l1.2 -5.2l1.3 -4.1l1.2 -6.8l1.2 -3.2l1.2 1l1.3 -3.3l1.2 -4.7l1.2 -2.2l1.3 -2.6l1.2 -5.1l1.2 .4l1.2 3l1.3 .8l1.2 -1.1l1.2 2.3l1.2 6.2l1.3 .9l1.2 .9l1.2 4.9l1.3 5.3l1.2 7.1l1.2 4.8l1.2 4.5l1.3 1.7l1.2 4.7l1.2 7.3l1.2 3.7l1.3 5.9l1.2 8.6l1.2 7.5l1.3 5.9l1.2 7.9l1.2 8.4l1.2 5.3l1.3 5.5l1.2 6.2l1.2 7.7l1.2 8.4l1.3 4.3l1.2 4l1.2 8.4l1.3 9.1l1.2 7.1l1.2 5.8l1.2 6.6l1.3 5.5l1.2 6.1l1.2 6.1l1.2 5.8l1.3 5.7l1.2 7.6l1.2 6.2l1.3 3.2l1.2 5.9l1.2 7.5l1.2 5.2l1.3 2.2l1.2 3.2l1.2 5.1l1.3 4.2l1.2 4.5l1.2 3l1.2 3.9l1.3 6.5l1.2 3.1l1.2 1.6l1.2 3.7l1.3 3.8l1.2 3.6l1.2 3.7l1.3 2.6l1.2 2.8l1.2 4.3l1.2 4.1l1.3 3.9l1.2 3.9l1.2 3.6l1.2 3.1l1.3 2.4l1.2 2.4l1.2 2.4l1.3 2.6l1.2 4.2l1.2 3.7l1.2 2l1.3 .6l1.2 2.5l1.2 3.4l1.2 2.2l1.3 2.9l1.2 2.2l1.2 3l1.3 3l1.2 2l1.2 1.5l1.2 .6l1.3 2.4l1.2 3l1.2 1.8l1.2 1.1l1.3 1.1l1.2 1.3l1.2 1.7l1.3 1.8l1.2 .7l1.2 .6l1.2 1.5l1.3 2.2l1.2 1l1.2 -.2l1.3 2.1l1.2 2.1l1.2 .9l1.2 1.2l1.3 .7l1.2 .9l1.2 1.3l1.2 1l1.3 .9l1.2 .9l1.2 .6l1.3 1.2l1.2 .9l1.2 .8l1.2 .7l1.3 .6l1.2 .8l1.2 1.6l1.2 .9l1.3 .3l1.2 .9l1.2 .2l1.3 .3l1.2 1l1.2 .5l1.2 .4l1.3 1l1.2 .8l1.2 .2l1.2 1.3l1.3 1.6l1.2 .7l1.2 .3l1.3 .4l1.2 .1l1.2 .8l1.2 .5l1.3 -.1l1.2 .6l1.2 .9l1.2 1.2l1.3 .1l1.2 .2l1.2 .9l1.3 .4l1.2 .3l1.2 .9l1.2 .5l1.3 .2l1.2 .6l1.2 .4l1.2 .7l1.3 .5l1.2 .4l1.2 .3l1.3 .2l1.2 .7l1.2 .2l1.2 .5l1.3 .9l1.2 0l1.2 .4l1.3 .3l1.2 -.1l1.2 .9l1.2 .8l1.3 -.3l1.2 .2l1.2 1l1.2 .5l1.3 .4l1.2 -.3l1.2 -.1l1.3 .8l1.2 .6l1.2 .5l1.2 -.1l1.3 .8l1.2 .7l1.2 0l1.2 .4l1.3 -.1l1.2 .1l1.2 .2l1.3 -.1l1.2 .8l1.2 .3l1.2 -.1l1.3 .6l1.2 .1l1.2 .1l1.2 .5l1.3 .7l1.2 .1l1.2 -.1l1.3 .2l1.2 .3l1.2 .3l1.2 .1l1.3 .3l1.2 .7l1.2 .3l1.2 -.2l1.3 .2l1.2 .4l1.2 .5l1.3 -.3l1.2 -.2l1.2 .2l1.2 0l1.3 .3l1.2 .1l1.2 -.2l1.3 .4l1.2 .3l1.2 -.2l1.2 0l1.3 .4l1.2 .5l1.2 .2l1.2 .1l1.3 .4l1.2 -.1l1.2 0l1.3 .6l1.2 .3l1.2 -.1l1.2 -.2l1.3 .1l1.2 0l1.2 0l1.2 .6l1.3 -.2l1.2 -.1l1.2 .6l1.3 .2l1.2 .1l1.2 0l1.2 .1l1.3 -.2l1.2 .2l1.2 .4l1.2 0l1.3 0l1.2 .2l1.2 .6l1.3 -.1l1.2 -.2l1.2 .2l1.2 .2l1.3 .3l1.2 -.4l1.2 -.2l1.2 .3l1.3 .2l1.2 .7l1.2 .4l1.3 -.3l1.2 .4l1.2 .2l1.2 -.4l1.3 -.2l1.2 .2l1.2 0l1.3 -.5l1.2 .4l1.2 .5l1.2 0l1.3 -.1l1.2 .7l1.2 .3l1.2 -.2l1.3 .5l1.2 .2l1.2 0l1.3 -.3l1.2 .2l1.2 .5l1.2 0l1.3 -.5l1.2 .3l1.2 .2l1.2 -.3l1.3 .2l1.2 .5l1.2 .3l1.3 -.4l1.2 -.2l1.2 .4l1.2 .2l1.3 .2l1.2 .1l1.2 -.3l1.2 -.1l1.3 .3l1.2 .1l1.2 .3l1.3 .2l1.2 .2l1.2 .6l1.2 -.1l1.3 -.3l1.2 .2l1.2 .2l1.2 .1l1.3 -.2l1.2 .2l1.2 .2l1.3 .1l1.2 .1l1.2 -.3l1.2 .1l1.3 .1l1.2 .1l1.2 .4l1.2 -.8" stroke="#ff0000" stroke-width="3.0" fill="none" stroke-linejoin="round"/>
<path d="M173.2 1509.8l1.2 -.3l1.3 .3l1.2 .3l1.2 .3l1.2 -.3l1.3 -.6l1.2 .2l1.2 .5l1.2 -.3l1.3 -.2l1.2 .1l1.2 .1l1.3 0l1.2 -.1l1.2 .1l1.2 0l1.3 -.2l1.2 -.1l1.2 -.1l1.2 0l1.3 -.2l1.2 0l1.2 .3l1.3 -.4l1.2 -.1l1.2 .3l1.2 .1l1.3 0l1.2 -.4l1.2 -.2l1.3 .2l1.2 .3l1.2 -.2l1.2 -.6l1.3 -.1l1.2 .4l1.2 -.1l1.2 -.1l1.3 .1l1.2 -.2l1.2 -.2l1.3 .3l1.2 .1l1.2 -.5l1.2 -.4l1.3 .1l1.2 .2l1.2 -.4l1.2 .1l1.3 .3l1.2 -.1l1.2 -.4l1.3 0l1.2 .2l1.2 -.1l1.2 0l1.3 -.5l1.2 -.2l1.2 .2l1.2 .1l1.3 .2l1.2 -.3l1.2 -.5l1.3 .3l1.2 .2l1.2 -.1l1.2 -.1l1.3 -.3l1.2 .1l1.2 -.1l1.2 -.6l1.3 .4l1.2 .2l1.2 -.3l1.3 .2l1.2 -.5l1.2 -.6l1.2 .4l1.3 .4l1.2 -.3l1.2 -.4l1.3 -.2l1.2 .1l1.2 .4l1.2 .3l1.3 -.3l1.2 -.5l1.2 -.3l1.2 -.2l1.3 .1l1.2 .2l1.2 -.3l1.3 -.1l1.2 0l1.2 .4l1.2 -.2l1.3 -.6l1.2 .1l1.2 -.2l1.2 0l1.3 .4l1.2 0l1.2 -.7l1.3 -.1l1.2 .2l1.2 0l1.2 0l1.3 -.1l1.2 .1l1.2 -.2l1.2 -.2l1.3 .2l1.2 -.5l1.2 -.2l1.3 0l1.2 -.4l1.2 -.4l1.2 .3l1.3 .2l1.2 -.2l1.2 .2l1.2 -.2l1.3 -.1l1.2 .1l1.2 -.4l1.3 -.4l1.2 -.4l1.2 -.2l1.2 -.3l1.3 -.2l1.2 .1l1.2 -.6l1.2 -.1l1.3 -.3l1.2 -.6l1.2 0l1.3 0l1.2 -.4l1.2 -.6l1.2 -.2l1.3 -.1l1.2 -.1l1.2 -.4l1.3 -.9l1.2 -.5l1.2 -.2l1.2 -.3l1.3 -.8l1.2 -.5l1.2 -.1l1.2 -.3l1.3 -.5l1.2 -.5l1.2 -.3l1.3 -.7l1.2 -.5l1.2 -.4l1.2 -.5l1.3 -.6l1.2 -.7l1.2 -.1l1.2 -.3l1.3 -1.1l1.2 -.7l1.2 -.1l1.3 -.1l1.2 .1l1.2 -.3l1.2 -.5l1.3 -.3l1.2 -.3l1.2 -.1l1.2 -.8l1.3 -.2l1.2 -.9l1.2 -.7l1.3 .5l1.2 -.3l1.2 -.3l1.2 -.3l1.3 .4l1.2 .2l1.2 -.1l1.2 -.6l1.3 -.3l1.2 .1l1.2 -.3l1.3 -.1l1.2 -.1l1.2 .1l1.2 .1l1.3 -.5l1.2 -.5l1.2 0l1.3 -.2l1.2 -.3l1.2 -.1l1.2 -.3l1.3 .5l1.2 .1l1.2 -.1l1.2 -.3l1.3 -.9l1.2 .1l1.2 .1l1.3 -.4l1.2 0l1.2 .1l1.2 -.5l1.3 .2l1.2 -.4l1.2 -1.3l1.2 -.7l1.3 -.6l1.2 .1l1.2 -.8l1.3 -.7l1.2 .4l1.2 -.9l1.2 -1.4l1.3 -.8l1.2 -1l1.2 -1.2l1.2 -.9l1.3 0l1.2 -.8l1.2 -1.4l1.3 -.7l1.2 -.9l1.2 -1.1l1.2 -1.3l1.3 -.8l1.2 -.2l1.2 -1.4l1.2 -1.6l1.3 -1.1l1.2 -1.7l1.2 -1l1.3 -1.9l1.2 -2.1l1.2 -1.8l1.2 -2.4l1.3 -2.3l1.2 -2.8l1.2 -2.5l1.3 -2l1.2 -2.3l1.2 -1.9l1.2 -2.4l1.3 -2.6l1.2 -2.1l1.2 -2.3l1.2 -2l1.3 -2.8l1.2 -4.4l1.2 -3.8l1.3 -4.5l1.2 -4.2l1.2 -3.7l1.2 -4.7l1.3 -5.8l1.2 -5.3l1.2 -5.8l1.2 -5.8l1.3 -5.4l1.2 -6.9l1.2 -7.1l1.3 -6.3l1.2 -7.2l1.2 -8.1l1.2 -6.9l1.3 -5.9l1.2 -8.7l1.2 -9.2l1.2 -7.3l1.3 -8.3l1.2 -7.1l1.2 -9l1.3 -9.4l1.2 -8.7l1.2 -11.1l1.2 -9.7l1.3 -11.4l1.2 -12.7l1.2 -8.5l1.2 -7.3l1.3 -8.2l1.2 -7.2l1.2 -6.8l1.3 -8.9l1.2 -7.7l1.2 -7.6l1.2 -11.5l1.3 -10.2l1.2 -4.4l1.2 -5.3l1.2 -5.5l1.3 -4l1.2 -6.5l1.2 -6.6l1.3 -5.1l1.2 -3.7l1.2 -5.4l1.2 -3.6l1.3 -1l1.2 -1.7l1.2 -2.2l1.3 -2.1l1.2 -1.6l1.2 -2.3l1.2 1l1.3 -1l1.2 2.3l1.2 2.4l1.2 .1l1.3 2.3l1.2 -.9l1.2 4l1.3 9.5l1.2 3.2l1.2 1.9l1.2 7.9l1.3 4.7l1.2 3.9l1.2 5.4l1.2 1.8l1.3 5.4l1.2 6.9l1.2 5.1l1.3 7.4l1.2 9.2l1.2 6.3l1.2 5.6l1.3 6.8l1.2 5.4l1.2 9.5l1.2 10.4l1.3 5.4l1.2 6.2l1.2 6.5l1.3 6l1.2 4.7l1.2 4l1.2 7.1l1.3 4.8l1.2 3.8l1.2 8.1l1.2 7.1l1.3 6.1l1.2 5.7l1.2 5.6l1.3 6.6l1.2 6.2l1.2 5.7l1.2 5.4l1.3 5.8l1.2 4.6l1.2 4.3l1.3 4l1.2 3.6l1.2 3.8l1.2 4.8l1.3 4.7l1.2 1.4l1.2 2.5l1.2 5.1l1.3 3.3l1.2 1.7l1.2 3.3l1.3 5.4l1.2 4.6l1.2 3.9l1.2 3.5l1.3 1.7l1.2 1.9l1.2 3.6l1.2 4.6l1.3 4.3l1.2 2.1l1.2 1.7l1.3 3l1.2 2.8l1.2 1.7l1.2 2.9l1.3 3.4l1.2 2.2l1.2 2l1.2 2.8l1.3 3.3l1.2 2l1.2 2.3l1.3 3l1.2 2.2l1.2 1.8l1.2 2.5l1.3 2.6l1.2 2l1.2 1.6l1.2 .9l1.3 .8l1.2 2.8l1.2 1.9l1.3 .4l1.2 1.4l1.2 1.1l1.2 1.7l1.3 2.6l1.2 .8l1.2 .4l1.3 1.2l1.2 1l1.2 1.5l1.2 1.2l1.3 1.1l1.2 1.1l1.2 1.1l1.2 .9l1.3 .6l1.2 1.2l1.2 .9l1.3 .1l1.2 1l1.2 1.8l1.2 .2l1.3 -.2l1.2 1.2l1.2 1.3l1.2 .6l1.3 1l1.2 .8l1.2 .7l1.3 1.7l1.2 .8l1.2 -.1l1.2 .1l1.3 .8l1.2 1.5l1.2 .6l1.2 .5l1.3 .8l1.2 .3l1.2 .4l1.3 1.2l1.2 .7l1.2 .2l1.2 1l1.3 1.3l1.2 .2l1.2 .2l1.2 .8l1.3 .5l1.2 .6l1.2 -.2l1.3 .1l1.2 .8l1.2 .7l1.2 .5l1.3 1.1l1.2 .8l1.2 -.4l1.2 .5l1.3 .5l1.2 .8l1.2 .6l1.3 -.3l1.2 .3l1.2 .5l1.2 .7l1.3 .1l1.2 .5l1.2 .9l1.3 .2l1.2 .2l1.2 .2l1.2 .6l1.3 .4l1.2 0l1.2 .9l1.2 .4l1.3 .2l1.2 .1l1.2 -.3l1.3 1l1.2 1.2l1.2 .3l1.2 -.2l1.3 .2l1.2 .3l1.2 -.1l1.2 .2l1.3 .5l1.2 .8l1.2 .3l1.3 -.1l1.2 .4l1.2 .2l1.2 0l1.3 .6l1.2 .4l1.2 .4l1.2 .3l1.3 -.1l1.2 0l1.2 .3l1.3 .5l1.2 .4l1.2 .3l1.2 0l1.3 .4l1.2 .3l1.2 .1l1.2 .4l1.3 .2l1.2 -.3l1.2 -.1l1.3 .3l1.2 .8l1.2 .5l1.2 .1l1.3 0l1.2 -.1l1.2 -.2l1.3 .3l1.2 .4l1.2 -.2l1.2 .1l1.3 .7l1.2 0l1.2 0l1.2 .2l1.3 -.3l1.2 0l1.2 .5l1.3 .3l1.2 .2l1.2 -.2l1.2 -.2l1.3 .4l1.2 .1l1.2 -.1l1.2 .4l1.3 .2l1.2 -.3l1.2 .3l1.3 .2l1.2 0l1.2 .6l1.2 .2l1.3 .2l1.2 0l1.2 0l1.2 .3l1.3 0l1.2 -.3l1.2 -.1l1.3 .5l1.2 -.1l1.2 .3l1.2 .3l1.3 -.2l1.2 .2l1.2 .1l1.2 .3l1.3 -.1l1.2 -.1l1.2 .3l1.3 .1l1.2 .2l1.2 -.4l1.2 .1l1.3 .9l1.2 .2l1.2 .5l1.3 -.1l1.2 -.4l1.2 .3l1.2 .1l1.3 0l1.2 -.5l1.2 .4l1.2 .4l1.3 -.2l1.2 .1l1.2 .2l1.3 .1l1.2 -.1l1.2 .3l1.2 .9l1.3 -.1l1.2 -.3l1.2 -.1l1.2 .1l1.3 .4l1.2 .5l1.2 0l1.3 -.4l1.2 -.1l1.2 0l1.2 .3l1.3 .1l1.2 .6l1.2 -.1l1.2 -.3l1.3 .2l1.2 .1l1.2 .2l1.3 .2l1.2 0l1.2 0l1.2 -.2l1.3 .1l1.2 .3l1.2 .3l1.2 -.2l1.3 -.4l1.2 .3l1.2 .6l1.3 .1l1.2 .1l1.2 .3l1.2 -.1l1.3 .3l1.2 -.1l1.2 -.5l1.2 .2" stroke="#ff0000" stroke-width="3.0" fill="none" stroke-linejoin="round"/>
<path d="M173.2 1510.8l1.2 .4l1.3 -.4l1.2 -.6l1.2 -.2l1.2 .1l1.3 .1l1.2 0l1.2 -.1l1.2 -.2l1.3 0l1.2 -.1l1.2 -.2l1.3 .2l1.2 .5l1.2 -.6l1.2 -.1l1.3 .4l1.2 -.4l1.2 -.1l1.2 -.1l1.3 -.1l1.2 0l1.2 -.1l1.3 0l1.2 .1l1.2 .2l1.2 -.2l1.3 .1l1.2 -.3l1.2 -.2l1.3 .3l1.2 -.4l1.2 0l1.2 .5l1.3 -.3l1.2 -.1l1.2 0l1.2 -.1l1.3 -.2l1.2 0l1.2 -.1l1.3 0l1.2 .1l1.2 -.1l1.2 -.3l1.3 0l1.2 -.2l1.2 -.1l1.2 .4l1.3 -.3l1.2 -.1l1.2 -.1l1.3 .3l1.2 .3l1.2 -.3l1.2 -.4l1.3 .1l1.2 0l1.2 -.6l1.2 0l1.3 .1l1.2 .1l1.2 -.4l1.3 -.2l1.2 .3l1.2 -.1l1.2 .1l1.3 -.1l1.2 -.2l1.2 .2l1.2 -.2l1.3 -.4l1.2 .2l1.2 .2l1.3 0l1.2 -.1l1.2 -.5l1.2 -.6l1.3 .3l1.2 .2l1.2 -.2l1.3 -.3l1.2 -.2l1.2 .4l1.2 .2l1.3 -.1l1.2 -.4l1.2 0l1.2 .6l1.3 -.3l1.2 -.2l1.2 -.2l1.3 -.3l1.2 -.1l1.2 .1l1.2 -.2l1.3 .2l1.2 -.2l1.2 -.2l1.2 .1l1.3 -.5l1.2 .3l1.2 -.2l1.3 -.4l1.2 .1l1.2 -.1l1.2 0l1.3 -.2l1.2 -.2l1.2 .4l1.2 -.2l1.3 -.6l1.2 .2l1.2 .1l1.3 .1l1.2 -.3l1.2 0l1.2 .3l1.3 -.4l1.2 -.4l1.2 .1l1.2 -.4l1.3 -.2l1.2 .2l1.2 -.2l1.3 -.1l1.2 -.1l1.2 -.5l1.2 -.1l1.3 .1l1.2 -.1l1.2 -.4l1.2 -.7l1.3 -.3l1.2 -.4l1.2 -.1l1.3 -.3l1.2 -.2l1.2 0l1.2 -.5l1.3 -.7l1.2 .1l1.2 .1l1.3 -.6l1.2 -.6l1.2 -.5l1.2 -.4l1.3 -.7l1.2 -.5l1.2 -.1l1.2 -.2l1.3 -.1l1.2 -.6l1.2 -1.1l1.3 -.3l1.2 -.1l1.2 -.5l1.2 -.6l1.3 -1l1.2 -.2l1.2 -.2l1.2 -.8l1.3 -.5l1.2 -.3l1.2 -.5l1.3 -.6l1.2 -.5l1.2 -.1l1.2 .1l1.3 -.3l1.2 -.1l1.2 -1l1.2 -.8l1.3 .3l1.2 0l1.2 -.4l1.3 -.7l1.2 -.6l1.2 .1l1.2 .3l1.3 -.1l1.2 -.9l1.2 0l1.2 .4l1.3 .1l1.2 -.3l1.2 -.6l1.3 -.5l1.2 .4l1.2 .6l1.2 -.4l1.3 -.6l1.2 -.4l1.2 .4l1.3 -.3l1.2 .3l1.2 -.3l1.2 -1.2l1.3 .6l1.2 .4l1.2 -.2l1.2 -.4l1.3 -.7l1.2 .2l1.2 -.5l1.3 -.2l1.2 0l1.2 -.3l1.2 -.1l1.3 -.2l1.2 -.4l1.2 -.2l1.2 -.4l1.3 -.7l1.2 -1l1.2 -1.2l1.3 -.5l1.2 -.1l1.2 -.4l1.2 -.7l1.3 -.5l1.2 -.5l1.2 -1.3l1.2 -1.4l1.3 -1.1l1.2 -.8l1.2 -.3l1.3 -1.1l1.2 -1.3l1.2 -.7l1.2 -1.5l1.3 -1.1l1.2 -1l1.2 -1l1.2 -.8l1.3 -1.3l1.2 -1.2l1.2 -1.2l1.3 -2.1l1.2 -2.6l1.2 -2.1l1.2 -1.5l1.3 -1.6l1.2 -2.9l1.2 -3.9l1.3 -1.5l1.2 -1.5l1.2 -3.1l1.2 -1.7l1.3 -1.2l1.2 -2.7l1.2 -2.1l1.2 -1.3l1.3 -3l1.2 -3.1l1.2 -3.8l1.3 -6.1l1.2 -4.8l1.2 -4.2l1.2 -5.1l1.3 -5l1.2 -5l1.2 -5.6l1.2 -5.4l1.3 -6.3l1.2 -6.9l1.2 -6.7l1.3 -6.5l1.2 -7.7l1.2 -7.3l1.2 -6l1.3 -8.2l1.2 -7.6l1.2 -8.5l1.2 -10.8l1.3 -5.9l1.2 -5.4l1.2 -9.5l1.3 -10.4l1.2 -9.2l1.2 -8.6l1.2 -8.9l1.3 -9.9l1.2 -13l1.2 -9.7l1.2 -4.9l1.3 -8.8l1.2 -10.8l1.2 -8.1l1.3 -6.9l1.2 -8.9l1.2 -6.5l1.2 -8.3l1.3 -11l1.2 -4.8l1.2 -3.6l1.2 -5.1l1.3 -8.2l1.2 -5.3l1.2 -1.2l1.3 -6.8l1.2 -4l1.2 -2.2l1.2 -3.7l1.3 -2.7l1.2 -1.9l1.2 -3.6l1.3 -5.2l1.2 -2.2l1.2 -.3l1.2 1.3l1.3 2.3l1.2 2l1.2 0l1.2 1.8l1.3 3.7l1.2 4.1l1.2 2.5l1.3 0l1.2 5l1.2 6.3l1.2 5.8l1.3 4.8l1.2 2.6l1.2 1.9l1.2 4.6l1.3 6.4l1.2 5.4l1.2 6.2l1.3 11.6l1.2 9.5l1.2 6.6l1.2 8.8l1.3 4.6l1.2 4.4l1.2 7l1.2 5.6l1.3 6.1l1.2 6.7l1.2 5.7l1.3 7.3l1.2 4.4l1.2 4.4l1.2 7.9l1.3 6.2l1.2 6.1l1.2 5.6l1.2 4.9l1.3 7.4l1.2 7.3l1.2 3.3l1.3 6l1.2 7.1l1.2 5.6l1.2 6.9l1.3 3.4l1.2 4.8l1.2 3.2l1.3 2.5l1.2 5.2l1.2 3l1.2 4.2l1.3 3.9l1.2 3.2l1.2 4l1.2 3.6l1.3 4.2l1.2 3.7l1.2 2.6l1.3 3.3l1.2 4.3l1.2 3.7l1.2 4.2l1.3 2.1l1.2 2l1.2 4.5l1.2 3.3l1.3 2.1l1.2 3l1.2 3.1l1.3 2.5l1.2 2.4l1.2 2.7l1.2 2.4l1.3 2.2l1.2 2.9l1.2 2.7l1.2 2.7l1.3 2.1l1.2 1.4l1.2 2.5l1.3 2.7l1.2 1.9l1.2 2.7l1.2 2.6l1.3 1.4l1.2 1.8l1.2 1.5l1.2 1.6l1.3 1.2l1.2 1.2l1.2 2.3l1.3 2.1l1.2 .8l1.2 1l1.2 1.9l1.3 1.5l1.2 1.7l1.2 .5l1.3 .9l1.2 1.6l1.2 1.3l1.2 1.5l1.3 .7l1.2 .7l1.2 .5l1.2 .6l1.3 1.1l1.2 .5l1.2 .9l1.3 1.7l1.2 .6l1.2 0l1.2 1.2l1.3 .9l1.2 .5l1.2 1.3l1.2 1.5l1.3 .9l1.2 .5l1.2 .2l1.3 .8l1.2 .7l1.2 .1l1.2 1.1l1.3 1.1l1.2 .9l1.2 .5l1.2 .5l1.3 .7l1.2 .7l1.2 .6l1.3 .1l1.2 .6l1.2 1.3l1.2 .8l1.3 .2l1.2 .4l1.2 .6l1.2 .4l1.3 .7l1.2 1l1.2 .4l1.3 .5l1.2 .3l1.2 .2l1.2 .8l1.3 .2l1.2 .6l1.2 .1l1.2 .4l1.3 .7l1.2 .2l1.2 0l1.3 .3l1.2 .4l1.2 .5l1.2 1.3l1.3 .5l1.2 0l1.2 .4l1.3 .3l1.2 .2l1.2 .8l1.2 .6l1.3 0l1.2 .8l1.2 .4l1.2 -.1l1.3 .3l1.2 .4l1.2 .4l1.3 .3l1.2 .2l1.2 .6l1.2 -.1l1.3 .4l1.2 .4l1.2 .2l1.2 .7l1.3 0l1.2 .3l1.2 .8l1.3 .2l1.2 -.3l1.2 .5l1.2 .1l1.3 -.3l1.2 .4l1.2 .4l1.2 .7l1.3 .5l1.2 -.1l1.2 0l1.3 .2l1.2 .4l1.2 .5l1.2 -.3l1.3 .4l1.2 .8l1.2 .2l1.2 -.1l1.3 0l1.2 .3l1.2 -.3l1.3 .8l1.2 .8l1.2 0l1.2 .3l1.3 0l1.2 0l1.2 -.5l1.3 0l1.2 .3l1.2 -.2l1.2 .2l1.3 .5l1.2 -.1l1.2 .1l1.2 .6l1.3 .7l1.2 .1l1.2 -.4l1.3 .2l1.2 0l1.2 -.5l1.2 .1l1.3 1.1l1.2 .4l1.2 -.2l1.2 -.2l1.3 -.2l1.2 .3l1.2 .3l1.3 .2l1.2 .3l1.2 .1l1.2 0l1.3 .2l1.2 -.3l1.2 .1l1.2 .2l1.3 0l1.2 .4l1.2 .1l1.3 0l1.2 .1l1.2 .1l1.2 -.1l1.3 0l1.2 .4l1.2 .4l1.2 -.4l1.3 0l1.2 .5l1.2 .1l1.3 .2l1.2 .4l1.2 .1l1.2 0l1.3 -.2l1.2 -.6l1.2 .5l1.3 .5l1.2 -.2l1.2 .4l1.2 .4l1.3 0l1.2 -.3l1.2 -.1l1.2 .5l1.3 .3l1.2 -.1l1.2 .1l1.3 .5l1.2 .1l1.2 -.3l1.2 0l1.3 .1l1.2 .3l1.2 .2l1.2 -.2l1.3 -.5l1.2 .4l1.2 .4l1.3 -.3l1.2 .4l1.2 1l1.2 -.1l1.3 -.4l1.2 .3l1.2 -.1l1.2 .1l1.3 .4l1.2 -.3l1.2 -.3l1.3 .1l1.2 .1l1.2 .3l1.2 .1l1.3 -.2l1.2 -.1l1.2 .2l1.2 .2l1.3 .3l1.2 0l1.2 -.4l1.3 0l1.2 .4l1.2 .8l1.2 .3l1.3 -.4l1.2 .2l1.2 .2l1.2 -.5" stroke="#ff0000" stroke-width="3.0" fill="none" stroke-linejoin="round"/>
<path d="M173.2 1507.5l1.2 .7l1.3 0l1.2 -.6l1.2 .1l1.2 -.4l1.3 -.6l1.2 .1l1.2 -.2l1.2 .1l1.3 .8l1.2 .3l1.2 -.6l1.3 .2l1.2 .1l1.2 -.1l1.2 -.3l1.3 -.6l1.2 .2l1.2 -.1l1.2 -.3l1.3 .1l1.2 .2l1.2 -.3l1.3 0l1.2 .3l1.2 .1l1.2 .1l1.3 .2l1.2 -.4l1.2 -.3l1.3 .3l1.2 -.3l1.2 -.6l1.2 .3l1.3 .7l1.2 -.1l1.2 -.3l1.2 -.1l1.3 -.1l1.2 -.2l1.2 .4l1.3 .3l1.2 -.3l1.2 -.1l1.2 .1l1.3 .3l1.2 .2l1.2 -.3l1.2 -1.1l1.3 -.6l1.2 .7l1.2 .6l1.3 -.3l1.2 .5l1.2 -.1l1.2 -1.1l1.3 .3l1.2 1l1.2 .5l1.2 -.9l1.3 -.4l1.2 .2l1.2 -.4l1.3 -.1l1.2 .3l1.2 .1l1.2 .5l1.3 -.6l1.2 -1.1l1.2 .6l1.2 .3l1.3 .1l1.2 -.2l1.2 -.3l1.3 .3l1.2 .1l1.2 -.6l1.2 -.3l1.3 .1l1.2 .2l1.2 -.9l1.3 -.5l1.2 1.3l1.2 -.4l1.2 -.2l1.3 0l1.2 -.8l1.2 -.4l1.2 .4l1.3 1.1l1.2 -.4l1.2 -.9l1.3 0l1.2 .1l1.2 -.6l1.2 -.4l1.3 .8l1.2 .1l1.2 .1l1.2 .1l1.3 0l1.2 .1l1.2 -.4l1.3 .2l1.2 -.6l1.2 -.9l1.2 0l1.3 .4l1.2 -.9l1.2 -.7l1.2 .5l1.3 0l1.2 -.8l1.2 0l1.3 .2l1.2 -.1l1.2 -.6l1.2 -.4l1.3 .6l1.2 -.8l1.2 -.8l1.2 -.3l1.3 -.3l1.2 -.7l1.2 .3l1.3 .2l1.2 -.9l1.2 -.4l1.2 -.6l1.3 -.6l1.2 -.1l1.2 -.5l1.2 0l1.3 0l1.2 -.4l1.2 -.8l1.3 -.4l1.2 .4l1.2 -.9l1.2 -.8l1.3 .2l1.2 -.5l1.2 -1.5l1.3 -.5l1.2 .6l1.2 -.3l1.2 -.4l1.3 -.1l1.2 -1.3l1.2 -1l1.2 -.7l1.3 .2l1.2 .3l1.2 -.3l1.3 -.9l1.2 -.6l1.2 .5l1.2 -.4l1.3 -1.2l1.2 -1.1l1.2 -.3l1.2 -1l1.3 -.4l1.2 .4l1.2 -1.1l1.3 -.2l1.2 1.2l1.2 -1.1l1.2 -.4l1.3 .3l1.2 .7l1.2 .3l1.2 -.4l1.3 -.7l1.2 -.5l1.2 -.1l1.3 .1l1.2 .2l1.2 -.7l1.2 .4l1.3 .6l1.2 -1.2l1.2 -.3l1.2 -.7l1.3 -.7l1.2 .7l1.2 .4l1.3 .1l1.2 -.2l1.2 .8l1.2 .3l1.3 -.6l1.2 -.8l1.2 -.1l1.3 1.6l1.2 -.3l1.2 -1.3l1.2 -.3l1.3 -.4l1.2 .8l1.2 .7l1.2 -.4l1.3 -.5l1.2 -.4l1.2 -.3l1.3 -.1l1.2 -.8l1.2 -.1l1.2 .4l1.3 -.7l1.2 -1.1l1.2 -.4l1.2 .9l1.3 -.2l1.2 -1.1l1.2 -.9l1.3 .8l1.2 .2l1.2 -1.8l1.2 -.7l1.3 -.2l1.2 0l1.2 -.7l1.2 .2l1.3 -.4l1.2 -.6l1.2 -.2l1.3 -2l1.2 -1.5l1.2 -.4l1.2 -1.2l1.3 -.7l1.2 -.3l1.2 -.1l1.2 -.1l1.3 -2.1l1.2 -.7l1.2 -.6l1.3 -1.5l1.2 -1.2l1.2 -.2l1.2 -.6l1.3 -1l1.2 0l1.2 -2.4l1.3 -2.3l1.2 0l1.2 -.8l1.2 -1.2l1.3 0l1.2 -1.4l1.2 -.2l1.2 .5l1.3 0l1.2 -2.1l1.2 -2.6l1.3 -.8l1.2 -1.9l1.2 -1.5l1.2 -1.8l1.3 -1.3l1.2 -1.9l1.2 -.1l1.2 -1.2l1.3 -3.6l1.2 -.4l1.2 -1.9l1.3 -1.6l1.2 -2.2l1.2 -2.9l1.2 .2l1.3 -.2l1.2 -1.4l1.2 -1.5l1.2 -.9l1.3 -1.4l1.2 -2.6l1.2 -.9l1.3 .5l1.2 -3.4l1.2 -2.3l1.2 -.1l1.3 -1l1.2 -.2l1.2 -2.5l1.2 -3.1l1.3 -.1l1.2 .5l1.2 -2.1l1.3 -2.5l1.2 -.7l1.2 -1.3l1.2 -1.4l1.3 1.2l1.2 -.3l1.2 -1.7l1.2 -1l1.3 -.1l1.2 -1.3l1.2 -.2l1.3 -.6l1.2 -1.6l1.2 1.8l1.2 1.3l1.3 1.2l1.2 1.5l1.2 .6l1.3 -1.3l1.2 -.8l1.2 2l1.2 1.2l1.3 .5l1.2 -1l1.2 .3l1.2 1.4l1.3 .3l1.2 1l1.2 .9l1.3 2.3l1.2 4.2l1.2 .7l1.2 -.7l1.3 3.6l1.2 2l1.2 -.5l1.2 1.6l1.3 1.7l1.2 2.2l1.2 2.2l1.3 1.1l1.2 -.8l1.2 .4l1.2 3.1l1.3 2.2l1.2 .9l1.2 .5l1.2 1.6l1.3 2.4l1.2 1.8l1.2 1.5l1.3 1.9l1.2 -.2l1.2 .3l1.2 1.1l1.3 .9l1.2 1.7l1.2 1.3l1.2 .9l1.3 -.4l1.2 .7l1.2 3l1.3 .7l1.2 .9l1.2 2.7l1.2 1.4l1.3 .5l1.2 -3.3l1.2 -4.1l1.3 -2.5l1.2 4.8l1.2 4.6l1.2 3.3l1.3 1.7l1.2 .7l1.2 1.8l1.2 1.7l1.3 .6l1.2 .1l1.2 1.3l1.3 1.2l1.2 .1l1.2 .7l1.2 2.1l1.3 .2l1.2 .1l1.2 2.5l1.2 -.1l1.3 -1.4l1.2 1.1l1.2 1.8l1.3 1.4l1.2 .5l1.2 1.2l1.2 0l1.3 -.9l1.2 1.4l1.2 0l1.2 -.5l1.3 .6l1.2 .7l1.2 .7l1.3 .6l1.2 1.7l1.2 .7l1.2 .7l1.3 .9l1.2 -.2l1.2 .5l1.2 1l1.3 -.5l1.2 -.2l1.2 .8l1.3 .2l1.2 .9l1.2 .4l1.2 .2l1.3 .2l1.2 -.3l1.2 .6l1.3 -.3l1.2 .3l1.2 .9l1.2 .3l1.3 .3l1.2 -.2l1.2 -.6l1.2 .7l1.3 1.4l1.2 .5l1.2 .2l1.3 -.5l1.2 .5l1.2 1.4l1.2 1.3l1.3 -.3l1.2 -1l1.2 .3l1.2 .4l1.3 0l1.2 .5l1.2 .3l1.3 .3l1.2 .4l1.2 -1.3l1.2 -.1l1.3 1.2l1.2 .5l1.2 .2l1.2 -.4l1.3 .6l1.2 .8l1.2 0l1.3 -.3l1.2 -.2l1.2 1l1.2 1.2l1.3 -.4l1.2 -1.2l1.2 .7l1.2 .1l1.3 .5l1.2 1.4l1.2 .3l1.3 -.7l1.2 -.4l1.2 .1l1.2 1.2l1.3 .2l1.2 -1.1l1.2 -.3l1.2 0l1.3 1.4l1.2 -.3l1.2 -.5l1.3 .3l1.2 .6l1.2 .5l1.2 -.7l1.3 -.1l1.2 .2l1.2 1.1l1.3 .6l1.2 0l1.2 -.1l1.2 .5l1.3 -.5l1.2 -.3l1.2 .5l1.2 .2l1.3 -.5l1.2 -1.1l1.2 1.8l1.3 1.5l1.2 -.8l1.2 .1l1.2 .3l1.3 -.9l1.2 .4l1.2 .7l1.2 -.1l1.3 -.2l1.2 -.4l1.2 -.1l1.3 1l1.2 .8l1.2 -.5l1.2 -.9l1.3 .4l1.2 .9l1.2 0l1.2 -.1l1.3 -.1l1.2 .1l1.2 0l1.3 .3l1.2 -.2l1.2 -.5l1.2 .4l1.3 .3l1.2 .6l1.2 .6l1.2 -.3l1.3 -.2l1.2 .3l1.2 -.6l1.3 .1l1.2 .2l1.2 -.8l1.2 .2l1.3 1l1.2 .3l1.2 .1l1.3 .2l1.2 -.1l1.2 .7l1.2 .3l1.3 -.5l1.2 -.2l1.2 .1l1.2 .3l1.3 .3l1.2 -.3l1.2 .2l1.3 .7l1.2 -.1l1.2 0l1.2 .6l1.3 -.3l1.2 -.8l1.2 .3l1.2 .5l1.3 .1l1.2 -.2l1.2 .5l1.3 .4l1.2 -.7l1.2 .4l1.2 .3l1.3 .5l1.2 0l1.2 -1.3l1.2 .1l1.3 .6l1.2 .7l1.2 .6l1.3 .1l1.2 -.4l1.2 -.2l1.2 -.2l1.3 .2l1.2 .2l1.2 -.2l1.2 .4l1.3 .4l1.2 -.2l1.2 .7l1.3 -.5l1.2 -.6l1.2 .7l1.2 -.8l1.3 .7l1.2 1.1l1.2 -.8l1.3 .2l1.2 .5l1.2 -.3l1.2 -.1l1.3 .1l1.2 -.1l1.2 .3l1.2 .3l1.3 .3l1.2 -.2l1.2 .3l1.3 .1l1.2 -.4l1.2 -.3l1.2 -.3l1.3 .5l1.2 .4l1.2 0l1.2 -.4l1.3 0l1.2 -.3l1.2 .3l1.3 -.1l1.2 .6l1.2 .9l1.2 -.4l1.3 0l1.2 -.2l1.2 .1l1.2 .7l1.3 .1l1.2 0l1.2 0l1.3 -.5l1.2 1.3l1.2 -.1l1.2 -.9l1.3 .4l1.2 -.4l1.2 .1l1.2 -.2l1.3 -.4l1.2 1.3l1.2 -.3l1.3 -.8l1.2 .8l1.2 0l1.2 .4l1.3 .1l1.2 -.3l1.2 0l1.2 -.3" stroke="#0000ff" stroke-width="3.6" fill="none" stroke-linejoin="round"/>
<path d="M173.2 1509.4l1.2 .7l1.3 .6l1.2 -.6l1.2 -.6l1.2 -.4l1.3 .3l1.2 .6l1.2 -.5l1.2 .1l1.3 .3l1.2 -.7l1.2 -.4l1.3 -.1l1.2 .3l1.2 .2l1.2 -.7l1.3 -.4l1.2 .2l1.2 .2l1.2 -.3l1.3 .4l1.2 .8l1.2 .2l1.3 -.2l1.2 -.2l1.2 -.4l1.2 -.5l1.3 .6l1.2 .1l1.2 -.5l1.3 -.1l1.2 .5l1.2 .6l1.2 -.6l1.3 -.4l1.2 .3l1.2 -.6l1.2 .2l1.3 .9l1.2 0l1.2 -1l1.3 -.2l1.2 .3l1.2 -.3l1.2 -.5l1.3 .4l1.2 .5l1.2 -.4l1.2 .2l1.3 0l1.2 .4l1.2 -.1l1.3 -.1l1.2 -.3l1.2 -.4l1.2 .9l1.3 0l1.2 -.8l1.2 .1l1.2 .9l1.3 -.2l1.2 -.7l1.2 -.1l1.3 -.1l1.2 -.5l1.2 -.3l1.2 0l1.3 .4l1.2 -.3l1.2 .5l1.2 1l1.3 -.2l1.2 -.4l1.2 -.5l1.3 .2l1.2 0l1.2 -.8l1.2 -.2l1.3 .1l1.2 -.3l1.2 -.4l1.3 .5l1.2 .5l1.2 .2l1.2 .1l1.3 -.3l1.2 -.2l1.2 .2l1.2 -.2l1.3 -.7l1.2 .3l1.2 .1l1.3 -.8l1.2 -.5l1.2 .5l1.2 .3l1.3 -.3l1.2 -.5l1.2 -.5l1.2 .3l1.3 .3l1.2 -.5l1.2 -.1l1.3 -.2l1.2 .1l1.2 .2l1.2 -1.2l1.3 -.5l1.2 .8l1.2 -.5l1.2 -.6l1.3 .1l1.2 -.2l1.2 -.9l1.3 0l1.2 .8l1.2 -.5l1.2 -.9l1.3 .4l1.2 .2l1.2 -1.2l1.2 -.6l1.3 -.2l1.2 .1l1.2 .3l1.3 0l1.2 .5l1.2 -1.1l1.2 -.8l1.3 0l1.2 -.5l1.2 -.3l1.2 -.5l1.3 -1.1l1.2 -.7l1.2 .5l1.3 -.4l1.2 .4l1.2 -.7l1.2 -1.1l1.3 -.7l1.2 -.3l1.2 -.6l1.3 0l1.2 .5l1.2 -1.9l1.2 -1l1.3 .3l1.2 -.5l1.2 -.2l1.2 -.5l1.3 -1.5l1.2 -.7l1.2 .7l1.3 -.3l1.2 -1.5l1.2 0l1.2 .1l1.3 -.5l1.2 -.2l1.2 -.1l1.2 -.9l1.3 -1.1l1.2 -.2l1.2 1.1l1.3 -.4l1.2 0l1.2 -.4l1.2 -1.5l1.3 1l1.2 -.3l1.2 -1l1.2 .6l1.3 1l1.2 -.9l1.2 -1l1.3 .6l1.2 -.4l1.2 0l1.2 -.2l1.3 -1.3l1.2 .8l1.2 1.1l1.2 -.8l1.3 -.4l1.2 1.2l1.2 -.6l1.3 -.7l1.2 -.1l1.2 .4l1.2 .3l1.3 -1l1.2 -.1l1.2 .6l1.3 .9l1.2 -.9l1.2 -1.4l1.2 .1l1.3 .1l1.2 .3l1.2 .6l1.2 -1.1l1.3 -1.4l1.2 -.5l1.2 .4l1.3 1.3l1.2 1.4l1.2 -.8l1.2 -2.1l1.3 -.4l1.2 -.2l1.2 .5l1.2 -.6l1.3 -1.8l1.2 -1.1l1.2 -.4l1.3 .1l1.2 1.3l1.2 1.3l1.2 -.7l1.3 -1.7l1.2 -1.2l1.2 .6l1.2 .1l1.3 -1.3l1.2 -.2l1.2 -.6l1.3 -1.9l1.2 -1.6l1.2 -.5l1.2 1.6l1.3 -1.5l1.2 -1.9l1.2 .1l1.2 -.2l1.3 -1l1.2 -.7l1.2 -.3l1.3 -.9l1.2 -1.9l1.2 -1.6l1.2 .7l1.3 -.5l1.2 -1.3l1.2 -1.1l1.3 -1.6l1.2 -.6l1.2 -1.4l1.2 -2l1.3 .5l1.2 -.2l1.2 -.9l1.2 .1l1.3 -.8l1.2 -1.3l1.2 -1.4l1.3 -2.4l1.2 -2.3l1.2 -.4l1.2 -.3l1.3 -2l1.2 -2.4l1.2 -2.3l1.2 -1.1l1.3 -.7l1.2 -.1l1.2 -.8l1.3 -3.1l1.2 -1.2l1.2 -.4l1.2 -3.7l1.3 -2.8l1.2 .6l1.2 -1.3l1.2 -1.5l1.3 .1l1.2 -1l1.2 -1.7l1.3 -2.4l1.2 -1.4l1.2 -.3l1.2 -.4l1.3 -.2l1.2 -2.3l1.2 -2.3l1.2 -2.1l1.3 -2l1.2 -1.1l1.2 .1l1.3 -1.7l1.2 -.8l1.2 -.4l1.2 -2.7l1.3 -2l1.2 .4l1.2 .6l1.2 -1.2l1.3 1l1.2 -1.6l1.2 -1.8l1.3 -.5l1.2 .1l1.2 .4l1.2 -1.4l1.3 1.1l1.2 -.9l1.2 .3l1.3 1.9l1.2 2.9l1.2 .6l1.2 .2l1.3 2.5l1.2 -.2l1.2 0l1.2 -2.1l1.3 1.3l1.2 3.2l1.2 1.8l1.3 1.7l1.2 2.5l1.2 1.1l1.2 -.5l1.3 3l1.2 3.6l1.2 .7l1.2 -.7l1.3 1.6l1.2 2.9l1.2 .1l1.3 1.2l1.2 1.1l1.2 -1.1l1.2 3.7l1.3 1.8l1.2 -.8l1.2 1.3l1.2 .6l1.3 .4l1.2 2.1l1.2 2.3l1.3 1.5l1.2 1.6l1.2 .3l1.2 .2l1.3 2l1.2 .5l1.2 .1l1.2 1.4l1.3 2.2l1.2 1.8l1.2 -.2l1.3 .4l1.2 1.9l1.2 2.2l1.2 1l1.3 -.2l1.2 -1.7l1.2 -3l1.3 -4.2l1.2 6.2l1.2 4.6l1.2 1.7l1.3 4l1.2 2.3l1.2 .3l1.2 .1l1.3 0l1.2 .7l1.2 1.2l1.3 0l1.2 .8l1.2 2l1.2 1.5l1.3 .8l1.2 1.4l1.2 -.2l1.2 .8l1.3 1.9l1.2 .5l1.2 -.1l1.3 .1l1.2 .3l1.2 .2l1.2 2.6l1.3 1.5l1.2 -1.1l1.2 -.4l1.2 .1l1.3 1.5l1.2 1.2l1.2 .8l1.3 -.2l1.2 -.3l1.2 .6l1.2 .5l1.3 1.1l1.2 1.2l1.2 -.9l1.2 .4l1.3 1.9l1.2 -1.1l1.2 .2l1.3 .8l1.2 -.9l1.2 0l1.2 .6l1.3 .9l1.2 .1l1.2 .3l1.3 .6l1.2 .6l1.2 .8l1.2 .9l1.3 -.6l1.2 -.5l1.2 0l1.2 1.1l1.3 1.9l1.2 -.3l1.2 0l1.3 .1l1.2 .2l1.2 .3l1.2 0l1.3 -.7l1.2 -.1l1.2 1.3l1.2 .6l1.3 0l1.2 -.6l1.2 1.1l1.3 1.3l1.2 -.9l1.2 .2l1.2 -.1l1.3 .2l1.2 .7l1.2 -.5l1.2 -.6l1.3 .1l1.2 1.1l1.2 .3l1.3 .4l1.2 .8l1.2 -.7l1.2 .6l1.3 .1l1.2 .1l1.2 .4l1.2 -.4l1.3 .2l1.2 .1l1.2 1l1.3 .3l1.2 -.8l1.2 .3l1.2 .1l1.3 .6l1.2 .8l1.2 -1l1.2 -.2l1.3 .7l1.2 .1l1.2 -.4l1.3 .6l1.2 .3l1.2 -.1l1.2 .5l1.3 .5l1.2 -.5l1.2 -.4l1.3 .9l1.2 .4l1.2 .2l1.2 -.3l1.3 .4l1.2 .7l1.2 -.4l1.2 -.2l1.3 .4l1.2 .5l1.2 -.5l1.3 -.9l1.2 .7l1.2 .9l1.2 0l1.3 .2l1.2 -.3l1.2 .7l1.2 1l1.3 -.7l1.2 -.6l1.2 -.2l1.3 0l1.2 0l1.2 .4l1.2 .4l1.3 -.2l1.2 -.4l1.2 -.2l1.2 .7l1.3 .6l1.2 -.5l1.2 -.4l1.3 .1l1.2 .3l1.2 .8l1.2 -.1l1.3 .6l1.2 0l1.2 -.3l1.2 .6l1.3 0l1.2 .3l1.2 .3l1.3 -.8l1.2 .3l1.2 .6l1.2 0l1.3 -.3l1.2 -.9l1.2 1.3l1.3 .6l1.2 -.7l1.2 -.1l1.2 -.2l1.3 .2l1.2 .3l1.2 .5l1.2 -.4l1.3 -.4l1.2 1.2l1.2 .4l1.3 -.2l1.2 .4l1.2 .3l1.2 0l1.3 -.5l1.2 -.8l1.2 .3l1.2 .2l1.3 .6l1.2 .6l1.2 -.2l1.3 -.2l1.2 .3l1.2 .4l1.2 -.1l1.3 .2l1.2 .4l1.2 -.3l1.2 0l1.3 .3l1.2 .2l1.2 .7l1.3 0l1.2 -.1l1.2 -.7l1.2 .1l1.3 .6l1.2 0l1.2 -.2l1.2 -.5l1.3 .4l1.2 .5l1.2 -.6l1.3 -.5l1.2 .5l1.2 .5l1.2 .9l1.3 .3l1.2 -1.2l1.2 0l1.3 1.2l1.2 0l1.2 -.4l1.2 -.3l1.3 -.1l1.2 .2l1.2 -.5l1.2 .3l1.3 .9l1.2 -.1l1.2 -.4l1.3 .5l1.2 0l1.2 .2l1.2 .6l1.3 -.6l1.2 -.8l1.2 .3l1.2 .3l1.3 0l1.2 .7l1.2 .1l1.3 -.5l1.2 -.2l1.2 -.3l1.2 .1l1.3 .1l1.2 -.3l1.2 .9l1.2 .9l1.3 -.2l1.2 -.7l1.2 -.5l1.3 .7l1.2 .6l1.2 .2l1.2 .1l1.3 -1.1l1.2 -.1l1.2 1.2l1.2 .3l1.3 .3l1.2 -.5l1.2 -.6l1.3 -.4l1.2 -.5l1.2 1.1l1.2 1.1l1.3 .1l1.2 -.7l1.2 -1.3l1.2 .5" stroke="#0000ff" stroke-width="3.6" fill="none" stroke-linejoin="round"/>
<path d="M173.2 1508.5l1.2 -.3l1.3 .3l1.2 -.2l1.2 -.7l1.2 0l1.3 .5l1.2 .3l1.2 -.7l1.2 -.1l1.3 .9l1.2 -.1l1.2 -.4l1.3 .2l1.2 -.1l1.2 .4l1.2 .2l1.3 -.1l1.2 0l1.2 -.5l1.2 -.6l1.3 -.1l1.2 0l1.2 .2l1.3 .3l1.2 .3l1.2 -.4l1.2 -.3l1.3 .1l1.2 -.1l1.2 -.5l1.3 .4l1.2 .6l1.2 .1l1.2 .1l1.3 -.6l1.2 -.2l1.2 .9l1.2 .3l1.3 -.9l1.2 -.3l1.2 .2l1.3 -.2l1.2 -.2l1.2 .2l1.2 -.3l1.3 -.3l1.2 .8l1.2 .3l1.2 -1l1.3 -.2l1.2 0l1.2 .1l1.3 .1l1.2 -.1l1.2 .3l1.2 -.2l1.3 -.4l1.2 .3l1.2 .3l1.2 -.1l1.3 .1l1.2 -.2l1.2 -.1l1.3 0l1.2 -.5l1.2 .2l1.2 1.1l1.3 -.9l1.2 -1.3l1.2 .9l1.2 .7l1.3 -.7l1.2 -.1l1.2 .3l1.3 .2l1.2 .4l1.2 -.9l1.2 -.6l1.3 .9l1.2 -.2l1.2 -1.1l1.3 .1l1.2 .1l1.2 .4l1.2 -.1l1.3 -.5l1.2 .3l1.2 .1l1.2 -.4l1.3 -1.3l1.2 .1l1.2 .8l1.3 -.1l1.2 -.1l1.2 -.7l1.2 -.4l1.3 -.3l1.2 -.4l1.2 1.2l1.2 .1l1.3 -.7l1.2 .7l1.2 .3l1.3 -.6l1.2 -1.1l1.2 -.6l1.2 .2l1.3 .4l1.2 -.1l1.2 -.6l1.2 -.4l1.3 .1l1.2 .6l1.2 0l1.3 -1l1.2 -.5l1.2 -.3l1.2 -.5l1.3 .3l1.2 -.1l1.2 -.9l1.2 .2l1.3 .5l1.2 -1l1.2 -.3l1.3 0l1.2 -.5l1.2 -.3l1.2 -.4l1.3 -.8l1.2 -.5l1.2 0l1.2 -.5l1.3 -.3l1.2 .2l1.2 -.1l1.3 -1.5l1.2 -.7l1.2 .7l1.2 -1l1.3 -1.2l1.2 -.5l1.2 -.5l1.3 .3l1.2 -1.1l1.2 -1.4l1.2 .6l1.3 .3l1.2 .5l1.2 -.1l1.2 -1.8l1.3 -1.3l1.2 .1l1.2 .5l1.3 -.6l1.2 -.7l1.2 -.4l1.2 -.9l1.3 .7l1.2 -.2l1.2 -.8l1.2 -.8l1.3 -.8l1.2 .6l1.2 -.8l1.3 -1.3l1.2 .5l1.2 -.6l1.2 -.2l1.3 .8l1.2 -.3l1.2 -.3l1.2 .2l1.3 -1l1.2 -.3l1.2 .3l1.3 0l1.2 .5l1.2 -.1l1.2 .2l1.3 -.9l1.2 0l1.2 .4l1.2 -.9l1.3 .9l1.2 -.1l1.2 -.5l1.3 .4l1.2 0l1.2 -.6l1.2 .1l1.3 .8l1.2 -.9l1.2 -1.7l1.3 -.5l1.2 .3l1.2 .9l1.2 -.1l1.3 -.6l1.2 .6l1.2 -1.6l1.2 -1.1l1.3 1l1.2 1.2l1.2 -.1l1.3 -1.2l1.2 -.2l1.2 -.4l1.2 .2l1.3 .2l1.2 -1.2l1.2 -.1l1.2 .4l1.3 -1.2l1.2 -.7l1.2 .1l1.3 .1l1.2 -.4l1.2 -1l1.2 -.5l1.3 -.3l1.2 -.3l1.2 -.3l1.2 -.4l1.3 -.4l1.2 -.2l1.2 -1.8l1.3 .6l1.2 1.2l1.2 -2.2l1.2 -1.4l1.3 -2.1l1.2 -1.6l1.2 -.1l1.2 .2l1.3 .3l1.2 -.3l1.2 -.7l1.3 -2.1l1.2 -.7l1.2 -.9l1.2 -1.6l1.3 .5l1.2 0l1.2 -1.6l1.3 -2l1.2 -.7l1.2 .1l1.2 -1.4l1.3 -1.5l1.2 -1.3l1.2 -1.5l1.2 .3l1.3 -.4l1.2 -2.6l1.2 -2.6l1.3 -1.4l1.2 0l1.2 -1l1.2 -.8l1.3 -1.6l1.2 -1.1l1.2 -.1l1.2 -1.8l1.3 -2.2l1.2 -2.8l1.2 -1.4l1.3 -1.9l1.2 -2.5l1.2 -1.5l1.2 -.9l1.3 -.5l1.2 -.7l1.2 -1.8l1.2 -1.5l1.3 0l1.2 -1.9l1.2 -2.7l1.3 -.6l1.2 .2l1.2 -1.4l1.2 -.3l1.3 -2.4l1.2 -2.8l1.2 -1.3l1.2 -2.3l1.3 -.2l1.2 -.9l1.2 .4l1.3 -1.3l1.2 -2.1l1.2 -1.6l1.2 -1.7l1.3 -.3l1.2 -.5l1.2 .8l1.2 -.2l1.3 -3l1.2 -2.2l1.2 .7l1.3 -.5l1.2 .1l1.2 .3l1.2 .3l1.3 -1.6l1.2 1.2l1.2 2.7l1.3 .9l1.2 2l1.2 1l1.2 -2.3l1.3 -1.7l1.2 .8l1.2 .4l1.2 2l1.3 3.5l1.2 2.1l1.2 1.9l1.3 .9l1.2 .6l1.2 1.7l1.2 -.5l1.3 2.2l1.2 2.8l1.2 .8l1.2 1.8l1.3 .9l1.2 -.1l1.2 1.6l1.3 2.2l1.2 -.7l1.2 -.1l1.2 2.5l1.3 2.4l1.2 .3l1.2 1.1l1.2 3.1l1.3 2.4l1.2 1.7l1.2 .5l1.3 .8l1.2 .3l1.2 1.5l1.2 1.4l1.3 .6l1.2 1.8l1.2 .7l1.2 1.2l1.3 2l1.2 2.4l1.2 1.3l1.3 .8l1.2 .8l1.2 .1l1.2 .5l1.3 1l1.2 -1.3l1.2 -3.9l1.3 -4.7l1.2 5.3l1.2 4l1.2 3.4l1.3 5.1l1.2 1l1.2 0l1.2 1.3l1.3 1.2l1.2 .2l1.2 1l1.3 1.1l1.2 .1l1.2 1.4l1.2 1.4l1.3 .8l1.2 .3l1.2 -.9l1.2 .6l1.3 2.5l1.2 .5l1.2 0l1.3 1.1l1.2 .7l1.2 -.4l1.2 -.2l1.3 1.8l1.2 .7l1.2 -.6l1.2 1.6l1.3 .9l1.2 -.4l1.2 2l1.3 .4l1.2 -.8l1.2 .8l1.2 1.5l1.3 .6l1.2 -.3l1.2 -.4l1.2 .3l1.3 .4l1.2 1l1.2 1.5l1.3 -.9l1.2 -1.1l1.2 1.2l1.2 1.2l1.3 .1l1.2 .1l1.2 .1l1.3 .5l1.2 .7l1.2 1.4l1.2 -.4l1.3 -.1l1.2 1.4l1.2 .6l1.2 .1l1.3 -.1l1.2 .2l1.2 .3l1.3 -.3l1.2 -.3l1.2 1.1l1.2 -.1l1.3 0l1.2 -.3l1.2 -.2l1.2 1.1l1.3 .3l1.2 .1l1.2 -1.1l1.3 .4l1.2 1.4l1.2 .5l1.2 .6l1.3 -.4l1.2 -.5l1.2 .9l1.2 .8l1.3 .1l1.2 .4l1.2 0l1.3 .3l1.2 .6l1.2 -1.3l1.2 .7l1.3 1.5l1.2 -1l1.2 .3l1.2 .9l1.3 -.3l1.2 -.6l1.2 -.1l1.3 1.1l1.2 .6l1.2 -.9l1.2 -.7l1.3 .1l1.2 1.4l1.2 .4l1.2 -.2l1.3 0l1.2 -.2l1.2 -.4l1.3 .8l1.2 .4l1.2 0l1.2 .8l1.3 .3l1.2 .1l1.2 -.4l1.3 -.3l1.2 1.4l1.2 .4l1.2 -1.2l1.3 -.2l1.2 .1l1.2 .4l1.2 .2l1.3 .8l1.2 .4l1.2 -.2l1.3 .7l1.2 .4l1.2 -.4l1.2 -.7l1.3 .7l1.2 .4l1.2 -1l1.2 .3l1.3 -.1l1.2 .1l1.2 .2l1.3 -.3l1.2 -.2l1.2 -.4l1.2 1.1l1.3 .2l1.2 -1l1.2 1.3l1.2 .2l1.3 -.9l1.2 1l1.2 -.2l1.3 -.5l1.2 .9l1.2 .4l1.2 0l1.3 -.1l1.2 .1l1.2 .2l1.2 .4l1.3 0l1.2 -.4l1.2 -.3l1.3 .5l1.2 .8l1.2 .5l1.2 -.8l1.3 -.8l1.2 1.1l1.2 1.3l1.3 -.4l1.2 -.3l1.2 -.1l1.2 -1l1.3 .3l1.2 1.4l1.2 -.3l1.2 -.7l1.3 .2l1.2 .4l1.2 .4l1.3 0l1.2 .6l1.2 .2l1.2 -.5l1.3 0l1.2 .9l1.2 .2l1.2 -.9l1.3 .5l1.2 .1l1.2 .1l1.3 .2l1.2 .4l1.2 .4l1.2 -.6l1.3 0l1.2 -.1l1.2 -.2l1.2 .9l1.3 .4l1.2 -.8l1.2 -.2l1.3 0l1.2 .3l1.2 .4l1.2 -.3l1.3 .7l1.2 .3l1.2 .1l1.2 .1l1.3 -.9l1.2 0l1.2 .4l1.3 .2l1.2 -.2l1.2 .4l1.2 -.4l1.3 -.5l1.2 .6l1.2 0l1.3 .5l1.2 -.1l1.2 -.3l1.2 .6l1.3 .3l1.2 0l1.2 .4l1.2 .6l1.3 -.1l1.2 -.8l1.2 -.5l1.3 0l1.2 -.1l1.2 .3l1.2 .6l1.3 0l1.2 .2l1.2 -.3l1.2 .3l1.3 .3l1.2 -.3l1.2 .2l1.3 -.8l1.2 -.1l1.2 1l1.2 -.2l1.3 -.1l1.2 .3l1.2 .3l1.2 .9l1.3 -.9l1.2 -.7l1.2 .9l1.3 .6l1.2 .1l1.2 -.1l1.2 -.1l1.3 .6l1.2 .2l1.2 -1.1l1.2 -.4l1.3 -.1l1.2 .1l1.2 .9l1.3 -.3l1.2 0l1.2 .5l1.2 -.2l1.3 0l1.2 .7l1.2 -.3l1.2 -.2" stroke="#0000ff" stroke-width="3.6" fill="none" stroke-linejoin="round"/>
</g>
<text x="431.55" y="35.70" font-size="45.50" textLength="242.5" lengthAdjust="spacing" font-family="Liberation Sans, sans-serif">Energy (eV)</text>
<text x="437.95" y="879.80" font-size="45.50" textLength="242.6" lengthAdjust="spacing" font-family="Liberation Sans, sans-serif">Energy (eV)</text>
<text x="381.85" y="759.80" font-size="45.60" textLength="345.8" lengthAdjust="spacing" font-family="Liberation Sans, sans-serif">Wavelength (nm)</text>
<text x="402.15" y="1602.00" font-size="45.60" textLength="345.9" lengthAdjust="spacing" font-family="Liberation Sans, sans-serif">Wavelength (nm)</text>
<text transform="translate(36.20,513.40) rotate(-90)" x="-4.25" y="0" font-size="45.60" textLength="291.3" lengthAdjust="spacing" font-family="Liberation Sans, sans-serif">Intensity (a.u.)</text>
<text transform="translate(59.70,1357.60) rotate(-90)" x="-4.25" y="0" font-size="45.60" textLength="290.1" lengthAdjust="spacing" font-family="Liberation Sans, sans-serif">Intensity (a.u.)</text>
<text x="198.65" y="185.60" font-size="78.50" font-family="Liberation Sans, sans-serif">(a)</text>
<text x="200.75" y="1033.40" font-size="78.50" font-family="Liberation Sans, sans-serif">(b)</text>
<line x1="188.6" y1="529.4" x2="250.7" y2="529.4" stroke="#c0c0c0" stroke-width="2.9" stroke-linecap="round"/>
<line x1="188.6" y1="563.6" x2="250.7" y2="563.6" stroke="#ff0000" stroke-width="2.9" stroke-linecap="round"/>
<line x1="188.6" y1="598.0" x2="250.7" y2="598.0" stroke="#0000ff" stroke-width="2.9" stroke-linecap="round"/>
<line x1="195.7" y1="1366.7" x2="257.4" y2="1366.7" stroke="#c0c0c0" stroke-width="2.9" stroke-linecap="round"/>
<line x1="195.7" y1="1410.3" x2="257.4" y2="1410.3" stroke="#ff0000" stroke-width="2.9" stroke-linecap="round"/>
<line x1="195.7" y1="1444.3" x2="257.4" y2="1444.3" stroke="#0000ff" stroke-width="2.9" stroke-linecap="round"/>
<text x="257.75" y="538.50" font-size="27.70" textLength="215.4" lengthAdjust="spacing" font-family="Liberation Sans, sans-serif">MoS2 (as-grown)</text>
<text x="259.25" y="572.30" font-size="27.70" textLength="160.1" lengthAdjust="spacing" font-family="Liberation Sans, sans-serif">ss-DNAp-SH</text>
<text x="258.25" y="606.70" font-size="27.70" textLength="135.8" lengthAdjust="spacing" font-family="Liberation Sans, sans-serif">miRNA21c</text>
<text x="263.95" y="1376.00" font-size="27.70" textLength="58.8" lengthAdjust="spacing" font-family="Liberation Sans, sans-serif">MoS</text>
<text x="322.05" y="1386.90" font-size="16.00" font-family="Liberation Sans, sans-serif">2</text>
<text x="338.55" y="1376.00" font-size="27.70" textLength="134.4" lengthAdjust="spacing" font-family="Liberation Sans, sans-serif">(as-grown)</text>
<text x="265.45" y="1419.00" font-size="27.70" textLength="160.2" lengthAdjust="spacing" font-family="Liberation Sans, sans-serif">ss-DNAp-SH</text>
<text x="264.45" y="1453.00" font-size="27.70" textLength="150.3" lengthAdjust="spacing" font-family="Liberation Sans, sans-serif">miRNA21nc</text>
<defs>
<filter id="bl3" x="-20%" y="-20%" width="140%" height="140%"><feGaussianBlur stdDeviation="2.4"/></filter>
<filter id="bl8" x="-30%" y="-30%" width="160%" height="160%"><feGaussianBlur stdDeviation="8"/></filter>
<linearGradient id="bga" x1="0" y1="0" x2="0" y2="1">
 <stop offset="0" stop-color="#4d5f96"/><stop offset="0.5" stop-color="#44558c"/><stop offset="1" stop-color="#2f3a6c"/>
</linearGradient>
<linearGradient id="bgb" x1="0" y1="0" x2="1" y2="0">
 <stop offset="0" stop-color="#4f5f96"/><stop offset="0.45" stop-color="#485891"/><stop offset="1" stop-color="#2f3c6e"/>
</linearGradient>
<clipPath id="ia"><rect x="695.4" y="138.9" width="205" height="224.4"/></clipPath>
<clipPath id="ib"><rect x="700.4" y="987.9" width="206" height="192.6"/></clipPath>
</defs>
<g clip-path="url(#ia)">
<rect x="695.4" y="138.9" width="205" height="224.4" fill="url(#bga)"/>
<path d="M825.2 163.8C829.0 165.6 833.7 173.1 837.7 180.0C841.7 186.9 844.8 195.5 849.0 205.0C853.2 214.5 858.9 226.6 862.7 236.8C866.5 247.0 869.5 256.5 871.8 266.4C874.1 276.3 875.6 287.1 876.4 296.0C877.2 304.9 877.2 313.9 876.6 320.0C876.0 326.1 874.9 330.1 872.5 332.5C870.1 334.9 865.9 334.5 862.0 334.5C858.1 334.5 858.7 334.6 849.0 332.3C839.3 330.0 818.7 324.7 803.6 320.9C788.5 317.1 771.5 313.3 758.2 309.5C745.0 305.7 732.1 301.4 724.1 298.2C716.1 294.9 713.2 292.7 710.0 290.0C706.8 287.3 705.2 284.7 705.0 282.0C704.8 279.3 707.0 277.4 709.0 274.0C711.0 270.6 712.9 267.2 717.3 261.8C721.7 256.4 728.7 248.2 735.5 241.4C742.3 234.6 750.6 228.1 758.2 220.9C765.8 213.7 773.3 205.0 780.9 198.2C788.5 191.4 797.9 184.8 803.6 180.0C809.3 175.2 811.4 172.2 815.0 169.5C818.6 166.8 821.4 162.1 825.2 163.8Z" fill="#bccbf5" filter="url(#bl3)"/>
</g>
<rect x="695.4" y="138.9" width="205" height="224.4" fill="none" stroke="#000" stroke-width="2"/>
<g clip-path="url(#ib)">
<rect x="700.4" y="987.9" width="206" height="192.6" fill="url(#bgb)"/>
<path d="M812 984 L840 984 L915 1040 L915 1160 L885 1160 Z" fill="#26305c" opacity="0.6" filter="url(#bl8)"/>
<path d="M826.0 984.0C817.7 984.5 829.7 987.4 831.4 989.0C833.1 990.6 840.4 998.2 842.7 1000.5C845.0 1002.8 851.6 1010.2 854.1 1011.8C856.6 1013.4 864.3 1015.3 867.7 1016.4C871.1 1017.5 884.6 1021.6 888.2 1023.2C891.8 1024.8 901.7 1031.0 904.1 1032.3C906.5 1033.6 911.0 1040.8 912.0 1036.0C913.0 1031.2 922.6 989.2 914.0 984.0C905.4 978.8 834.3 983.5 826.0 984.0Z" fill="#a3b2ef" filter="url(#bl3)"/>
<path d="M799.5 1000.5C801.7 1000.3 803.7 1003.0 806.0 1006.0C808.3 1009.0 809.0 1011.6 813.2 1018.6C817.4 1025.6 824.6 1037.6 831.4 1048.2C838.2 1058.8 846.5 1070.9 854.1 1082.3C861.7 1093.7 871.5 1108.0 876.8 1116.4C882.1 1124.9 884.2 1128.7 886.0 1133.0C887.8 1137.3 888.2 1139.2 887.5 1142.0C886.8 1144.8 884.5 1148.2 882.0 1150.0C879.5 1151.8 880.7 1151.5 872.3 1152.7C863.9 1153.9 845.8 1156.2 831.4 1157.3C817.0 1158.4 801.0 1158.9 785.9 1159.5C770.8 1160.1 750.1 1160.9 740.5 1160.7C730.9 1160.5 730.8 1160.0 728.0 1158.5C725.2 1157.0 723.7 1155.2 723.5 1152.0C723.3 1148.8 724.0 1146.2 726.8 1139.1C729.6 1132.0 734.4 1121.6 740.5 1109.5C746.6 1097.4 756.4 1079.7 763.2 1066.4C770.0 1053.2 776.5 1039.8 781.4 1030.0C786.3 1020.1 789.7 1012.2 792.7 1007.3C795.7 1002.4 797.3 1000.7 799.5 1000.5Z" fill="#c0cff7" filter="url(#bl3)"/>
</g>
<rect x="700.4" y="987.9" width="206" height="192.6" fill="none" stroke="#000" stroke-width="2"/>
</svg>
</body></html>
